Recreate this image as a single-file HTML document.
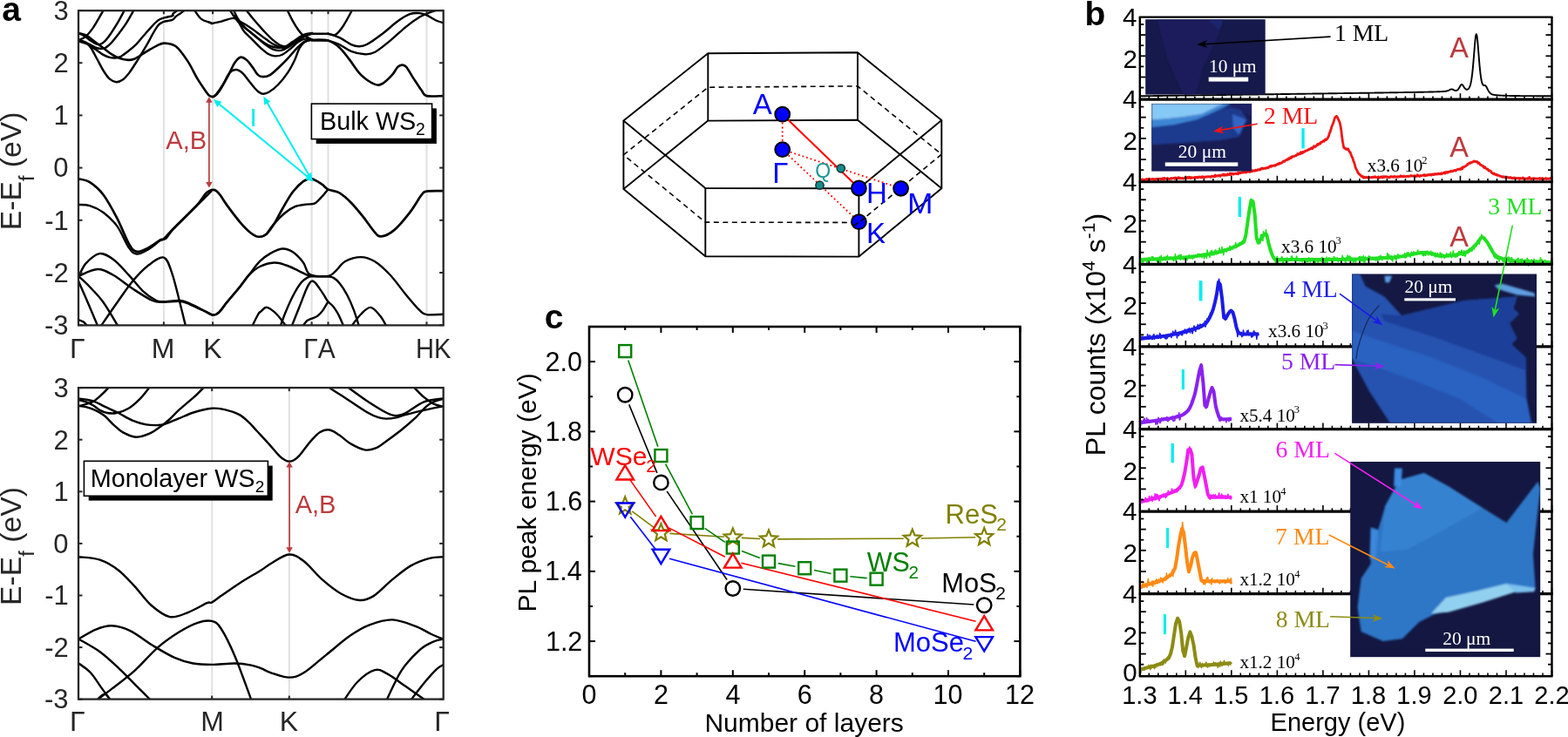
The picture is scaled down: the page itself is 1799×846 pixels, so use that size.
<!DOCTYPE html>
<html><head><meta charset="utf-8"><style>html,body{margin:0;padding:0;background:#fff;overflow:hidden}svg{display:block}</style></head>
<body><svg width="1799" height="846" viewBox="0 0 1799 846">
<rect width="1799" height="846" fill="#fff"/>
<line x1="187.90" y1="12.20" x2="187.90" y2="373.40" stroke="#e0e0e0" stroke-width="2"/>
<line x1="244.10" y1="12.20" x2="244.10" y2="373.40" stroke="#e0e0e0" stroke-width="2"/>
<line x1="357.60" y1="12.20" x2="357.60" y2="373.40" stroke="#e0e0e0" stroke-width="2"/>
<line x1="376.50" y1="12.20" x2="376.50" y2="373.40" stroke="#e0e0e0" stroke-width="2"/>
<line x1="489.50" y1="12.20" x2="489.50" y2="373.40" stroke="#e0e0e0" stroke-width="2"/>
<line x1="243.20" y1="445.10" x2="243.20" y2="802.60" stroke="#e0e0e0" stroke-width="2"/>
<line x1="331.80" y1="445.10" x2="331.80" y2="802.60" stroke="#e0e0e0" stroke-width="2"/>
<clipPath id="cpT"><rect x="90" y="12.2" width="418.7" height="361.2"/></clipPath>
<clipPath id="cpB"><rect x="90" y="445.1" width="418.7" height="357.5"/></clipPath>
<g clip-path="url(#cpT)">
<path d="M90.60,38.13 C92.14,38.62 96.70,39.41 99.82,41.08 C102.93,42.76 106.12,45.81 109.27,48.17 C112.42,50.54 115.57,52.90 118.72,55.26 C121.87,57.62 125.02,60.38 128.17,62.35 C131.32,64.32 134.47,65.99 137.62,67.08 C140.78,68.16 144.32,68.75 147.08,68.85 C149.83,68.95 151.80,68.55 154.17,67.67 C156.53,66.78 158.50,65.21 161.25,63.53 C164.01,61.86 167.56,59.50 170.71,57.62 C173.86,55.75 177.21,53.65 180.16,52.31 C183.11,50.97 184.82,49.42 188.43,49.59 C192.04,49.76 197.35,49.88 201.83,53.30 C206.31,56.73 211.19,63.98 215.31,70.15 C219.43,76.33 223.03,84.54 226.54,90.37 C230.05,96.21 234.16,101.96 236.36,105.15 C238.56,108.33 238.62,108.52 239.76,109.50 C240.89,110.47 242.02,110.92 243.16,110.99 C244.29,111.06 245.19,110.88 246.55,109.90 C247.91,108.93 248.71,109.11 251.31,105.15 C253.92,101.18 259.24,91.55 262.18,86.12 C265.13,80.68 266.72,75.92 268.98,72.53 C271.25,69.13 273.51,66.41 275.78,65.73 C278.04,65.05 280.31,66.64 282.57,68.45 C284.84,70.26 287.10,73.66 289.37,76.60 C291.64,79.55 294.13,84.19 296.17,86.12 C298.21,88.04 299.34,88.16 301.60,88.16 C303.87,88.16 306.81,87.82 309.76,86.12 C312.70,84.42 315.88,81.13 319.27,77.96 C322.67,74.79 326.52,70.94 330.15,67.09 C333.77,63.24 338.08,57.91 341.02,54.86 C343.97,51.80 345.55,50.21 347.82,48.74 C350.08,47.27 352.91,46.52 354.61,46.02 C356.31,45.52 354.39,45.66 358.01,45.75 C361.63,45.84 371.10,45.11 376.32,46.56 C381.54,48.00 385.30,50.86 389.35,54.42 C393.39,57.98 396.46,62.66 400.58,67.90 C404.70,73.14 409.19,81.08 414.06,85.87 C418.93,90.66 425.66,94.97 429.78,96.65 C433.90,98.34 435.40,97.78 438.77,95.98 C442.14,94.18 447.08,89.05 450.00,85.87 C452.92,82.69 454.42,78.76 456.29,76.88 C458.16,75.01 459.59,74.64 461.23,74.64 C462.88,74.64 463.93,74.26 466.17,76.88 C468.42,79.51 471.79,85.87 474.71,90.36 C477.63,94.86 481.23,100.55 483.70,103.84 C486.17,107.14 485.42,109.08 489.54,110.13 C493.66,111.18 504.89,110.13 508.41,110.13 C511.93,110.13 510.28,110.13 510.65,110.13" fill="none" stroke="#000" stroke-width="2.60" stroke-linejoin="round" stroke-linecap="round"/>
<path d="M243.16,110.99 C243.72,110.81 244.51,112.12 246.55,109.90 C248.59,107.68 252.56,102.09 255.39,97.67 C258.22,93.25 260.94,86.34 263.54,83.40 C266.15,80.45 268.53,79.89 271.02,80.00 C273.51,80.11 275.89,81.70 278.50,84.08 C281.10,86.46 283.93,90.99 286.65,94.27 C289.37,97.56 292.43,101.57 294.81,103.79 C297.19,106.01 298.66,107.25 300.92,107.59 C303.19,107.93 305.34,107.59 308.40,105.83 C311.46,104.06 315.65,100.73 319.27,96.99 C322.90,93.25 326.98,88.16 330.15,83.40 C333.32,78.64 336.04,73.21 338.30,68.45 C340.57,63.69 341.70,58.37 343.74,54.86 C345.78,51.34 348.16,48.87 350.54,47.38 C352.91,45.88 356.77,46.13 358.01,45.88" fill="none" stroke="#000" stroke-width="2.40" stroke-linejoin="round" stroke-linecap="round"/>
<path d="M118.72,11.54 C117.54,13.61 113.80,20.31 111.63,23.95 C109.46,27.59 107.69,30.65 105.72,33.40 C103.75,36.16 101.59,38.72 99.82,40.49 C98.04,42.26 96.63,43.15 95.09,44.04 C93.55,44.92 91.78,45.42 90.60,45.81 C89.42,46.20 88.43,46.30 88.00,46.40" fill="none" stroke="#000" stroke-width="2.40" stroke-linejoin="round" stroke-linecap="round"/>
<path d="M142.94,11.54 C141.66,13.91 137.92,21.19 135.26,25.72 C132.60,30.25 129.55,35.08 126.99,38.72 C124.43,42.36 122.26,45.51 119.90,47.58 C117.54,49.65 115.37,51.22 112.81,51.13 C110.25,51.03 107.10,48.57 104.54,46.99 C101.98,45.42 99.78,43.09 97.45,41.67 C95.13,40.26 92.17,39.07 90.60,38.48 C89.02,37.89 88.43,38.19 88.00,38.13" fill="none" stroke="#000" stroke-width="2.40" stroke-linejoin="round" stroke-linecap="round"/>
<path d="M153.57,11.54 C152.10,14.10 147.77,22.18 144.71,26.90 C141.66,31.63 138.22,36.06 135.26,39.90 C132.31,43.74 129.55,47.38 126.99,49.94 C124.43,52.50 122.46,54.38 119.90,55.26 C117.34,56.15 114.58,56.05 111.63,55.26 C108.68,54.47 104.94,51.72 102.18,50.54 C99.42,49.35 97.02,48.66 95.09,48.17 C93.16,47.68 91.78,47.66 90.60,47.58 C89.42,47.50 88.43,47.68 88.00,47.70" fill="none" stroke="#000" stroke-width="2.40" stroke-linejoin="round" stroke-linecap="round"/>
<path d="M88.00,45.57 C88.43,45.61 88.83,45.28 90.60,45.81 C92.37,46.34 96.31,47.19 98.63,48.76 C100.96,50.34 102.38,52.01 104.54,55.26 C106.71,58.51 109.27,63.93 111.63,68.26 C113.99,72.59 116.36,77.51 118.72,81.25 C121.08,85.00 123.35,88.54 125.81,90.71 C128.27,92.87 130.93,94.15 133.49,94.25 C136.05,94.35 138.71,93.07 141.17,91.30 C143.63,89.53 145.89,86.67 148.26,83.62 C150.62,80.57 153.18,76.33 155.35,72.98 C157.51,69.64 159.09,67.08 161.25,63.53 C163.42,59.99 165.98,55.85 168.34,51.72 C170.71,47.58 173.27,42.46 175.43,38.72 C177.60,34.98 179.57,31.43 181.34,29.27 C183.11,27.10 184.69,26.51 186.07,25.72 C187.45,24.94 187.62,25.03 189.61,24.54 C191.60,24.05 195.96,23.70 198.00,22.77 C200.04,21.83 200.25,20.21 201.83,18.93 C203.40,17.65 205.76,16.31 207.44,15.11 C209.13,13.91 211.19,12.30 211.94,11.74" fill="none" stroke="#000" stroke-width="2.40" stroke-linejoin="round" stroke-linecap="round"/>
<path d="M88.00,47.58 C88.43,47.58 88.63,47.09 90.60,47.58 C92.57,48.07 96.70,49.06 99.82,50.54 C102.93,52.01 106.31,54.47 109.27,56.44 C112.22,58.41 114.78,60.78 117.54,62.35 C120.30,63.93 123.25,65.21 125.81,65.89 C128.37,66.58 130.73,66.68 132.90,66.49 C135.06,66.29 136.44,65.99 138.81,64.71 C141.17,63.43 144.12,61.17 147.08,58.81 C150.03,56.44 153.57,53.49 156.53,50.54 C159.48,47.58 162.04,44.23 164.80,41.08 C167.56,37.93 170.31,34.58 173.07,31.63 C175.83,28.68 178.78,25.23 181.34,23.36 C183.90,21.49 185.65,21.29 188.43,20.41 C191.21,19.52 196.33,18.81 198.00,18.04 C199.67,17.27 197.45,16.83 198.46,15.78 C199.47,14.73 203.14,12.41 204.07,11.74" fill="none" stroke="#000" stroke-width="2.40" stroke-linejoin="round" stroke-linecap="round"/>
<path d="M262.86,10.00 C263.88,11.59 266.83,16.57 268.98,19.51 C271.13,22.46 272.83,24.84 275.78,27.67 C278.72,30.50 283.03,33.56 286.65,36.51 C290.28,39.45 293.90,42.74 297.53,45.34 C301.15,47.95 304.77,50.55 308.40,52.14 C312.02,53.72 316.10,54.63 319.27,54.86 C322.45,55.08 324.71,54.63 327.43,53.50 C330.15,52.36 332.87,49.87 335.58,48.06 C338.30,46.25 341.25,44.09 343.74,42.62 C346.23,41.15 348.16,40.02 350.54,39.22 C352.91,38.43 356.77,38.09 358.01,37.86" fill="none" stroke="#000" stroke-width="2.40" stroke-linejoin="round" stroke-linecap="round"/>
<path d="M267.35,10.00 C268.30,11.93 270.75,17.93 273.06,21.55 C275.37,25.18 278.04,28.58 281.21,31.75 C284.39,34.92 288.46,37.52 292.09,40.58 C295.71,43.64 299.34,47.38 302.96,50.10 C306.59,52.82 310.44,55.65 313.84,56.89 C317.23,58.14 320.41,58.14 323.35,57.57 C326.30,57.01 328.79,55.20 331.51,53.50 C334.23,51.80 336.94,49.30 339.66,47.38 C342.38,45.45 344.76,43.48 347.82,41.94 C350.88,40.40 356.31,38.77 358.01,38.14" fill="none" stroke="#000" stroke-width="2.40" stroke-linejoin="round" stroke-linecap="round"/>
<path d="M223.17,11.74 C224.48,13.43 227.85,19.42 231.03,21.85 C234.22,24.28 240.25,25.49 242.27,26.34 C244.29,27.20 241.42,27.22 243.16,26.99 C244.89,26.76 248.59,25.97 252.67,24.95 C256.75,23.93 263.77,20.87 267.62,20.87 C271.47,20.87 272.83,23.37 275.78,24.95 C278.72,26.54 282.12,28.35 285.29,30.39 C288.46,32.43 291.41,34.69 294.81,37.18 C298.21,39.68 302.06,42.85 305.68,45.34 C309.31,47.83 312.93,50.55 316.55,52.14 C320.18,53.72 324.26,55.08 327.43,54.86 C330.60,54.63 332.87,52.36 335.58,50.78 C338.30,49.19 341.25,46.93 343.74,45.34 C346.23,43.75 348.16,42.49 350.54,41.26 C352.91,40.04 356.77,38.54 358.01,38.00" fill="none" stroke="#000" stroke-width="2.40" stroke-linejoin="round" stroke-linecap="round"/>
<path d="M281.21,10.00 C283.03,12.27 288.46,19.29 292.09,23.59 C295.71,27.90 299.56,32.20 302.96,35.83 C306.36,39.45 309.31,42.62 312.48,45.34 C315.65,48.06 319.05,50.89 321.99,52.14 C324.94,53.38 327.43,53.38 330.15,52.82 C332.87,52.25 335.58,50.32 338.30,48.74 C341.02,47.15 343.17,45.00 346.46,43.30 C349.74,41.60 356.09,39.34 358.01,38.54" fill="none" stroke="#000" stroke-width="2.40" stroke-linejoin="round" stroke-linecap="round"/>
<path d="M268.98,18.16 C269.89,19.51 272.61,23.37 274.42,26.31 C276.23,29.26 277.36,32.65 279.86,35.83 C282.35,39.00 286.20,42.17 289.37,45.34 C292.54,48.51 295.71,52.02 298.88,54.86 C302.06,57.69 305.68,60.75 308.40,62.33 C311.12,63.92 312.70,64.26 315.20,64.37 C317.69,64.48 320.41,64.37 323.35,63.01 C326.30,61.65 329.69,58.71 332.87,56.21 C336.04,53.72 339.44,49.98 342.38,48.06 C345.33,46.13 347.93,45.07 350.54,44.66 C353.14,44.25 356.77,45.45 358.01,45.61" fill="none" stroke="#000" stroke-width="2.40" stroke-linejoin="round" stroke-linecap="round"/>
<path d="M328.79,10.00 C329.92,12.27 333.32,19.51 335.58,23.59 C337.85,27.67 340.34,31.63 342.38,34.47 C344.42,37.30 346.23,39.22 347.82,40.58 C349.40,41.94 350.20,41.78 351.90,42.62 C353.59,43.46 356.99,45.11 358.01,45.61" fill="none" stroke="#000" stroke-width="2.40" stroke-linejoin="round" stroke-linecap="round"/>
<path d="M357.90,38.70 C360.97,38.70 373.25,38.70 376.32,38.70" fill="none" stroke="#000" stroke-width="2.40" stroke-linejoin="round" stroke-linecap="round"/>
<path d="M357.90,46.56 C360.97,46.56 373.25,46.56 376.32,46.56" fill="none" stroke="#000" stroke-width="2.40" stroke-linejoin="round" stroke-linecap="round"/>
<path d="M403.95,11.74 C402.26,14.73 397.02,25.03 393.84,29.71 C390.66,34.39 387.78,38.32 384.86,39.82 C381.94,41.32 377.74,38.88 376.32,38.70" fill="none" stroke="#000" stroke-width="2.40" stroke-linejoin="round" stroke-linecap="round"/>
<path d="M376.32,38.70 C378.49,39.44 384.93,41.13 389.35,43.19 C393.77,45.25 399.08,49.37 402.83,51.05 C406.57,52.74 408.82,53.30 411.81,53.30 C414.81,53.30 416.30,53.48 420.80,51.05 C425.29,48.62 432.78,43.19 438.77,38.70 C444.76,34.20 451.50,27.84 456.74,24.09 C461.98,20.35 466.10,17.73 470.22,16.23 C474.34,14.73 478.23,14.92 481.45,15.11 C484.67,15.30 486.54,16.04 489.54,17.36 C492.53,18.67 495.90,21.36 499.42,22.97 C502.94,24.58 508.78,26.34 510.65,27.01" fill="none" stroke="#000" stroke-width="2.40" stroke-linejoin="round" stroke-linecap="round"/>
<path d="M376.32,46.56 C378.49,47.31 384.93,48.99 389.35,51.05 C393.77,53.11 397.96,57.04 402.83,58.91 C407.69,60.79 414.06,62.10 418.55,62.28 C423.04,62.47 424.92,62.66 429.78,60.04 C434.65,57.42 441.76,51.43 447.75,46.56 C453.74,41.69 460.11,35.33 465.73,30.83 C471.34,26.34 477.48,22.11 481.45,19.60 C485.42,17.09 486.92,16.91 489.54,15.78 C492.16,14.66 494.78,13.72 497.17,12.86 C499.57,12.00 502.79,10.99 503.91,10.62" fill="none" stroke="#000" stroke-width="2.40" stroke-linejoin="round" stroke-linecap="round"/>
<path d="M89.94,205.28 C92.11,205.91 98.18,206.03 102.97,209.10 C107.77,212.17 113.46,216.77 118.70,223.70 C123.94,230.63 129.56,241.30 134.43,250.66 C139.29,260.02 144.16,273.50 147.91,279.87 C151.65,286.23 153.15,288.11 156.89,288.85 C160.64,289.60 165.88,286.61 170.37,284.36 C174.87,282.11 180.93,277.06 183.85,275.37 C186.77,273.69 185.65,276.12 187.90,274.25 C190.14,272.38 193.51,268.07 197.33,264.14 C201.15,260.21 205.95,255.53 210.81,250.66 C215.68,245.79 222.33,239.70 226.54,234.93 C230.75,230.17 233.71,224.73 236.05,222.09 C238.40,219.44 239.21,219.77 240.59,219.06 C241.98,218.35 243.12,217.85 244.38,217.85 C245.64,217.85 246.78,218.03 248.16,219.06 C249.55,220.09 250.69,221.33 252.70,224.05 C254.72,226.78 256.49,230.24 260.27,235.41 C264.05,240.58 270.87,249.79 275.41,255.08 C279.95,260.38 283.98,264.42 287.51,267.19 C291.05,269.97 293.57,271.48 296.60,271.73 C299.62,271.98 302.65,271.23 305.68,268.70 C308.70,266.18 311.73,261.39 314.76,256.60 C317.79,251.80 320.31,246.00 323.84,239.95 C327.37,233.89 331.91,225.57 335.95,220.27 C339.98,214.97 344.52,210.69 348.06,208.16 C351.59,205.64 353.63,204.61 357.14,205.14 C360.65,205.67 365.93,209.30 369.13,211.34 C372.33,213.39 372.95,215.72 376.32,217.41 C379.69,219.09 384.93,218.90 389.35,221.45 C393.77,224.00 398.33,228.19 402.83,232.68 C407.32,237.17 411.81,242.79 416.30,248.41 C420.80,254.02 426.23,262.56 429.78,266.38 C433.34,270.20 433.90,271.69 437.65,271.32 C441.39,270.94 446.82,268.70 452.25,264.13 C457.68,259.56 464.98,250.65 470.22,243.91 C475.46,237.17 480.48,227.74 483.70,223.70 C486.92,219.65 485.42,220.40 489.54,219.65 C493.66,218.90 504.89,219.28 508.41,219.20 C511.93,219.13 510.28,219.20 510.65,219.20" fill="none" stroke="#000" stroke-width="2.70" stroke-linejoin="round" stroke-linecap="round"/>
<path d="M85.00,234.93 C85.82,234.93 86.95,234.75 89.94,234.93 C92.94,235.12 98.18,234.56 102.97,236.06 C107.77,237.55 113.46,239.99 118.70,243.92 C123.94,247.85 129.56,252.91 134.43,259.65 C139.29,266.39 144.16,279.04 147.91,284.36 C151.65,289.68 153.15,291.25 156.89,291.55 C160.64,291.85 165.88,288.74 170.37,286.16 C174.87,283.57 180.48,278.14 183.85,276.05 C187.22,273.95 188.35,275.49 190.59,273.58 C192.84,271.67 193.96,268.33 197.33,264.59 C200.70,260.85 205.95,255.98 210.81,251.11 C215.68,246.24 221.30,240.63 226.54,235.38 C231.78,230.14 239.65,222.28 242.27,219.66" fill="none" stroke="#000" stroke-width="2.40" stroke-linejoin="round" stroke-linecap="round"/>
<path d="M305.68,268.70 C307.19,266.69 311.23,260.63 314.76,256.60 C318.29,252.56 322.83,247.77 326.87,244.49 C330.90,241.21 334.94,238.56 338.98,236.92 C343.01,235.28 347.93,235.10 351.08,234.65 C354.24,234.20 356.01,234.52 357.89,234.20 C359.78,233.87 360.52,234.06 362.39,232.68 C364.26,231.31 366.81,228.49 369.13,225.94 C371.45,223.40 375.12,218.83 376.32,217.41" fill="none" stroke="#000" stroke-width="2.40" stroke-linejoin="round" stroke-linecap="round"/>
<path d="M85.00,316.94 C85.82,316.94 87.70,319.37 89.94,316.94 C92.19,314.50 94.44,306.64 98.48,302.33 C102.52,298.03 108.96,291.85 114.21,291.10 C119.45,290.35 124.32,293.72 129.93,297.84 C135.55,301.96 142.29,309.82 147.91,315.81 C153.52,321.81 158.39,328.92 163.63,333.79 C168.88,338.66 175.32,342.96 179.36,345.02 C183.40,347.08 183.40,346.14 187.90,346.14 C192.39,346.14 201.38,344.65 206.32,345.02 C211.26,345.40 212.60,346.32 217.55,348.39 C222.51,350.46 231.58,355.29 236.05,357.46 C240.52,359.63 241.86,361.25 244.38,361.40 C246.90,361.55 248.54,360.79 251.19,358.37 C253.84,355.95 256.23,351.81 260.27,346.87 C264.31,341.92 271.12,334.00 275.41,328.70 C279.69,323.41 282.22,319.88 286.00,315.08 C289.79,310.29 294.07,303.98 298.11,299.95 C302.15,295.91 305.93,293.26 310.22,290.87 C314.51,288.47 319.55,285.82 323.84,285.57 C328.13,285.32 331.91,286.70 335.95,289.35 C339.98,292.00 344.78,297.17 348.06,301.46 C351.34,305.75 350.91,312.51 355.62,315.08 C360.33,317.66 371.45,317.55 376.32,316.92 C381.19,316.29 381.56,314.11 384.86,311.30 C388.15,308.50 391.22,302.77 396.09,300.07 C400.95,297.38 408.44,295.13 414.06,295.13 C419.67,295.13 424.17,296.63 429.78,300.07 C435.40,303.52 441.76,309.43 447.75,315.80 C453.74,322.16 460.11,331.52 465.73,338.26 C471.34,345.00 477.48,352.41 481.45,356.23 C485.42,360.05 485.04,360.43 489.54,361.17 C494.03,361.92 504.89,360.80 508.41,360.73 C511.93,360.65 510.28,360.73 510.65,360.73" fill="none" stroke="#000" stroke-width="2.40" stroke-linejoin="round" stroke-linecap="round"/>
<path d="M89.94,316.94 C93.61,315.63 105.30,309.26 111.96,309.07 C118.63,308.89 123.19,312.07 129.93,315.81 C136.67,319.56 144.91,326.67 152.40,331.54 C159.89,336.41 168.95,342.48 174.87,345.02 C180.78,347.57 182.66,346.67 187.90,346.82 C193.14,346.97 201.38,345.51 206.32,345.92 C211.26,346.33 212.60,347.29 217.55,349.29 C222.51,351.29 231.58,355.82 236.05,357.92 C240.52,360.01 241.86,361.70 244.38,361.85 C246.90,362.00 248.54,361.25 251.19,358.82 C253.84,356.40 256.23,352.27 260.27,347.32 C264.31,342.38 271.12,334.48 275.41,329.16 C279.69,323.84 282.22,319.24 286.00,315.39 C289.79,311.53 293.32,308.32 298.11,306.00 C302.90,303.68 309.71,301.71 314.76,301.46 C319.80,301.21 323.84,302.97 328.38,304.49 C332.92,306.00 337.71,308.52 342.00,310.54 C346.29,312.56 351.71,315.51 354.11,316.60 C356.51,317.68 356.00,316.97 356.38,317.05" fill="none" stroke="#000" stroke-width="2.40" stroke-linejoin="round" stroke-linecap="round"/>
<path d="M89.94,316.94 C92.11,319.00 98.18,324.24 102.97,329.29 C107.77,334.35 113.08,339.40 118.70,347.27 C124.32,355.13 133.68,371.61 136.67,376.47" fill="none" stroke="#000" stroke-width="2.40" stroke-linejoin="round" stroke-linecap="round"/>
<path d="M89.94,322.55 C91.74,326.67 96.87,338.28 100.73,347.27 C104.58,356.25 111.02,371.61 113.08,376.47" fill="none" stroke="#000" stroke-width="2.40" stroke-linejoin="round" stroke-linecap="round"/>
<path d="M114.21,376.47 C117.58,371.61 128.06,356.25 134.43,347.27 C140.79,338.28 146.41,329.67 152.40,322.55 C158.39,315.44 164.46,309.07 170.37,304.58 C176.29,300.09 183.40,294.10 187.90,295.59 C192.39,297.09 194.26,304.96 197.33,313.57 C200.40,322.18 203.63,336.78 206.32,347.27 C209.02,357.75 212.31,371.61 213.51,376.47" fill="none" stroke="#000" stroke-width="2.40" stroke-linejoin="round" stroke-linecap="round"/>
<path d="M88.37,366.36 C88.63,366.48 88.63,366.48 89.94,367.04 C91.25,367.60 94.25,368.16 96.23,369.73 C98.22,371.31 100.91,375.35 101.85,376.47" fill="none" stroke="#000" stroke-width="2.40" stroke-linejoin="round" stroke-linecap="round"/>
<path d="M288.33,376.47 C289.64,373.85 294.33,363.93 296.19,360.75 C298.05,357.56 297.82,358.67 299.49,357.36 C301.17,356.04 303.24,352.30 306.23,352.86 C309.23,353.42 313.53,356.79 317.46,360.73 C321.40,364.66 327.76,373.83 329.82,376.45" fill="none" stroke="#000" stroke-width="2.40" stroke-linejoin="round" stroke-linecap="round"/>
<path d="M320.92,376.50 C322.00,373.58 324.76,365.28 327.37,358.99 C329.98,352.69 333.52,344.55 336.59,338.71 C339.66,332.87 343.04,327.34 345.81,323.96 C348.57,320.58 351.34,319.54 353.18,318.43 C355.02,317.33 354.72,317.51 356.87,317.33 C359.02,317.14 363.01,317.30 366.08,317.33 C369.16,317.36 372.53,317.25 375.30,317.51 C378.06,317.77 380.22,317.51 382.67,318.89 C385.13,320.28 387.43,322.50 390.05,325.81 C392.66,329.11 395.73,333.79 398.34,338.71 C400.95,343.63 403.33,349.00 405.71,355.30 C408.10,361.60 411.47,372.96 412.63,376.50" fill="none" stroke="#000" stroke-width="2.40" stroke-linejoin="round" stroke-linecap="round"/>
<path d="M333.82,376.50 C335.36,372.66 340.12,360.83 343.04,353.46 C345.96,346.08 349.34,336.94 351.34,332.26 C353.33,327.57 353.95,326.96 355.02,325.35 C356.10,323.73 356.71,322.73 357.79,322.58 C358.86,322.43 360.09,323.12 361.47,324.42 C362.86,325.73 364.39,328.03 366.08,330.41 C367.77,332.80 369.92,336.10 371.61,338.71 C373.30,341.32 374.69,344.16 376.22,346.08 C377.76,348.00 379.45,348.77 380.83,350.23 C382.21,351.69 383.13,352.76 384.52,354.84 C385.90,356.91 387.36,359.06 389.12,362.67 C390.89,366.28 394.12,374.19 395.12,376.50" fill="none" stroke="#000" stroke-width="2.40" stroke-linejoin="round" stroke-linecap="round"/>
<path d="M345.81,376.50 C346.88,375.12 350.26,370.02 352.26,368.20 C354.25,366.39 355.79,366.54 357.79,365.62 C359.78,364.70 362.24,364.09 364.24,362.67 C366.24,361.26 367.77,359.83 369.77,357.14 C371.77,354.45 375.15,348.31 376.22,346.54" fill="none" stroke="#000" stroke-width="2.40" stroke-linejoin="round" stroke-linecap="round"/>
<path d="M401.70,376.45 C403.76,373.83 410.13,364.66 414.06,360.73 C417.99,356.79 421.55,352.49 425.29,352.86 C429.03,353.24 433.34,359.04 436.52,362.97 C439.70,366.90 443.07,374.20 444.38,376.45" fill="none" stroke="#000" stroke-width="2.40" stroke-linejoin="round" stroke-linecap="round"/>
</g>
<g clip-path="url(#cpB)">
<path d="M88.00,457.55 C88.39,457.55 88.57,457.38 90.34,457.55 C92.11,457.73 95.48,458.00 98.64,458.62 C101.79,459.24 105.73,459.95 109.28,461.28 C112.82,462.61 115.48,464.47 119.91,466.60 C124.35,468.72 130.55,471.38 135.87,474.04 C141.19,476.70 146.51,480.34 151.83,482.55 C157.15,484.77 163.00,486.42 167.79,487.34 C172.57,488.26 177.01,488.17 180.55,488.09 C184.10,488.00 184.99,488.09 189.06,486.81 C193.14,485.53 199.41,482.69 205.02,480.43 C210.63,478.16 216.42,475.18 222.74,473.24 C229.06,471.29 236.96,469.23 242.95,468.74 C248.94,468.26 253.43,469.12 258.67,470.32 C263.91,471.51 269.90,473.50 274.39,475.93 C278.88,478.36 282.18,481.73 285.62,484.91 C289.05,488.10 291.19,490.92 295.00,495.04 C298.81,499.16 304.17,504.88 308.48,509.64 C312.78,514.39 317.65,520.42 320.83,523.57 C324.02,526.71 325.70,527.50 327.57,528.51 C329.44,529.52 330.57,529.63 332.07,529.63 C333.56,529.63 334.69,529.59 336.56,528.51 C338.43,527.42 340.11,526.64 343.30,523.12 C346.48,519.60 351.72,511.88 355.65,507.39 C359.58,502.90 363.14,498.48 366.88,496.16 C370.63,493.84 374.37,492.90 378.12,493.46 C381.86,494.03 385.23,496.83 389.35,499.53 C393.47,502.22 397.96,506.83 402.83,509.64 C407.69,512.45 413.84,515.57 418.55,516.38 C423.26,517.18 426.85,516.20 431.06,514.47 C435.28,512.73 438.87,509.50 443.83,505.96 C448.79,502.41 455.53,497.45 460.85,493.19 C466.17,488.94 470.60,485.21 475.74,480.43 C480.89,475.64 486.38,468.19 491.70,464.47 C497.02,460.74 504.11,459.18 507.66,458.09 C511.21,456.99 512.09,457.91 512.98,457.87" fill="none" stroke="#000" stroke-width="2.40" stroke-linejoin="round" stroke-linecap="round"/>
<path d="M88.00,466.06 C88.39,466.06 88.57,465.89 90.34,466.06 C92.11,466.24 95.48,466.33 98.64,467.13 C101.79,467.93 105.73,469.17 109.28,470.85 C112.82,472.54 116.37,474.40 119.91,477.23 C123.46,480.07 127.01,484.68 130.55,487.87 C134.10,491.06 136.94,494.08 141.19,496.38 C145.45,498.69 151.12,501.44 156.09,501.70 C161.05,501.97 166.37,499.93 170.98,497.98 C175.59,496.03 179.84,492.75 183.74,490.00 C187.65,487.25 190.84,484.68 194.38,481.49 C197.93,478.30 200.30,475.15 205.02,470.85 C209.75,466.56 217.54,460.49 222.74,455.72 C227.94,450.95 233.97,444.49 236.21,442.25" fill="none" stroke="#000" stroke-width="2.40" stroke-linejoin="round" stroke-linecap="round"/>
<path d="M88.00,459.15 C88.39,459.15 88.57,458.79 90.34,459.15 C92.11,459.50 95.84,460.21 98.64,461.28 C101.44,462.34 104.49,463.94 107.15,465.53 C109.81,467.13 111.94,469.43 114.60,470.85 C117.26,472.27 119.91,473.51 123.11,474.04 C126.30,474.57 129.67,474.93 133.74,474.04 C137.82,473.16 143.14,471.38 147.57,468.72 C152.01,466.06 156.44,461.99 160.34,458.09 C164.24,454.18 168.76,448.07 170.98,445.32 C173.20,442.57 173.20,442.22 173.64,441.60" fill="none" stroke="#000" stroke-width="2.40" stroke-linejoin="round" stroke-linecap="round"/>
<path d="M88.00,466.06 C88.39,466.06 88.57,466.42 90.34,466.06 C92.11,465.71 95.84,464.82 98.64,463.94 C101.44,463.05 104.31,462.43 107.15,460.74 C109.99,459.06 112.82,456.40 115.66,453.83 C118.50,451.26 122.31,447.36 124.17,445.32 C126.03,443.28 126.39,442.22 126.83,441.60" fill="none" stroke="#000" stroke-width="2.40" stroke-linejoin="round" stroke-linecap="round"/>
<path d="M375.87,442.25 C376.24,442.70 377.43,444.25 378.12,444.94 C378.80,445.63 377.91,444.99 380.00,446.38 C382.09,447.78 387.09,450.99 390.64,453.30 C394.18,455.60 395.96,456.76 401.28,460.21 C406.60,463.67 417.23,470.94 422.55,474.04 C427.87,477.15 429.82,477.73 433.19,478.83 C436.56,479.93 439.22,480.55 442.77,480.64 C446.31,480.73 450.74,480.11 454.47,479.36 C458.19,478.62 459.79,477.59 465.11,476.17 C470.43,474.75 479.29,472.45 486.38,470.85 C493.48,469.26 503.23,467.34 507.66,466.60 C512.09,465.85 512.09,466.42 512.98,466.38" fill="none" stroke="#000" stroke-width="2.40" stroke-linejoin="round" stroke-linecap="round"/>
<path d="M398.09,443.19 C398.44,443.55 396.13,442.30 400.21,445.32 C404.29,448.33 415.28,456.49 422.55,461.28 C429.82,466.06 438.51,471.38 443.83,474.04 C449.15,476.70 450.92,477.20 454.47,477.23 C458.01,477.27 459.79,476.91 465.11,474.26 C470.43,471.60 479.29,464.06 486.38,461.28 C493.48,458.49 503.23,458.19 507.66,457.55 C512.09,456.91 512.09,457.46 512.98,457.45" fill="none" stroke="#000" stroke-width="2.40" stroke-linejoin="round" stroke-linecap="round"/>
<path d="M473.62,442.13 C473.97,442.66 473.62,443.01 475.74,445.32 C477.87,447.62 482.84,452.94 486.38,455.96 C489.93,458.97 493.48,461.63 497.02,463.40 C500.57,465.18 505.00,466.03 507.66,466.60 C510.32,467.16 512.09,466.77 512.98,466.81" fill="none" stroke="#000" stroke-width="2.40" stroke-linejoin="round" stroke-linecap="round"/>
<path d="M88.00,639.23 C88.36,639.23 85.69,638.65 90.14,639.23 C94.59,639.80 107.05,640.12 114.70,642.70 C122.36,645.28 129.39,649.60 136.06,654.71 C142.74,659.83 148.53,666.73 154.76,673.40 C160.99,680.08 166.77,688.98 173.45,694.77 C180.12,700.55 187.69,706.78 194.81,708.12 C201.93,709.45 209.05,705.45 216.17,702.78 C223.29,700.11 233.08,693.97 237.53,692.10 C241.98,690.23 240.20,692.90 242.87,691.56 C245.54,690.23 248.21,687.78 253.55,684.09 C258.89,680.39 267.17,674.38 274.92,669.40 C282.66,664.41 294.00,657.96 300.02,654.18 C306.04,650.40 305.77,649.66 311.03,646.72 C316.30,643.79 325.38,637.01 331.61,636.57 C337.85,636.12 342.08,639.24 348.45,644.05 C354.82,648.86 362.70,659.19 369.83,665.43 C376.95,671.67 384.08,677.54 391.21,681.46 C398.33,685.38 406.35,688.50 412.58,688.95 C418.82,689.39 422.38,688.06 428.62,684.14 C434.85,680.22 442.87,671.22 450.00,665.43 C457.12,659.64 464.25,653.49 471.38,649.40 C478.50,645.30 486.52,642.54 492.76,640.84 C498.99,639.15 505.67,639.51 508.79,639.24 C511.91,638.97 511.02,639.24 511.46,639.24" fill="none" stroke="#000" stroke-width="2.40" stroke-linejoin="round" stroke-linecap="round"/>
<path d="M88.00,733.48 C88.36,733.48 86.58,735.26 90.14,733.48 C93.70,731.70 103.04,725.34 109.36,722.80 C115.68,720.27 121.38,718.04 128.05,718.26 C134.73,718.49 141.40,720.27 149.42,724.14 C157.43,728.01 167.66,736.38 176.12,741.50 C184.57,746.61 192.58,751.51 200.15,754.85 C207.72,758.18 214.39,760.19 221.51,761.52 C228.63,762.86 234.86,762.86 242.87,762.86 C250.88,762.86 262.01,761.39 269.58,761.52 C277.14,761.66 283.19,762.68 288.27,763.66 C293.34,764.64 296.22,765.95 300.02,767.40 C303.81,768.84 305.77,770.61 311.03,772.32 C316.30,774.04 325.38,777.67 331.61,777.67 C337.85,777.67 341.19,776.78 348.45,772.32 C355.71,767.87 366.26,758.07 375.17,750.95 C384.08,743.82 393.88,735.13 401.89,729.57 C409.91,724.00 415.26,720.57 423.27,717.54 C431.29,714.51 441.09,711.17 450.00,711.39 C458.91,711.62 469.15,716.07 476.72,718.88 C484.29,721.68 490.08,725.78 495.43,728.23 C500.77,730.68 506.12,732.68 508.79,733.58 C511.46,734.47 511.02,733.58 511.46,733.58" fill="none" stroke="#000" stroke-width="2.40" stroke-linejoin="round" stroke-linecap="round"/>
<path d="M90.14,733.48 C94.23,735.93 107.05,742.61 114.70,748.17 C122.36,753.73 129.39,760.63 136.06,766.86 C142.74,773.09 148.08,778.88 154.76,785.55 C161.43,792.23 172.56,803.36 176.12,806.92" fill="none" stroke="#000" stroke-width="2.40" stroke-linejoin="round" stroke-linecap="round"/>
<path d="M106.69,806.92 C110.25,804.25 120.04,797.13 128.05,790.89 C136.06,784.66 145.85,777.54 154.76,769.53 C163.66,761.52 173.00,750.17 181.46,742.83 C189.91,735.49 197.92,730.15 205.49,725.47 C213.06,720.80 220.62,716.88 226.85,714.79 C233.08,712.70 238.42,711.81 242.87,712.92 C247.32,714.04 249.10,714.70 253.55,721.47 C258.00,728.23 263.57,739.27 269.58,753.51 C275.58,767.75 286.26,798.02 289.60,806.92" fill="none" stroke="#000" stroke-width="2.40" stroke-linejoin="round" stroke-linecap="round"/>
<path d="M88.00,761.52 C88.36,761.52 87.47,759.74 90.14,761.52 C92.81,763.30 99.48,767.31 104.02,772.20 C108.56,777.10 113.14,785.11 117.37,790.89 C121.60,796.68 127.39,804.25 129.39,806.92" fill="none" stroke="#000" stroke-width="2.40" stroke-linejoin="round" stroke-linecap="round"/>
<path d="M108.03,806.92 C110.03,805.22 116.70,796.77 120.04,796.77 C123.38,796.77 126.72,805.22 128.05,806.92" fill="none" stroke="#000" stroke-width="2.40" stroke-linejoin="round" stroke-linecap="round"/>
<path d="M392.54,807.07 C395.44,803.06 403.68,789.34 409.91,783.01 C416.15,776.69 424.16,770.68 429.95,769.12 C435.74,767.56 438.64,770.45 444.65,773.66 C450.67,776.87 458.01,782.79 466.03,788.36 C474.05,793.93 488.30,803.95 492.76,807.07" fill="none" stroke="#000" stroke-width="2.40" stroke-linejoin="round" stroke-linecap="round"/>
<path d="M441.98,807.07 C445.10,800.83 454.01,779.90 460.69,769.65 C467.37,759.41 475.83,751.17 482.07,745.60 C488.30,740.03 493.65,738.25 498.10,736.25 C502.55,734.24 506.56,734.02 508.79,733.58 C511.02,733.13 511.02,733.58 511.46,733.58" fill="none" stroke="#000" stroke-width="2.40" stroke-linejoin="round" stroke-linecap="round"/>
<path d="M468.70,807.07 C471.82,803.06 482.07,789.47 487.41,783.01 C492.76,776.56 497.21,771.66 500.77,768.32 C504.34,764.98 507.01,763.95 508.79,762.97 C510.57,761.99 511.02,762.53 511.46,762.44" fill="none" stroke="#000" stroke-width="2.40" stroke-linejoin="round" stroke-linecap="round"/>
</g>
<line x1="90.00" y1="373.20" x2="94.50" y2="373.20" stroke="#262626" stroke-width="2"/>
<line x1="508.70" y1="373.20" x2="504.20" y2="373.20" stroke="#262626" stroke-width="2"/>
<line x1="90.00" y1="313.00" x2="94.50" y2="313.00" stroke="#262626" stroke-width="2"/>
<line x1="508.70" y1="313.00" x2="504.20" y2="313.00" stroke="#262626" stroke-width="2"/>
<line x1="90.00" y1="252.80" x2="94.50" y2="252.80" stroke="#262626" stroke-width="2"/>
<line x1="508.70" y1="252.80" x2="504.20" y2="252.80" stroke="#262626" stroke-width="2"/>
<line x1="90.00" y1="192.60" x2="94.50" y2="192.60" stroke="#262626" stroke-width="2"/>
<line x1="508.70" y1="192.60" x2="504.20" y2="192.60" stroke="#262626" stroke-width="2"/>
<line x1="90.00" y1="132.40" x2="94.50" y2="132.40" stroke="#262626" stroke-width="2"/>
<line x1="508.70" y1="132.40" x2="504.20" y2="132.40" stroke="#262626" stroke-width="2"/>
<line x1="90.00" y1="72.20" x2="94.50" y2="72.20" stroke="#262626" stroke-width="2"/>
<line x1="508.70" y1="72.20" x2="504.20" y2="72.20" stroke="#262626" stroke-width="2"/>
<line x1="90.00" y1="12.00" x2="94.50" y2="12.00" stroke="#262626" stroke-width="2"/>
<line x1="508.70" y1="12.00" x2="504.20" y2="12.00" stroke="#262626" stroke-width="2"/>
<line x1="187.90" y1="373.40" x2="187.90" y2="369.40" stroke="#262626" stroke-width="2"/>
<line x1="187.90" y1="12.20" x2="187.90" y2="16.20" stroke="#262626" stroke-width="2"/>
<line x1="244.10" y1="373.40" x2="244.10" y2="369.40" stroke="#262626" stroke-width="2"/>
<line x1="244.10" y1="12.20" x2="244.10" y2="16.20" stroke="#262626" stroke-width="2"/>
<line x1="357.60" y1="373.40" x2="357.60" y2="369.40" stroke="#262626" stroke-width="2"/>
<line x1="357.60" y1="12.20" x2="357.60" y2="16.20" stroke="#262626" stroke-width="2"/>
<line x1="376.50" y1="373.40" x2="376.50" y2="369.40" stroke="#262626" stroke-width="2"/>
<line x1="376.50" y1="12.20" x2="376.50" y2="16.20" stroke="#262626" stroke-width="2"/>
<line x1="489.50" y1="373.40" x2="489.50" y2="369.40" stroke="#262626" stroke-width="2"/>
<line x1="489.50" y1="12.20" x2="489.50" y2="16.20" stroke="#262626" stroke-width="2"/>
<rect x="90.00" y="12.20" width="418.70" height="361.20" fill="none" stroke="#262626" stroke-width="2.3"/>
<line x1="90.00" y1="802.70" x2="94.50" y2="802.70" stroke="#262626" stroke-width="2"/>
<line x1="508.70" y1="802.70" x2="504.20" y2="802.70" stroke="#262626" stroke-width="2"/>
<line x1="90.00" y1="743.10" x2="94.50" y2="743.10" stroke="#262626" stroke-width="2"/>
<line x1="508.70" y1="743.10" x2="504.20" y2="743.10" stroke="#262626" stroke-width="2"/>
<line x1="90.00" y1="683.50" x2="94.50" y2="683.50" stroke="#262626" stroke-width="2"/>
<line x1="508.70" y1="683.50" x2="504.20" y2="683.50" stroke="#262626" stroke-width="2"/>
<line x1="90.00" y1="623.90" x2="94.50" y2="623.90" stroke="#262626" stroke-width="2"/>
<line x1="508.70" y1="623.90" x2="504.20" y2="623.90" stroke="#262626" stroke-width="2"/>
<line x1="90.00" y1="564.30" x2="94.50" y2="564.30" stroke="#262626" stroke-width="2"/>
<line x1="508.70" y1="564.30" x2="504.20" y2="564.30" stroke="#262626" stroke-width="2"/>
<line x1="90.00" y1="504.70" x2="94.50" y2="504.70" stroke="#262626" stroke-width="2"/>
<line x1="508.70" y1="504.70" x2="504.20" y2="504.70" stroke="#262626" stroke-width="2"/>
<line x1="90.00" y1="445.10" x2="94.50" y2="445.10" stroke="#262626" stroke-width="2"/>
<line x1="508.70" y1="445.10" x2="504.20" y2="445.10" stroke="#262626" stroke-width="2"/>
<line x1="243.20" y1="802.60" x2="243.20" y2="798.60" stroke="#262626" stroke-width="2"/>
<line x1="243.20" y1="445.10" x2="243.20" y2="449.10" stroke="#262626" stroke-width="2"/>
<line x1="331.80" y1="802.60" x2="331.80" y2="798.60" stroke="#262626" stroke-width="2"/>
<line x1="331.80" y1="445.10" x2="331.80" y2="449.10" stroke="#262626" stroke-width="2"/>
<rect x="90.00" y="445.10" width="418.70" height="357.50" fill="none" stroke="#262626" stroke-width="2.3"/>
<text x="51.01" y="383.90" font-family='"Liberation Sans", Arial, sans-serif' font-size="31.00" fill="#262626" >-3</text>
<text x="51.16" y="323.85" font-family='"Liberation Sans", Arial, sans-serif' font-size="31.00" fill="#262626" >-2</text>
<text x="51.16" y="263.50" font-family='"Liberation Sans", Arial, sans-serif' font-size="31.00" fill="#262626" >-1</text>
<text x="61.23" y="203.29" font-family='"Liberation Sans", Arial, sans-serif' font-size="31.00" fill="#262626" >0</text>
<text x="61.55" y="143.09" font-family='"Liberation Sans", Arial, sans-serif' font-size="31.00" fill="#262626" >1</text>
<text x="61.55" y="83.05" font-family='"Liberation Sans", Arial, sans-serif' font-size="31.00" fill="#262626" >2</text>
<text x="61.39" y="22.69" font-family='"Liberation Sans", Arial, sans-serif' font-size="31.00" fill="#262626" >3</text>
<text x="51.01" y="813.40" font-family='"Liberation Sans", Arial, sans-serif' font-size="31.00" fill="#262626" >-3</text>
<text x="51.16" y="753.95" font-family='"Liberation Sans", Arial, sans-serif' font-size="31.00" fill="#262626" >-2</text>
<text x="51.16" y="694.20" font-family='"Liberation Sans", Arial, sans-serif' font-size="31.00" fill="#262626" >-1</text>
<text x="61.23" y="634.60" font-family='"Liberation Sans", Arial, sans-serif' font-size="31.00" fill="#262626" >0</text>
<text x="61.55" y="575.00" font-family='"Liberation Sans", Arial, sans-serif' font-size="31.00" fill="#262626" >1</text>
<text x="61.55" y="515.55" font-family='"Liberation Sans", Arial, sans-serif' font-size="31.00" fill="#262626" >2</text>
<text x="61.39" y="455.79" font-family='"Liberation Sans", Arial, sans-serif' font-size="31.00" fill="#262626" >3</text>
<text x="80.07" y="411.20" font-family='"Liberation Sans", Arial, sans-serif' font-size="32.00" fill="#262626" >Γ</text>
<text x="173.72" y="411.20" font-family='"Liberation Sans", Arial, sans-serif' font-size="32.00" fill="#262626" >M</text>
<text x="233.34" y="411.20" font-family='"Liberation Sans", Arial, sans-serif' font-size="32.00" fill="#262626" >K</text>
<text x="348.21" y="411.20" font-family='"Liberation Sans", Arial, sans-serif' font-size="32.00" fill="#262626" textLength="36.37" lengthAdjust="spacingAndGlyphs" >ΓA</text>
<text x="477.07" y="411.20" font-family='"Liberation Sans", Arial, sans-serif' font-size="32.00" fill="#262626" textLength="40.44" lengthAdjust="spacingAndGlyphs" >HK</text>
<text x="80.07" y="838.60" font-family='"Liberation Sans", Arial, sans-serif' font-size="32.00" fill="#262626" >Γ</text>
<text x="230.22" y="838.60" font-family='"Liberation Sans", Arial, sans-serif' font-size="32.00" fill="#262626" >M</text>
<text x="320.74" y="838.60" font-family='"Liberation Sans", Arial, sans-serif' font-size="32.00" fill="#262626" >K</text>
<text x="498.32" y="838.60" font-family='"Liberation Sans", Arial, sans-serif' font-size="32.00" fill="#262626" >Γ</text>
<g transform="translate(23.90,196.40) rotate(-90)"><text x="-67.88" y="0" font-family='"Liberation Sans", Arial, sans-serif' font-size="33.70" fill="#262626"><tspan>E-E</tspan><tspan font-size="23.59" dy="15.17">f</tspan><tspan dy="-15.17">&#8203;</tspan><tspan> (eV)</tspan></text></g>
<g transform="translate(23.90,627.00) rotate(-90)"><text x="-67.88" y="0" font-family='"Liberation Sans", Arial, sans-serif' font-size="33.70" fill="#262626"><tspan>E-E</tspan><tspan font-size="23.59" dy="15.17">f</tspan><tspan dy="-15.17">&#8203;</tspan><tspan> (eV)</tspan></text></g>
<text x="2.13" y="24.41" font-family='"Liberation Sans", Arial, sans-serif' font-size="39.00" fill="#000" font-weight="bold" >a</text>
<line x1="239.90" y1="116.50" x2="239.90" y2="210.40" stroke="#bc3a3d" stroke-width="1.70"/><path d="M239.90,215.60 L236.15,209.10 L243.65,209.10 Z" fill="#bc3a3d"/><path d="M239.90,111.30 L243.65,117.80 L236.15,117.80 Z" fill="#bc3a3d"/>
<text x="190.25" y="170.90" font-family='"Liberation Sans", Arial, sans-serif' font-size="30.00" fill="#bc3a3d" textLength="46.96" lengthAdjust="spacingAndGlyphs" >A,B</text>
<line x1="250.47" y1="118.77" x2="354.23" y2="203.93" stroke="#00eeee" stroke-width="2.00"/><path d="M359.80,208.50 L350.31,205.88 L355.38,199.70 Z" fill="#00eeee"/><path d="M244.90,114.20 L254.39,116.82 L249.32,123.00 Z" fill="#00eeee"/>
<line x1="305.90" y1="116.84" x2="354.80" y2="201.56" stroke="#00eeee" stroke-width="2.00"/><path d="M358.40,207.80 L350.44,202.00 L357.37,198.01 Z" fill="#00eeee"/><path d="M302.30,110.60 L310.26,116.40 L303.33,120.39 Z" fill="#00eeee"/>
<text x="286.48" y="144.70" font-family='"Liberation Sans", Arial, sans-serif' font-size="30.00" fill="#00eeee" >I</text>
<rect x="362.70" y="124.40" width="138.20" height="40.50" fill="#000"/>
<rect x="357.40" y="119.10" width="138.20" height="40.50" fill="#fff" stroke="#000" stroke-width="1.6"/>
<text x="367.00" y="149.10" font-family='"Liberation Sans", Arial, sans-serif' font-size="29.40" fill="#000" textLength="110.31" lengthAdjust="spacingAndGlyphs" >Bulk WS</text>
<text x="476.93" y="154.90" font-family='"Liberation Sans", Arial, sans-serif' font-size="19.40" fill="#000" >2</text>
<rect x="101.70" y="534.60" width="211.00" height="40.00" fill="#000"/>
<rect x="96.40" y="529.30" width="211.00" height="40.00" fill="#fff" stroke="#000" stroke-width="1.6"/>
<text x="103.70" y="558.60" font-family='"Liberation Sans", Arial, sans-serif' font-size="29.00" fill="#000" textLength="188.88" lengthAdjust="spacingAndGlyphs" >Monolayer WS</text>
<text x="292.65" y="564.70" font-family='"Liberation Sans", Arial, sans-serif' font-size="19.00" fill="#000" >2</text>
<line x1="332.10" y1="535.10" x2="332.10" y2="629.50" stroke="#bc3a3d" stroke-width="1.70"/><path d="M332.10,634.70 L328.35,628.20 L335.85,628.20 Z" fill="#bc3a3d"/><path d="M332.10,529.90 L335.85,536.40 L328.35,536.40 Z" fill="#bc3a3d"/>
<text x="338.65" y="588.70" font-family='"Liberation Sans", Arial, sans-serif' font-size="30.00" fill="#bc3a3d" textLength="46.75" lengthAdjust="spacingAndGlyphs" >A,B</text>
<path d="M715.40,177.75 L812.30,100.20 L984.00,98.90 L1080.30,177.15 L985.40,255.45 L809.30,255.15 Z" fill="none" stroke="#000" stroke-width="1.6" stroke-dasharray="6,4.5"/>
<path d="M715.40,138.60 L812.30,61.20 L984.00,60.30 L1080.30,138.00 L985.40,216.30 L809.30,216.00 Z" fill="none" stroke="#000" stroke-width="1.9" stroke-linejoin="round"/>
<path d="M715.40,216.90 L812.30,138.60 L984.00,137.70 L1080.30,216.30 L985.40,294.60 L809.30,294.30 Z" fill="none" stroke="#000" stroke-width="1.9" stroke-linejoin="round"/>
<line x1="715.40" y1="138.60" x2="715.40" y2="216.90" stroke="#000" stroke-width="1.9"/>
<line x1="812.30" y1="61.20" x2="812.30" y2="138.60" stroke="#000" stroke-width="1.9"/>
<line x1="984.00" y1="60.30" x2="984.00" y2="137.70" stroke="#000" stroke-width="1.9"/>
<line x1="1080.30" y1="138.00" x2="1080.30" y2="216.30" stroke="#000" stroke-width="1.9"/>
<line x1="985.40" y1="216.30" x2="985.40" y2="294.60" stroke="#000" stroke-width="1.9"/>
<line x1="809.30" y1="216.00" x2="809.30" y2="294.30" stroke="#000" stroke-width="1.9"/>
<line x1="897.70" y1="131.20" x2="985.40" y2="216.00" stroke="#ff0000" stroke-width="2"/>
<line x1="897.70" y1="131.20" x2="897.70" y2="171.70" stroke="#ff0000" stroke-width="1.8" stroke-dasharray="1.8,3"/>
<line x1="897.70" y1="171.70" x2="1033.60" y2="216.30" stroke="#ff0000" stroke-width="1.8" stroke-dasharray="1.8,3"/>
<line x1="897.70" y1="171.70" x2="985.40" y2="254.70" stroke="#ff0000" stroke-width="1.8" stroke-dasharray="1.8,3"/>
<circle cx="897.70" cy="131.20" r="8.4" fill="#0000ff" stroke="#000" stroke-width="2.0"/>
<circle cx="897.70" cy="171.70" r="8.4" fill="#0000ff" stroke="#000" stroke-width="2.0"/>
<circle cx="985.40" cy="216.00" r="8.4" fill="#0000ff" stroke="#000" stroke-width="2.0"/>
<circle cx="985.40" cy="254.70" r="8.4" fill="#0000ff" stroke="#000" stroke-width="2.0"/>
<circle cx="1033.60" cy="216.30" r="8.4" fill="#0000ff" stroke="#000" stroke-width="2.0"/>
<circle cx="964.80" cy="193.30" r="4.6" fill="#138c8c" stroke="#143030" stroke-width="1.5"/>
<circle cx="940.50" cy="212.70" r="4.6" fill="#138c8c" stroke="#143030" stroke-width="1.5"/>
<text x="863.84" y="131.20" font-family='"Liberation Sans", Arial, sans-serif' font-size="33.00" fill="#0000ff" >A</text>
<text x="886.26" y="209.50" font-family='"Liberation Sans", Arial, sans-serif' font-size="33.00" fill="#0000ff" >Γ</text>
<text x="994.06" y="233.10" font-family='"Liberation Sans", Arial, sans-serif' font-size="33.00" fill="#0000ff" >H</text>
<text x="1041.07" y="245.00" font-family='"Liberation Sans", Arial, sans-serif' font-size="33.00" fill="#0000ff" textLength="29.47" lengthAdjust="spacingAndGlyphs" >M</text>
<text x="994.06" y="278.90" font-family='"Liberation Sans", Arial, sans-serif' font-size="33.00" fill="#0000ff" >K</text>
<text x="935.26" y="203.63" font-family='"Liberation Sans", Arial, sans-serif' font-size="23.00" fill="#1a9898" >Q</text>
<line x1="978.6" y1="259.2" x2="984.6" y2="255.7" stroke="#000" stroke-width="1.6"/><line x1="987.6" y1="253.8" x2="992" y2="250.2" stroke="#000" stroke-width="1.6"/>
<line x1="676.00" y1="776.20" x2="676.00" y2="769.20" stroke="#000" stroke-width="2"/>
<line x1="676.00" y1="375.00" x2="676.00" y2="382.00" stroke="#000" stroke-width="2"/>
<line x1="717.20" y1="776.20" x2="717.20" y2="772.20" stroke="#000" stroke-width="2"/>
<line x1="717.20" y1="375.00" x2="717.20" y2="379.00" stroke="#000" stroke-width="2"/>
<line x1="758.40" y1="776.20" x2="758.40" y2="769.20" stroke="#000" stroke-width="2"/>
<line x1="758.40" y1="375.00" x2="758.40" y2="382.00" stroke="#000" stroke-width="2"/>
<line x1="799.60" y1="776.20" x2="799.60" y2="772.20" stroke="#000" stroke-width="2"/>
<line x1="799.60" y1="375.00" x2="799.60" y2="379.00" stroke="#000" stroke-width="2"/>
<line x1="840.80" y1="776.20" x2="840.80" y2="769.20" stroke="#000" stroke-width="2"/>
<line x1="840.80" y1="375.00" x2="840.80" y2="382.00" stroke="#000" stroke-width="2"/>
<line x1="882.00" y1="776.20" x2="882.00" y2="772.20" stroke="#000" stroke-width="2"/>
<line x1="882.00" y1="375.00" x2="882.00" y2="379.00" stroke="#000" stroke-width="2"/>
<line x1="923.20" y1="776.20" x2="923.20" y2="769.20" stroke="#000" stroke-width="2"/>
<line x1="923.20" y1="375.00" x2="923.20" y2="382.00" stroke="#000" stroke-width="2"/>
<line x1="964.40" y1="776.20" x2="964.40" y2="772.20" stroke="#000" stroke-width="2"/>
<line x1="964.40" y1="375.00" x2="964.40" y2="379.00" stroke="#000" stroke-width="2"/>
<line x1="1005.60" y1="776.20" x2="1005.60" y2="769.20" stroke="#000" stroke-width="2"/>
<line x1="1005.60" y1="375.00" x2="1005.60" y2="382.00" stroke="#000" stroke-width="2"/>
<line x1="1046.80" y1="776.20" x2="1046.80" y2="772.20" stroke="#000" stroke-width="2"/>
<line x1="1046.80" y1="375.00" x2="1046.80" y2="379.00" stroke="#000" stroke-width="2"/>
<line x1="1088.00" y1="776.20" x2="1088.00" y2="769.20" stroke="#000" stroke-width="2"/>
<line x1="1088.00" y1="375.00" x2="1088.00" y2="382.00" stroke="#000" stroke-width="2"/>
<line x1="1129.20" y1="776.20" x2="1129.20" y2="772.20" stroke="#000" stroke-width="2"/>
<line x1="1129.20" y1="375.00" x2="1129.20" y2="379.00" stroke="#000" stroke-width="2"/>
<line x1="1170.40" y1="776.20" x2="1170.40" y2="769.20" stroke="#000" stroke-width="2"/>
<line x1="1170.40" y1="375.00" x2="1170.40" y2="382.00" stroke="#000" stroke-width="2"/>
<line x1="676.00" y1="776.20" x2="680.00" y2="776.20" stroke="#000" stroke-width="2"/>
<line x1="1170.40" y1="776.20" x2="1166.40" y2="776.20" stroke="#000" stroke-width="2"/>
<line x1="676.00" y1="736.08" x2="683.00" y2="736.08" stroke="#000" stroke-width="2"/>
<line x1="1170.40" y1="736.08" x2="1163.40" y2="736.08" stroke="#000" stroke-width="2"/>
<line x1="676.00" y1="695.96" x2="680.00" y2="695.96" stroke="#000" stroke-width="2"/>
<line x1="1170.40" y1="695.96" x2="1166.40" y2="695.96" stroke="#000" stroke-width="2"/>
<line x1="676.00" y1="655.84" x2="683.00" y2="655.84" stroke="#000" stroke-width="2"/>
<line x1="1170.40" y1="655.84" x2="1163.40" y2="655.84" stroke="#000" stroke-width="2"/>
<line x1="676.00" y1="615.72" x2="680.00" y2="615.72" stroke="#000" stroke-width="2"/>
<line x1="1170.40" y1="615.72" x2="1166.40" y2="615.72" stroke="#000" stroke-width="2"/>
<line x1="676.00" y1="575.60" x2="683.00" y2="575.60" stroke="#000" stroke-width="2"/>
<line x1="1170.40" y1="575.60" x2="1163.40" y2="575.60" stroke="#000" stroke-width="2"/>
<line x1="676.00" y1="535.48" x2="680.00" y2="535.48" stroke="#000" stroke-width="2"/>
<line x1="1170.40" y1="535.48" x2="1166.40" y2="535.48" stroke="#000" stroke-width="2"/>
<line x1="676.00" y1="495.36" x2="683.00" y2="495.36" stroke="#000" stroke-width="2"/>
<line x1="1170.40" y1="495.36" x2="1163.40" y2="495.36" stroke="#000" stroke-width="2"/>
<line x1="676.00" y1="455.24" x2="680.00" y2="455.24" stroke="#000" stroke-width="2"/>
<line x1="1170.40" y1="455.24" x2="1166.40" y2="455.24" stroke="#000" stroke-width="2"/>
<line x1="676.00" y1="415.12" x2="683.00" y2="415.12" stroke="#000" stroke-width="2"/>
<line x1="1170.40" y1="415.12" x2="1163.40" y2="415.12" stroke="#000" stroke-width="2"/>
<line x1="676.00" y1="375.00" x2="680.00" y2="375.00" stroke="#000" stroke-width="2"/>
<line x1="1170.40" y1="375.00" x2="1166.40" y2="375.00" stroke="#000" stroke-width="2"/>
<rect x="676.00" y="375.00" width="494.40" height="401.20" fill="none" stroke="#000" stroke-width="2.6"/>
<text x="667.54" y="808.15" font-family='"Liberation Sans", Arial, sans-serif' font-size="30.50" fill="#000" >0</text>
<text x="749.94" y="808.15" font-family='"Liberation Sans", Arial, sans-serif' font-size="30.50" fill="#000" >2</text>
<text x="832.41" y="807.84" font-family='"Liberation Sans", Arial, sans-serif' font-size="30.50" fill="#000" >4</text>
<text x="914.66" y="808.15" font-family='"Liberation Sans", Arial, sans-serif' font-size="30.50" fill="#000" >6</text>
<text x="997.06" y="808.15" font-family='"Liberation Sans", Arial, sans-serif' font-size="30.50" fill="#000" >8</text>
<text x="1070.54" y="808.15" font-family='"Liberation Sans", Arial, sans-serif' font-size="30.50" fill="#000" >10</text>
<text x="1153.09" y="808.15" font-family='"Liberation Sans", Arial, sans-serif' font-size="30.50" fill="#000" >12</text>
<text x="625.93" y="746.76" font-family='"Liberation Sans", Arial, sans-serif' font-size="30.50" fill="#000" >1.2</text>
<text x="625.32" y="666.36" font-family='"Liberation Sans", Arial, sans-serif' font-size="30.50" fill="#000" >1.4</text>
<text x="625.78" y="586.12" font-family='"Liberation Sans", Arial, sans-serif' font-size="30.50" fill="#000" >1.6</text>
<text x="625.62" y="505.88" font-family='"Liberation Sans", Arial, sans-serif' font-size="30.50" fill="#000" >1.8</text>
<text x="625.62" y="425.64" font-family='"Liberation Sans", Arial, sans-serif' font-size="30.50" fill="#000" >2.0</text>
<text x="808.40" y="839.60" font-family='"Liberation Sans", Arial, sans-serif' font-size="30.00" fill="#000" >Number of layers</text>
<text x="624.74" y="377.31" font-family='"Liberation Sans", Arial, sans-serif' font-size="39.00" fill="#000" font-weight="bold" >c</text>
<line x1="725.20" y1="586.81" x2="750.40" y2="605.71" stroke="#808000" stroke-width="1.60"/>
<line x1="768.38" y1="612.34" x2="830.82" y2="616.29" stroke="#808000" stroke-width="1.60"/>
<line x1="850.79" y1="617.41" x2="872.01" y2="618.44" stroke="#808000" stroke-width="1.60"/>
<line x1="892.00" y1="618.88" x2="1036.80" y2="618.18" stroke="#808000" stroke-width="1.60"/>
<line x1="1056.80" y1="617.93" x2="1119.20" y2="616.72" stroke="#808000" stroke-width="1.60"/>
<line x1="720.77" y1="413.49" x2="754.83" y2="512.64" stroke="#008000" stroke-width="1.60"/>
<line x1="763.59" y1="532.74" x2="794.41" y2="590.37" stroke="#008000" stroke-width="1.60"/>
<line x1="808.65" y1="606.33" x2="831.75" y2="622.30" stroke="#008000" stroke-width="1.60"/>
<line x1="851.05" y1="632.55" x2="871.75" y2="640.61" stroke="#008000" stroke-width="1.60"/>
<line x1="892.82" y1="646.61" x2="912.38" y2="650.23" stroke="#008000" stroke-width="1.60"/>
<line x1="933.98" y1="654.43" x2="953.62" y2="658.45" stroke="#008000" stroke-width="1.60"/>
<line x1="975.35" y1="661.72" x2="994.65" y2="663.60" stroke="#008000" stroke-width="1.60"/>
<line x1="721.74" y1="464.34" x2="753.86" y2="542.83" stroke="#000000" stroke-width="1.60"/>
<line x1="765.13" y1="563.87" x2="834.07" y2="665.57" stroke="#000000" stroke-width="1.60"/>
<line x1="852.77" y1="676.30" x2="1117.23" y2="693.96" stroke="#000000" stroke-width="1.60"/>
<line x1="722.95" y1="550.88" x2="752.65" y2="593.10" stroke="#ff0000" stroke-width="1.60"/>
<line x1="767.29" y1="605.86" x2="831.91" y2="639.22" stroke="#ff0000" stroke-width="1.60"/>
<line x1="850.50" y1="646.22" x2="1119.50" y2="713.20" stroke="#ff0000" stroke-width="1.60"/>
<line x1="723.31" y1="593.14" x2="752.29" y2="630.67" stroke="#0000ff" stroke-width="1.60"/>
<line x1="768.05" y1="641.20" x2="1119.55" y2="736.28" stroke="#0000ff" stroke-width="1.60"/>
<path d="M717.20,570.32 L719.90,577.09 L727.19,577.57 L721.57,582.24 L723.37,589.31 L717.20,585.42 L711.03,589.31 L712.83,582.24 L707.21,577.57 L714.50,577.09 Z" fill="none" stroke="#808000" stroke-width="2.2" stroke-linejoin="miter"/>
<path d="M758.40,601.21 L761.10,607.99 L768.39,608.46 L762.77,613.13 L764.57,620.20 L758.40,616.31 L752.23,620.20 L754.03,613.13 L748.41,608.46 L755.70,607.99 Z" fill="none" stroke="#808000" stroke-width="2.2" stroke-linejoin="miter"/>
<path d="M840.80,606.42 L843.50,613.20 L850.79,613.68 L845.17,618.35 L846.97,625.42 L840.80,621.52 L834.63,625.42 L836.43,618.35 L830.81,613.68 L838.10,613.20 Z" fill="none" stroke="#808000" stroke-width="2.2" stroke-linejoin="miter"/>
<path d="M882.00,608.43 L884.70,615.21 L891.99,615.68 L886.37,620.35 L888.17,627.42 L882.00,623.53 L875.83,627.42 L877.63,620.35 L872.01,615.68 L879.30,615.21 Z" fill="none" stroke="#808000" stroke-width="2.2" stroke-linejoin="miter"/>
<path d="M1046.80,607.63 L1049.50,614.41 L1056.79,614.88 L1051.17,619.55 L1052.97,626.62 L1046.80,622.73 L1040.63,626.62 L1042.43,619.55 L1036.81,614.88 L1044.10,614.41 Z" fill="none" stroke="#808000" stroke-width="2.2" stroke-linejoin="miter"/>
<path d="M1129.20,606.02 L1131.90,612.80 L1139.19,613.28 L1133.57,617.94 L1135.37,625.02 L1129.20,621.12 L1123.03,625.02 L1124.83,617.94 L1119.21,613.28 L1126.50,612.80 Z" fill="none" stroke="#808000" stroke-width="2.2" stroke-linejoin="miter"/>
<rect x="710.20" y="396.08" width="14" height="14" fill="none" stroke="#008000" stroke-width="2.4"/>
<rect x="751.40" y="516.04" width="14" height="14" fill="none" stroke="#008000" stroke-width="2.4"/>
<rect x="792.60" y="593.07" width="14" height="14" fill="none" stroke="#008000" stroke-width="2.4"/>
<rect x="833.80" y="621.56" width="14" height="14" fill="none" stroke="#008000" stroke-width="2.4"/>
<rect x="875.00" y="637.61" width="14" height="14" fill="none" stroke="#008000" stroke-width="2.4"/>
<rect x="916.20" y="645.23" width="14" height="14" fill="none" stroke="#008000" stroke-width="2.4"/>
<rect x="957.40" y="653.65" width="14" height="14" fill="none" stroke="#008000" stroke-width="2.4"/>
<rect x="998.60" y="657.67" width="14" height="14" fill="none" stroke="#008000" stroke-width="2.4"/>
<circle cx="717.20" cy="453.23" r="8.2" fill="none" stroke="#000000" stroke-width="2.4"/>
<circle cx="758.40" cy="553.94" r="8.2" fill="none" stroke="#000000" stroke-width="2.4"/>
<circle cx="840.80" cy="675.50" r="8.2" fill="none" stroke="#000000" stroke-width="2.4"/>
<circle cx="1129.20" cy="694.76" r="8.2" fill="none" stroke="#000000" stroke-width="2.4"/>
<path d="M717.20,534.20 L727.00,550.50 L707.40,550.50 Z" fill="none" stroke="#ff0000" stroke-width="2.4" stroke-linejoin="miter"/>
<path d="M758.40,592.78 L768.20,609.08 L748.60,609.08 Z" fill="none" stroke="#ff0000" stroke-width="2.4" stroke-linejoin="miter"/>
<path d="M840.80,635.30 L850.60,651.60 L831.00,651.60 Z" fill="none" stroke="#ff0000" stroke-width="2.4" stroke-linejoin="miter"/>
<path d="M1129.20,707.12 L1139.00,723.42 L1119.40,723.42 Z" fill="none" stroke="#ff0000" stroke-width="2.4" stroke-linejoin="miter"/>
<path d="M717.20,593.73 L727.00,577.43 L707.40,577.43 Z" fill="none" stroke="#0000ff" stroke-width="2.4" stroke-linejoin="miter"/>
<path d="M758.40,647.09 L768.20,630.79 L748.60,630.79 Z" fill="none" stroke="#0000ff" stroke-width="2.4" stroke-linejoin="miter"/>
<path d="M1129.20,747.39 L1139.00,731.09 L1119.40,731.09 Z" fill="none" stroke="#0000ff" stroke-width="2.4" stroke-linejoin="miter"/>
<text x="677.35" y="533.50" font-family='"Liberation Sans", Arial, sans-serif' font-size="30.10" fill="#ff0000" >WSe</text>
<text x="741.14" y="541.50" font-family='"Liberation Sans", Arial, sans-serif' font-size="20.47" fill="#ff0000" >2</text>
<text x="1084.52" y="600.79" font-family='"Liberation Sans", Arial, sans-serif' font-size="31.00" fill="#808000" >ReS</text>
<text x="1143.37" y="608.50" font-family='"Liberation Sans", Arial, sans-serif' font-size="21.08" fill="#808000" >2</text>
<text x="994.75" y="656.10" font-family='"Liberation Sans", Arial, sans-serif' font-size="30.50" fill="#008000" >WS</text>
<text x="1042.44" y="664.00" font-family='"Liberation Sans", Arial, sans-serif' font-size="20.74" fill="#008000" >2</text>
<text x="1080.34" y="680.19" font-family='"Liberation Sans", Arial, sans-serif' font-size="30.80" fill="#000000" >MoS</text>
<text x="1142.20" y="688.00" font-family='"Liberation Sans", Arial, sans-serif' font-size="20.94" fill="#000000" >2</text>
<text x="1025.02" y="748.29" font-family='"Liberation Sans", Arial, sans-serif' font-size="31.00" fill="#0000ff" >MoSe</text>
<text x="1104.48" y="756.50" font-family='"Liberation Sans", Arial, sans-serif' font-size="21.08" fill="#0000ff" >2</text>
<g transform="translate(615.10,565.40) rotate(-90)"><text x="-137.03" y="0" font-family='"Liberation Sans", Arial, sans-serif' font-size="30.00" fill="#000"><tspan>PL peak energy (eV)</tspan></text></g>
<path d="M1307.80,110.28 L1308.22,110.28 L1308.64,110.27 L1309.06,110.27 L1309.48,110.26 L1309.90,110.26 L1310.32,110.25 L1310.74,110.24 L1311.16,110.24 L1311.58,110.23 L1312.00,110.23 L1312.42,110.22 L1312.84,110.22 L1313.26,110.21 L1313.68,110.20 L1314.10,110.20 L1314.52,110.19 L1314.94,110.19 L1315.36,110.18 L1315.78,110.17 L1316.20,110.17 L1316.62,110.16 L1317.04,110.16 L1317.46,110.15 L1317.88,110.15 L1318.30,110.14 L1318.72,110.13 L1319.14,110.13 L1319.56,110.12 L1319.99,110.12 L1320.41,110.11 L1320.83,110.11 L1321.25,110.10 L1321.67,110.09 L1322.09,110.09 L1322.51,110.08 L1322.93,110.08 L1323.35,110.07 L1323.77,110.07 L1324.19,110.06 L1324.61,110.05 L1325.03,110.05 L1325.45,110.04 L1325.87,110.04 L1326.29,110.03 L1326.71,110.03 L1327.13,110.02 L1327.55,110.01 L1327.97,110.01 L1328.39,110.00 L1328.81,110.00 L1329.23,109.99 L1329.65,109.99 L1330.07,109.98 L1330.49,109.97 L1330.91,109.97 L1331.33,109.96 L1331.75,109.96 L1332.17,109.95 L1332.59,109.95 L1333.01,109.94 L1333.43,109.93 L1333.85,109.93 L1334.27,109.92 L1334.69,109.92 L1335.11,109.91 L1335.53,109.91 L1335.95,109.90 L1336.37,109.89 L1336.79,109.89 L1337.21,109.88 L1337.63,109.88 L1338.05,109.87 L1338.47,109.86 L1338.89,109.86 L1339.31,109.85 L1339.73,109.85 L1340.15,109.84 L1340.57,109.84 L1340.99,109.83 L1341.41,109.82 L1341.83,109.82 L1342.25,109.81 L1342.67,109.81 L1343.09,109.80 L1343.52,109.80 L1343.94,109.79 L1344.36,109.78 L1344.78,109.78 L1345.20,109.77 L1345.62,109.77 L1346.04,109.76 L1346.46,109.76 L1346.88,109.75 L1347.30,109.74 L1347.72,109.74 L1348.14,109.73 L1348.56,109.73 L1348.98,109.72 L1349.40,109.72 L1349.82,109.71 L1350.24,109.70 L1350.66,109.70 L1351.08,109.69 L1351.50,109.69 L1351.92,109.68 L1352.34,109.68 L1352.76,109.67 L1353.18,109.66 L1353.60,109.66 L1354.02,109.65 L1354.44,109.65 L1354.86,109.64 L1355.28,109.64 L1355.70,109.63 L1356.12,109.62 L1356.54,109.62 L1356.96,109.61 L1357.38,109.61 L1357.80,109.60 L1358.22,109.59 L1358.64,109.59 L1359.06,109.58 L1359.48,109.58 L1359.90,109.57 L1360.32,109.57 L1360.74,109.56 L1361.16,109.55 L1361.58,109.55 L1362.00,109.54 L1362.42,109.54 L1362.84,109.53 L1363.26,109.53 L1363.68,109.52 L1364.10,109.51 L1364.52,109.51 L1364.94,109.50 L1365.36,109.50 L1365.78,109.49 L1366.20,109.49 L1366.62,109.48 L1367.05,109.47 L1367.47,109.47 L1367.89,109.46 L1368.31,109.46 L1368.73,109.45 L1369.15,109.45 L1369.57,109.44 L1369.99,109.43 L1370.41,109.43 L1370.83,109.42 L1371.25,109.42 L1371.67,109.41 L1372.09,109.41 L1372.51,109.40 L1372.93,109.39 L1373.35,109.39 L1373.77,109.38 L1374.19,109.38 L1374.61,109.37 L1375.03,109.37 L1375.45,109.36 L1375.87,109.35 L1376.29,109.35 L1376.71,109.34 L1377.13,109.34 L1377.55,109.33 L1377.97,109.32 L1378.39,109.32 L1378.81,109.31 L1379.23,109.31 L1379.65,109.30 L1380.07,109.30 L1380.49,109.29 L1380.91,109.28 L1381.33,109.28 L1381.75,109.27 L1382.17,109.27 L1382.59,109.26 L1383.01,109.26 L1383.43,109.25 L1383.85,109.24 L1384.27,109.24 L1384.69,109.23 L1385.11,109.23 L1385.53,109.22 L1385.95,109.22 L1386.37,109.21 L1386.79,109.20 L1387.21,109.20 L1387.63,109.19 L1388.05,109.19 L1388.47,109.18 L1388.89,109.18 L1389.31,109.17 L1389.73,109.16 L1390.15,109.16 L1390.58,109.15 L1391.00,109.15 L1391.42,109.14 L1391.84,109.14 L1392.26,109.13 L1392.68,109.12 L1393.10,109.12 L1393.52,109.11 L1393.94,109.11 L1394.36,109.10 L1394.78,109.10 L1395.20,109.09 L1395.62,109.08 L1396.04,109.08 L1396.46,109.07 L1396.88,109.07 L1397.30,109.06 L1397.72,109.05 L1398.14,109.05 L1398.56,109.04 L1398.98,109.04 L1399.40,109.03 L1399.82,109.03 L1400.24,109.02 L1400.66,109.01 L1401.08,109.01 L1401.50,109.00 L1401.92,109.00 L1402.34,108.99 L1402.76,108.99 L1403.18,108.98 L1403.60,108.97 L1404.02,108.97 L1404.44,108.96 L1404.86,108.96 L1405.28,108.95 L1405.70,108.95 L1406.12,108.94 L1406.54,108.93 L1406.96,108.93 L1407.38,108.92 L1407.80,108.92 L1408.22,108.91 L1408.64,108.91 L1409.06,108.90 L1409.48,108.89 L1409.90,108.89 L1410.32,108.88 L1410.74,108.88 L1411.16,108.87 L1411.58,108.87 L1412.00,108.86 L1412.42,108.85 L1412.84,108.85 L1413.26,108.84 L1413.68,108.84 L1414.10,108.83 L1414.53,108.82 L1414.95,108.82 L1415.37,108.81 L1415.79,108.81 L1416.21,108.80 L1416.63,108.80 L1417.05,108.79 L1417.47,108.78 L1417.89,108.78 L1418.31,108.77 L1418.73,108.77 L1419.15,108.76 L1419.57,108.76 L1419.99,108.75 L1420.41,108.74 L1420.83,108.74 L1421.25,108.73 L1421.67,108.73 L1422.09,108.72 L1422.51,108.72 L1422.93,108.71 L1423.35,108.70 L1423.77,108.70 L1424.19,108.69 L1424.61,108.69 L1425.03,108.68 L1425.45,108.68 L1425.87,108.67 L1426.29,108.66 L1426.71,108.66 L1427.13,108.65 L1427.55,108.65 L1427.97,108.64 L1428.39,108.63 L1428.81,108.63 L1429.23,108.62 L1429.65,108.62 L1430.07,108.61 L1430.49,108.61 L1430.91,108.60 L1431.33,108.59 L1431.75,108.59 L1432.17,108.58 L1432.59,108.58 L1433.01,108.57 L1433.43,108.57 L1433.85,108.56 L1434.27,108.55 L1434.69,108.55 L1435.11,108.54 L1435.53,108.54 L1435.95,108.53 L1436.37,108.53 L1436.79,108.52 L1437.21,108.51 L1437.63,108.51 L1438.06,108.50 L1438.48,108.50 L1438.90,108.49 L1439.32,108.49 L1439.74,108.48 L1440.16,108.47 L1440.58,108.47 L1441.00,108.46 L1441.42,108.46 L1441.84,108.45 L1442.26,108.44 L1442.68,108.44 L1443.10,108.43 L1443.52,108.43 L1443.94,108.42 L1444.36,108.42 L1444.78,108.41 L1445.20,108.40 L1445.62,108.40 L1446.04,108.39 L1446.46,108.39 L1446.88,108.38 L1447.30,108.38 L1447.72,108.37 L1448.14,108.36 L1448.56,108.36 L1448.98,108.35 L1449.40,108.35 L1449.82,108.34 L1450.24,108.34 L1450.66,108.33 L1451.08,108.32 L1451.50,108.32 L1451.92,108.31 L1452.34,108.31 L1452.76,108.30 L1453.18,108.30 L1453.60,108.29 L1454.02,108.28 L1454.44,108.28 L1454.86,108.27 L1455.28,108.27 L1455.70,108.26 L1456.12,108.25 L1456.54,108.25 L1456.96,108.24 L1457.38,108.24 L1457.80,108.23 L1458.22,108.23 L1458.64,108.22 L1459.06,108.21 L1459.48,108.21 L1459.90,108.20 L1460.32,108.20 L1460.74,108.19 L1461.16,108.19 L1461.59,108.18 L1462.01,108.17 L1462.43,108.17 L1462.85,108.16 L1463.27,108.16 L1463.69,108.15 L1464.11,108.15 L1464.53,108.14 L1464.95,108.13 L1465.37,108.13 L1465.79,108.12 L1466.21,108.12 L1466.63,108.11 L1467.05,108.10 L1467.47,108.10 L1467.89,108.09 L1468.31,108.09 L1468.73,108.08 L1469.15,108.08 L1469.57,108.07 L1469.99,108.06 L1470.41,108.06 L1470.83,108.05 L1471.25,108.05 L1471.67,108.04 L1472.09,108.04 L1472.51,108.03 L1472.93,108.02 L1473.35,108.02 L1473.77,108.01 L1474.19,108.01 L1474.61,108.00 L1475.03,108.00 L1475.45,107.99 L1475.87,107.98 L1476.29,107.98 L1476.71,107.97 L1477.13,107.97 L1477.55,107.96 L1477.97,107.95 L1478.39,107.95 L1478.81,107.94 L1479.23,107.94 L1479.65,107.93 L1480.07,107.93 L1480.49,107.92 L1480.91,107.91 L1481.33,107.91 L1481.75,107.90 L1482.17,107.90 L1482.59,107.89 L1483.01,107.89 L1483.43,107.88 L1483.85,107.87 L1484.27,107.87 L1484.69,107.86 L1485.12,107.86 L1485.54,107.85 L1485.96,107.84 L1486.38,107.84 L1486.80,107.83 L1487.22,107.83 L1487.64,107.82 L1488.06,107.82 L1488.48,107.81 L1488.90,107.80 L1489.32,107.80 L1489.74,107.79 L1490.16,107.79 L1490.58,107.78 L1491.00,107.78 L1491.42,107.77 L1491.84,107.76 L1492.26,107.76 L1492.68,107.75 L1493.10,107.75 L1493.52,107.74 L1493.94,107.73 L1494.36,107.73 L1494.78,107.72 L1495.20,107.72 L1495.62,107.71 L1496.04,107.71 L1496.46,107.70 L1496.88,107.69 L1497.30,107.69 L1497.72,107.68 L1498.14,107.68 L1498.56,107.67 L1498.98,107.67 L1499.40,107.66 L1499.82,107.65 L1500.24,107.65 L1500.66,107.64 L1501.08,107.64 L1501.50,107.63 L1501.92,107.62 L1502.34,107.62 L1502.76,107.61 L1503.18,107.61 L1503.60,107.60 L1504.02,107.60 L1504.44,107.59 L1504.86,107.58 L1505.28,107.58 L1505.70,107.57 L1506.12,107.57 L1506.54,107.56 L1506.96,107.56 L1507.38,107.55 L1507.80,107.54 L1508.22,107.54 L1508.64,107.53 L1509.07,107.53 L1509.49,107.52 L1509.91,107.51 L1510.33,107.51 L1510.75,107.50 L1511.17,107.50 L1511.59,107.49 L1512.01,107.49 L1512.43,107.48 L1512.85,107.47 L1513.27,107.47 L1513.69,107.46 L1514.11,107.46 L1514.53,107.45 L1514.95,107.44 L1515.37,107.44 L1515.79,107.43 L1516.21,107.43 L1516.63,107.42 L1517.05,107.42 L1517.47,107.41 L1517.89,107.40 L1518.31,107.40 L1518.73,107.39 L1519.15,107.39 L1519.57,107.38 L1519.99,107.38 L1520.41,107.37 L1520.83,107.36 L1521.25,107.36 L1521.67,107.35 L1522.09,107.35 L1522.51,107.34 L1522.93,107.33 L1523.35,107.33 L1523.77,107.32 L1524.19,107.32 L1524.61,107.31 L1525.03,107.31 L1525.45,107.30 L1525.87,107.29 L1526.29,107.29 L1526.71,107.28 L1527.13,107.28 L1527.55,107.27 L1527.97,107.26 L1528.39,107.26 L1528.81,107.25 L1529.23,107.25 L1529.65,107.24 L1530.07,107.24 L1530.49,107.23 L1530.91,107.22 L1531.33,107.22 L1531.75,107.21 L1532.17,107.21 L1532.60,107.20 L1533.02,107.19 L1533.44,107.19 L1533.86,107.18 L1534.28,107.18 L1534.70,107.17 L1535.12,107.17 L1535.54,107.16 L1535.96,107.15 L1536.38,107.15 L1536.80,107.14 L1537.22,107.14 L1537.64,107.13 L1538.06,107.12 L1538.48,107.12 L1538.90,107.11 L1539.32,107.11 L1539.74,107.10 L1540.16,107.09 L1540.58,107.09 L1541.00,107.08 L1541.42,107.08 L1541.84,107.07 L1542.26,107.07 L1542.68,107.06 L1543.10,107.05 L1543.52,107.05 L1543.94,107.04 L1544.36,107.04 L1544.78,107.03 L1545.20,107.02 L1545.62,107.02 L1546.04,107.01 L1546.46,107.01 L1546.88,107.00 L1547.30,107.00 L1547.72,106.99 L1548.14,106.98 L1548.56,106.98 L1548.98,106.97 L1549.40,106.97 L1549.82,106.96 L1550.24,106.95 L1550.66,106.95 L1551.08,106.94 L1551.50,106.94 L1551.92,106.93 L1552.34,106.92 L1552.76,106.92 L1553.18,106.91 L1553.60,106.91 L1554.02,106.90 L1554.44,106.89 L1554.86,106.89 L1555.28,106.88 L1555.70,106.88 L1556.13,106.87 L1556.55,106.87 L1556.97,106.86 L1557.39,106.85 L1557.81,106.85 L1558.23,106.84 L1558.65,106.84 L1559.07,106.83 L1559.49,106.82 L1559.91,106.82 L1560.33,106.81 L1560.75,106.81 L1561.17,106.80 L1561.59,106.79 L1562.01,106.79 L1562.43,106.78 L1562.85,106.78 L1563.27,106.77 L1563.69,106.76 L1564.11,106.76 L1564.53,106.75 L1564.95,106.75 L1565.37,106.74 L1565.79,106.73 L1566.21,106.73 L1566.63,106.72 L1567.05,106.72 L1567.47,106.71 L1567.89,106.71 L1568.31,106.70 L1568.73,106.69 L1569.15,106.69 L1569.57,106.68 L1569.99,106.68 L1570.41,106.67 L1570.83,106.66 L1571.25,106.66 L1571.67,106.65 L1572.09,106.65 L1572.51,106.64 L1572.93,106.63 L1573.35,106.63 L1573.77,106.62 L1574.19,106.62 L1574.61,106.61 L1575.03,106.60 L1575.45,106.60 L1575.87,106.59 L1576.29,106.59 L1576.71,106.58 L1577.13,106.57 L1577.55,106.57 L1577.97,106.56 L1578.39,106.56 L1578.81,106.55 L1579.23,106.54 L1579.66,106.54 L1580.08,106.53 L1580.50,106.52 L1580.92,106.52 L1581.34,106.51 L1581.76,106.51 L1582.18,106.50 L1582.60,106.49 L1583.02,106.49 L1583.44,106.48 L1583.86,106.48 L1584.28,106.47 L1584.70,106.46 L1585.12,106.46 L1585.54,106.45 L1585.96,106.45 L1586.38,106.44 L1586.80,106.43 L1587.22,106.43 L1587.64,106.42 L1588.06,106.42 L1588.48,106.41 L1588.90,106.40 L1589.32,106.40 L1589.74,106.39 L1590.16,106.38 L1590.58,106.38 L1591.00,106.37 L1591.42,106.37 L1591.84,106.36 L1592.26,106.35 L1592.68,106.35 L1593.10,106.34 L1593.52,106.33 L1593.94,106.33 L1594.36,106.32 L1594.78,106.32 L1595.20,106.31 L1595.62,106.30 L1596.04,106.30 L1596.46,106.29 L1596.88,106.28 L1597.30,106.28 L1597.72,106.27 L1598.14,106.27 L1598.56,106.26 L1598.98,106.25 L1599.40,106.25 L1599.82,106.24 L1600.24,106.23 L1600.66,106.23 L1601.08,106.22 L1601.50,106.22 L1601.92,106.21 L1602.34,106.20 L1602.76,106.20 L1603.18,106.19 L1603.61,106.18 L1604.03,106.18 L1604.45,106.17 L1604.87,106.16 L1605.29,106.16 L1605.71,106.15 L1606.13,106.14 L1606.55,106.14 L1606.97,106.13 L1607.39,106.13 L1607.81,106.12 L1608.23,106.11 L1608.65,106.11 L1609.07,106.10 L1609.49,106.09 L1609.91,106.09 L1610.33,106.08 L1610.75,106.07 L1611.17,106.07 L1611.59,106.06 L1612.01,106.05 L1612.43,106.05 L1612.85,106.04 L1613.27,106.03 L1613.69,106.03 L1614.11,106.02 L1614.53,106.01 L1614.95,106.01 L1615.37,106.00 L1615.79,105.99 L1616.21,105.99 L1616.63,105.98 L1617.05,105.97 L1617.47,105.97 L1617.89,105.96 L1618.31,105.95 L1618.73,105.94 L1619.15,105.94 L1619.57,105.93 L1619.99,105.92 L1620.41,105.92 L1620.83,105.91 L1621.25,105.90 L1621.67,105.90 L1622.09,105.89 L1622.51,105.88 L1622.93,105.87 L1623.35,105.87 L1623.77,105.86 L1624.19,105.85 L1624.61,105.85 L1625.03,105.84 L1625.45,105.83 L1625.87,105.82 L1626.29,105.82 L1626.71,105.81 L1627.14,105.80 L1627.56,105.79 L1627.98,105.79 L1628.40,105.78 L1628.82,105.77 L1629.24,105.76 L1629.66,105.75 L1630.08,105.75 L1630.50,105.74 L1630.92,105.73 L1631.34,105.72 L1631.76,105.72 L1632.18,105.71 L1632.60,105.70 L1633.02,105.69 L1633.44,105.68 L1633.86,105.67 L1634.28,105.67 L1634.70,105.66 L1635.12,105.65 L1635.54,105.64 L1635.96,105.63 L1636.38,105.62 L1636.80,105.61 L1637.22,105.61 L1637.64,105.60 L1638.06,105.59 L1638.48,105.58 L1638.90,105.57 L1639.32,105.56 L1639.74,105.55 L1640.16,105.54 L1640.58,105.53 L1641.00,105.52 L1641.42,105.51 L1641.84,105.50 L1642.26,105.49 L1642.68,105.48 L1643.10,105.47 L1643.52,105.46 L1643.94,105.45 L1644.36,105.44 L1644.78,105.43 L1645.20,105.42 L1645.62,105.40 L1646.04,105.39 L1646.46,105.38 L1646.88,105.37 L1647.30,105.36 L1647.72,105.34 L1648.14,105.33 L1648.56,105.32 L1648.98,105.30 L1649.40,105.29 L1649.82,105.27 L1650.24,105.26 L1650.67,105.24 L1651.09,105.23 L1651.51,105.21 L1651.93,105.19 L1652.35,105.18 L1652.77,105.16 L1653.19,105.14 L1653.61,105.12 L1654.03,105.10 L1654.45,105.08 L1654.87,105.05 L1655.29,105.03 L1655.71,105.00 L1656.13,104.97 L1656.55,104.94 L1656.97,104.91 L1657.39,104.87 L1657.81,104.82 L1658.23,104.77 L1658.65,104.71 L1659.07,104.64 L1659.49,104.55 L1659.91,104.47 L1660.33,104.39 L1660.75,104.29 L1661.17,104.16 L1661.59,104.01 L1662.01,103.83 L1662.43,103.63 L1662.85,103.41 L1663.27,103.18 L1663.69,102.95 L1664.11,102.73 L1664.53,102.55 L1664.95,102.42 L1665.37,102.36 L1665.79,102.38 L1666.21,102.48 L1666.63,102.64 L1667.05,102.84 L1667.47,103.07 L1667.89,103.29 L1668.31,103.50 L1668.73,103.68 L1669.15,103.83 L1669.57,103.94 L1669.99,104.00 L1670.41,104.00 L1670.83,103.95 L1671.25,103.82 L1671.67,103.62 L1672.09,103.35 L1672.51,102.99 L1672.93,102.54 L1673.35,102.01 L1673.77,101.40 L1674.20,100.73 L1674.62,100.00 L1675.04,99.25 L1675.46,98.53 L1675.88,97.87 L1676.30,97.35 L1676.72,97.03 L1677.14,96.94 L1677.56,97.09 L1677.98,97.46 L1678.40,98.00 L1678.82,98.64 L1679.24,99.32 L1679.66,99.99 L1680.08,100.63 L1680.50,101.20 L1680.92,101.68 L1681.34,102.09 L1681.76,102.39 L1682.18,102.61 L1682.60,102.74 L1683.02,102.78 L1683.44,102.73 L1683.86,102.59 L1684.28,102.35 L1684.70,102.02 L1685.12,101.56 L1685.54,100.96 L1685.96,100.20 L1686.38,99.22 L1686.80,98.01 L1687.22,96.50 L1687.64,94.66 L1688.06,92.43 L1688.48,89.78 L1688.90,86.67 L1689.32,83.09 L1689.74,79.04 L1690.16,74.54 L1690.58,69.65 L1691.00,64.48 L1691.42,59.17 L1691.84,53.92 L1692.26,49.01 L1692.68,44.75 L1693.10,41.49 L1693.52,39.57 L1693.94,39.19 L1694.36,40.40 L1694.78,43.07 L1695.20,46.91 L1695.62,51.57 L1696.04,56.72 L1696.46,62.05 L1696.88,67.32 L1697.30,72.34 L1697.72,77.01 L1698.15,81.22 L1698.57,84.93 L1698.99,88.12 L1699.41,90.79 L1699.83,92.96 L1700.25,94.67 L1700.67,95.95 L1701.09,96.86 L1701.51,97.45 L1701.93,97.80 L1702.35,97.95 L1702.77,97.99 L1703.19,97.98 L1703.61,98.00 L1704.03,98.14 L1704.45,98.43 L1704.87,98.91 L1705.29,99.54 L1705.71,100.30 L1706.13,101.14 L1706.55,102.00 L1706.97,102.84 L1707.39,103.65 L1707.81,104.40 L1708.23,105.08 L1708.65,105.68 L1709.07,106.21 L1709.49,106.67 L1709.91,107.07 L1710.33,107.40 L1710.75,107.69 L1711.17,107.94 L1711.59,108.15 L1712.01,108.34 L1712.43,108.49 L1712.85,108.60 L1713.27,108.69 L1713.69,108.78 L1714.11,108.85 L1714.53,108.92 L1714.95,108.99 L1715.37,109.05 L1715.79,109.10 L1716.21,109.15 L1716.63,109.20 L1717.05,109.24 L1717.47,109.28 L1717.89,109.32 L1718.31,109.36 L1718.73,109.39 L1719.15,109.42 L1719.57,109.45 L1719.99,109.48 L1720.41,109.51 L1720.83,109.54 L1721.25,109.56 L1721.68,109.58 L1722.10,109.61 L1722.52,109.63 L1722.94,109.65 L1723.36,109.67 L1723.78,109.68 L1724.20,109.70 L1724.62,109.72 L1725.04,109.73 L1725.46,109.75 L1725.88,109.76 L1726.30,109.78 L1726.72,109.79 L1727.14,109.80 L1727.56,109.82 L1727.98,109.83 L1728.40,109.84 L1728.82,109.85 L1729.24,109.86 L1729.66,109.87 L1730.08,109.88 L1730.50,109.89 L1730.92,109.90 L1731.34,109.91 L1731.76,109.92 L1732.18,109.93 L1732.60,109.93 L1733.02,109.94 L1733.44,109.95 L1733.86,109.96 L1734.28,109.96 L1734.70,109.97 L1735.12,109.98 L1735.54,109.98 L1735.96,109.99 L1736.38,110.00 L1736.80,110.00 L1737.22,110.01 L1737.64,110.01 L1738.06,110.02 L1738.48,110.02 L1738.90,110.03 L1739.32,110.03 L1739.74,110.04 L1740.16,110.04 L1740.58,110.05 L1741.00,110.05 L1741.42,110.05 L1741.84,110.06 L1742.26,110.06 L1742.68,110.07 L1743.10,110.07 L1743.52,110.07 L1743.94,110.08 L1744.36,110.08 L1744.78,110.08 L1745.21,110.09 L1745.63,110.09 L1746.05,110.09 L1746.47,110.10 L1746.89,110.10 L1747.31,110.10 L1747.73,110.11 L1748.15,110.11 L1748.57,110.11 L1748.99,110.11 L1749.41,110.12 L1749.83,110.12 L1750.25,110.12 L1750.67,110.12 L1751.09,110.13 L1751.51,110.13 L1751.93,110.13 L1752.35,110.13 L1752.77,110.14 L1753.19,110.14 L1753.61,110.14 L1754.03,110.14 L1754.45,110.14 L1754.87,110.15 L1755.29,110.15 L1755.71,110.15 L1756.13,110.15 L1756.55,110.15 L1756.97,110.16 L1757.39,110.16 L1757.81,110.16 L1758.23,110.16 L1758.65,110.16 L1759.07,110.16 L1759.49,110.17 L1759.91,110.17 L1760.33,110.17 L1760.75,110.17 L1761.17,110.17 L1761.59,110.17 L1762.01,110.17 L1762.43,110.18 L1762.85,110.18 L1763.27,110.18 L1763.69,110.18 L1764.11,110.18 L1764.53,110.18 L1764.95,110.18 L1765.37,110.18 L1765.79,110.19 L1766.21,110.19 L1766.63,110.19 L1767.05,110.19 L1767.47,110.19 L1767.89,110.19 L1768.31,110.19 L1768.74,110.19 L1769.16,110.19 L1769.58,110.20 L1770.00,110.20 L1770.42,110.20 L1770.84,110.20 L1771.26,110.20 L1771.68,110.20 L1772.10,110.20 L1772.52,110.20 L1772.94,110.20 L1773.36,110.20 L1773.78,110.21 L1774.20,110.21 L1774.62,110.21 L1775.04,110.21 L1775.46,110.21 L1775.88,110.21 L1776.30,110.21 L1776.72,110.21 L1777.14,110.21 L1777.56,110.21 L1777.98,110.21 L1778.40,110.21 L1778.82,110.21 L1779.24,110.22 L1779.66,110.22 L1780.08,110.22 L1780.50,110.22" fill="none" stroke="#000" stroke-width="1.9" stroke-linejoin="round"/>
<path d="M1308.2,206.2 L1308.8,206.5 L1309.4,206.2 L1310.0,206.1 L1310.6,205.9 L1311.2,206.1 L1311.8,206.6 L1312.4,206.3 L1313.0,206.5 L1313.6,206.2 L1314.2,206.2 L1314.8,206.1 L1315.4,205.4 L1316.0,206.3 L1316.6,206.2 L1317.2,206.2 L1317.8,205.3 L1318.4,205.2 L1319.0,205.5 L1319.6,205.7 L1320.2,206.0 L1320.8,205.8 L1321.4,206.0 L1322.0,205.5 L1322.6,205.9 L1323.2,205.9 L1323.8,205.4 L1324.4,206.4 L1325.1,205.9 L1325.7,206.1 L1326.3,205.4 L1326.9,205.3 L1327.5,205.4 L1328.1,205.5 L1328.7,205.8 L1329.3,205.6 L1329.9,205.3 L1330.5,205.1 L1331.1,205.2 L1331.7,205.9 L1332.3,205.1 L1332.9,205.5 L1333.5,205.5 L1334.1,204.7 L1334.7,205.3 L1335.3,205.8 L1335.9,204.4 L1336.5,205.1 L1337.1,205.2 L1337.7,204.9 L1338.3,205.4 L1338.9,205.1 L1339.5,204.5 L1340.1,205.4 L1340.7,205.3 L1341.3,205.4 L1341.9,205.6 L1342.5,205.1 L1343.1,205.0 L1343.7,204.4 L1344.3,205.2 L1344.9,204.7 L1345.5,204.7 L1346.2,204.4 L1346.8,204.5 L1347.4,204.6 L1348.0,205.3 L1348.6,204.0 L1349.2,204.2 L1349.8,204.8 L1350.4,205.3 L1351.0,204.9 L1351.6,203.9 L1352.2,203.6 L1352.8,204.7 L1353.4,204.3 L1354.0,204.1 L1354.6,204.9 L1355.2,204.9 L1355.8,204.5 L1356.4,204.5 L1357.0,204.6 L1357.6,205.0 L1358.2,204.6 L1358.8,204.5 L1359.4,204.5 L1360.0,203.6 L1360.6,204.8 L1361.2,204.6 L1361.8,204.4 L1362.4,203.4 L1363.0,203.9 L1363.6,204.4 L1364.2,203.3 L1364.8,204.0 L1365.4,204.4 L1366.0,203.5 L1366.6,204.6 L1367.3,204.1 L1367.9,203.8 L1368.5,204.0 L1369.1,204.1 L1369.7,203.8 L1370.3,204.2 L1370.9,203.5 L1371.5,203.5 L1372.1,204.1 L1372.7,203.6 L1373.3,203.2 L1373.9,203.9 L1374.5,204.1 L1375.1,203.3 L1375.7,202.9 L1376.3,203.4 L1376.9,203.3 L1377.5,203.2 L1378.1,203.9 L1378.7,202.9 L1379.3,203.7 L1379.9,202.7 L1380.5,202.8 L1381.1,203.4 L1381.7,203.5 L1382.3,203.4 L1382.9,203.1 L1383.5,203.0 L1384.1,203.0 L1384.7,203.1 L1385.4,202.7 L1386.0,202.9 L1386.6,202.9 L1387.2,202.7 L1387.8,202.9 L1388.4,202.8 L1389.0,203.3 L1389.6,202.6 L1390.2,202.2 L1390.8,202.2 L1391.4,202.3 L1392.0,202.6 L1392.6,202.1 L1393.2,202.3 L1393.8,202.8 L1394.4,201.0 L1395.0,201.5 L1395.6,202.0 L1396.2,202.0 L1396.9,201.9 L1397.5,201.5 L1398.1,201.9 L1398.7,201.7 L1399.3,201.3 L1399.9,202.4 L1400.5,201.5 L1401.1,201.1 L1401.7,201.2 L1402.3,201.1 L1402.9,201.1 L1403.5,200.0 L1404.1,200.8 L1404.7,201.3 L1405.3,200.4 L1405.9,200.7 L1406.5,201.1 L1407.1,201.0 L1407.8,201.1 L1408.4,199.8 L1409.0,200.2 L1409.6,200.2 L1410.2,200.5 L1410.8,200.6 L1411.4,199.0 L1412.0,200.4 L1412.6,199.3 L1413.2,200.1 L1413.8,199.1 L1414.4,199.7 L1415.0,200.1 L1415.6,199.4 L1416.2,199.5 L1416.8,199.6 L1417.4,199.3 L1418.0,199.1 L1418.6,199.7 L1419.3,199.4 L1419.9,198.8 L1420.5,199.9 L1421.1,198.2 L1421.7,199.0 L1422.3,198.4 L1422.9,198.5 L1423.5,198.6 L1424.1,198.3 L1424.7,198.4 L1425.3,197.4 L1425.9,197.4 L1426.5,198.1 L1427.1,197.4 L1427.7,197.3 L1428.3,197.0 L1428.9,198.0 L1429.5,197.7 L1430.1,197.9 L1430.8,196.8 L1431.4,197.1 L1432.0,196.5 L1432.6,197.2 L1433.2,197.4 L1433.8,196.3 L1434.4,197.2 L1435.0,196.9 L1435.6,196.3 L1436.2,195.5 L1436.8,196.7 L1437.4,196.0 L1438.0,195.7 L1438.6,196.0 L1439.2,195.9 L1439.8,196.2 L1440.4,195.1 L1441.0,195.8 L1441.7,195.8 L1442.3,195.7 L1442.9,194.9 L1443.5,194.6 L1444.1,195.1 L1444.7,194.6 L1445.3,194.5 L1445.9,194.9 L1446.5,194.1 L1447.1,193.1 L1447.7,193.7 L1448.3,193.0 L1448.9,193.9 L1449.5,193.6 L1450.1,193.1 L1450.7,193.1 L1451.3,193.3 L1451.9,192.9 L1452.5,193.2 L1453.2,192.5 L1453.8,192.8 L1454.4,192.8 L1455.0,192.7 L1455.6,191.6 L1456.2,192.0 L1456.8,190.8 L1457.4,190.9 L1458.0,190.4 L1458.6,191.4 L1459.2,190.3 L1459.8,190.6 L1460.4,190.3 L1461.0,190.2 L1461.6,189.8 L1462.2,189.9 L1462.8,190.4 L1463.4,189.5 L1464.0,189.5 L1464.7,189.4 L1465.3,188.7 L1465.9,188.1 L1466.5,188.1 L1467.1,188.5 L1467.7,187.2 L1468.3,187.4 L1468.9,187.7 L1469.5,187.4 L1470.1,186.8 L1470.7,186.8 L1471.3,186.3 L1471.9,185.5 L1472.5,185.0 L1473.1,185.1 L1473.7,185.4 L1474.3,184.5 L1474.9,184.1 L1475.6,183.8 L1476.2,183.2 L1476.8,183.5 L1477.4,182.7 L1478.0,183.0 L1478.6,181.6 L1479.2,182.4 L1479.8,181.6 L1480.4,180.8 L1481.0,181.6 L1481.6,180.8 L1482.2,179.7 L1482.8,180.0 L1483.4,180.1 L1484.0,179.5 L1484.6,179.7 L1485.2,179.3 L1485.8,179.0 L1486.4,178.5 L1487.1,178.6 L1487.7,178.1 L1488.3,177.7 L1488.9,176.4 L1489.5,177.3 L1490.1,177.2 L1490.7,176.3 L1491.3,175.9 L1491.9,176.6 L1492.5,174.8 L1493.2,175.5 L1493.8,176.0 L1494.4,174.4 L1495.0,174.8 L1495.6,175.0 L1496.3,173.9 L1496.9,173.9 L1497.5,173.8 L1498.1,172.8 L1498.7,172.9 L1499.4,172.8 L1500.0,172.7 L1500.6,172.1 L1501.2,171.8 L1501.8,171.2 L1502.4,171.1 L1503.1,171.3 L1503.7,170.7 L1504.3,170.0 L1504.9,169.7 L1505.5,170.8 L1506.2,169.9 L1506.8,169.3 L1507.4,167.7 L1508.0,168.6 L1508.6,168.2 L1509.3,168.4 L1509.9,167.5 L1510.5,166.9 L1511.1,166.8 L1511.7,165.4 L1512.4,166.2 L1513.0,165.6 L1513.6,164.8 L1514.2,165.2 L1514.8,165.0 L1515.4,163.3 L1516.1,163.2 L1516.7,163.2 L1517.3,162.7 L1517.9,162.0 L1518.5,161.4 L1519.1,162.3 L1519.7,161.5 L1520.3,160.2 L1521.0,159.8 L1521.6,160.5 L1522.2,159.8 L1522.8,159.5 L1523.4,158.4 L1524.0,156.8 L1524.6,156.0 L1525.2,153.4 L1525.8,152.2 L1526.4,150.5 L1527.0,148.8 L1527.6,146.3 L1528.2,144.7 L1528.8,143.3 L1529.5,141.4 L1530.2,139.4 L1530.9,137.2 L1531.5,135.2 L1532.2,134.4 L1532.9,133.6 L1533.6,133.5 L1534.3,134.4 L1534.9,135.7 L1535.6,137.1 L1536.3,138.8 L1537.0,140.4 L1537.6,142.7 L1538.2,145.8 L1538.8,149.4 L1539.4,154.6 L1540.0,159.3 L1540.6,163.3 L1541.2,166.6 L1541.8,169.4 L1542.4,170.0 L1543.1,170.0 L1543.8,171.0 L1544.5,170.7 L1545.2,171.5 L1545.8,171.0 L1546.5,170.7 L1547.2,171.9 L1547.9,173.9 L1548.6,174.3 L1549.3,175.2 L1549.9,176.9 L1550.6,178.8 L1551.2,180.1 L1551.9,181.5 L1552.5,183.8 L1553.1,185.3 L1553.8,186.9 L1554.4,189.1 L1555.0,191.4 L1555.6,193.0 L1556.3,194.7 L1556.9,195.4 L1557.5,197.1 L1558.2,198.5 L1558.8,198.9 L1559.4,200.0 L1560.0,200.3 L1560.7,201.0 L1561.3,201.1 L1561.9,202.6 L1562.6,202.5 L1563.2,202.3 L1563.8,202.8 L1564.4,204.1 L1565.1,203.2 L1565.7,203.8 L1566.3,204.0 L1567.0,203.6 L1567.6,203.1 L1568.2,203.7 L1568.8,203.8 L1569.4,204.1 L1570.0,203.9 L1570.6,203.6 L1571.2,203.9 L1571.8,203.8 L1572.4,203.7 L1573.0,203.6 L1573.6,203.5 L1574.2,203.8 L1574.8,203.1 L1575.4,203.3 L1576.0,203.6 L1576.6,203.0 L1577.2,203.4 L1577.9,202.7 L1578.5,203.3 L1579.1,203.7 L1579.7,203.7 L1580.3,203.5 L1580.9,203.4 L1581.5,202.9 L1582.1,204.2 L1582.7,203.7 L1583.3,203.9 L1583.9,203.1 L1584.5,203.3 L1585.1,202.7 L1585.7,203.7 L1586.3,203.8 L1586.9,202.6 L1587.5,203.3 L1588.1,203.6 L1588.7,202.6 L1589.4,202.6 L1590.0,202.9 L1590.6,203.0 L1591.2,202.7 L1591.8,203.3 L1592.4,203.3 L1593.0,203.5 L1593.6,203.5 L1594.2,203.8 L1594.8,203.7 L1595.4,202.6 L1596.0,203.0 L1596.6,202.7 L1597.2,202.7 L1597.8,203.1 L1598.4,203.1 L1599.0,203.3 L1599.6,202.4 L1600.3,202.6 L1600.9,203.0 L1601.5,202.9 L1602.1,202.9 L1602.7,203.0 L1603.3,202.7 L1603.9,203.2 L1604.5,203.1 L1605.1,202.9 L1605.7,202.6 L1606.3,202.8 L1606.9,201.7 L1607.5,202.4 L1608.1,202.8 L1608.7,202.2 L1609.3,202.8 L1609.9,202.8 L1610.5,202.1 L1611.1,202.6 L1611.8,202.5 L1612.4,202.8 L1613.0,202.8 L1613.6,202.5 L1614.2,202.2 L1614.8,202.4 L1615.4,202.4 L1616.0,202.7 L1616.6,202.5 L1617.2,202.0 L1617.8,201.8 L1618.4,202.1 L1619.0,201.9 L1619.6,201.7 L1620.2,202.1 L1620.8,201.9 L1621.4,202.1 L1622.0,202.2 L1622.6,201.8 L1623.3,202.9 L1623.9,201.8 L1624.5,202.3 L1625.1,201.9 L1625.7,202.2 L1626.3,200.8 L1626.9,201.4 L1627.5,201.8 L1628.1,201.8 L1628.7,202.5 L1629.3,201.6 L1629.9,202.0 L1630.5,201.7 L1631.1,201.7 L1631.7,201.5 L1632.3,201.2 L1632.9,201.4 L1633.5,200.7 L1634.2,201.6 L1634.8,200.6 L1635.4,201.1 L1636.0,201.8 L1636.6,200.8 L1637.2,200.8 L1637.8,201.2 L1638.4,200.7 L1639.0,200.3 L1639.6,200.7 L1640.2,200.8 L1640.8,200.8 L1641.4,200.1 L1642.0,201.1 L1642.6,201.0 L1643.2,200.2 L1643.8,200.3 L1644.4,199.9 L1645.0,200.6 L1645.7,199.7 L1646.3,200.2 L1646.9,199.6 L1647.5,199.5 L1648.1,200.0 L1648.7,200.2 L1649.3,199.6 L1649.9,199.2 L1650.5,199.7 L1651.1,199.3 L1651.7,199.4 L1652.3,199.8 L1652.9,199.6 L1653.5,198.8 L1654.1,199.9 L1654.7,198.9 L1655.3,199.1 L1655.9,198.5 L1656.5,198.6 L1657.2,197.8 L1657.8,199.1 L1658.4,198.9 L1659.0,197.7 L1659.6,197.5 L1660.2,197.3 L1660.8,198.3 L1661.4,197.5 L1662.0,197.6 L1662.6,197.3 L1663.2,197.2 L1663.8,196.7 L1664.4,197.0 L1665.0,196.3 L1665.6,196.7 L1666.2,196.6 L1666.8,196.5 L1667.4,196.1 L1668.0,195.6 L1668.7,195.9 L1669.3,195.5 L1669.9,196.1 L1670.5,195.6 L1671.1,195.1 L1671.7,194.7 L1672.3,194.4 L1672.9,194.2 L1673.5,194.2 L1674.1,194.3 L1674.7,194.1 L1675.3,194.0 L1675.9,194.4 L1676.5,193.0 L1677.1,193.1 L1677.7,193.9 L1678.3,191.7 L1678.9,191.9 L1679.6,191.8 L1680.2,191.4 L1680.8,191.2 L1681.4,190.5 L1682.0,190.3 L1682.6,189.8 L1683.2,189.7 L1683.8,188.2 L1684.4,188.2 L1685.0,188.2 L1685.6,187.4 L1686.2,187.0 L1686.8,187.3 L1687.4,186.5 L1688.0,186.7 L1688.6,186.5 L1689.2,186.1 L1689.8,185.9 L1690.4,185.5 L1691.1,184.9 L1691.7,185.4 L1692.3,185.5 L1692.9,185.2 L1693.5,185.5 L1694.1,186.0 L1694.7,185.6 L1695.3,186.5 L1695.9,187.4 L1696.5,186.8 L1697.1,187.5 L1697.7,187.9 L1698.3,189.0 L1698.9,189.1 L1699.5,189.8 L1700.1,189.7 L1700.7,190.4 L1701.3,190.9 L1701.9,190.6 L1702.6,192.4 L1703.2,192.5 L1703.8,191.8 L1704.4,193.2 L1705.0,193.3 L1705.6,193.9 L1706.2,194.3 L1706.8,193.9 L1707.4,194.9 L1708.0,196.0 L1708.6,195.6 L1709.2,195.8 L1709.8,196.1 L1710.4,196.5 L1711.0,197.6 L1711.6,198.5 L1712.2,198.4 L1712.8,198.7 L1713.5,199.9 L1714.1,199.1 L1714.7,199.4 L1715.3,200.2 L1715.9,200.5 L1716.5,200.2 L1717.1,200.4 L1717.7,201.2 L1718.3,201.4 L1718.9,201.0 L1719.5,201.6 L1720.1,201.6 L1720.7,202.2 L1721.3,202.1 L1721.9,202.3 L1722.5,202.3 L1723.1,203.0 L1723.7,203.3 L1724.3,202.7 L1725.0,203.3 L1725.6,202.8 L1726.2,203.3 L1726.8,203.7 L1727.4,204.1 L1728.0,203.4 L1728.6,203.6 L1729.2,203.8 L1729.8,203.3 L1730.4,204.0 L1731.0,203.8 L1731.6,204.2 L1732.2,203.7 L1732.8,203.4 L1733.4,204.3 L1734.0,204.4 L1734.6,204.1 L1735.2,204.8 L1735.8,204.3 L1736.5,204.2 L1737.1,204.7 L1737.7,203.9 L1738.3,204.2 L1738.9,204.5 L1739.5,204.9 L1740.1,204.5 L1740.7,204.7 L1741.3,204.3 L1741.9,204.7 L1742.5,205.3 L1743.1,204.4 L1743.7,205.6 L1744.4,204.4 L1745.0,204.7 L1745.6,204.8 L1746.2,205.1 L1746.8,204.3 L1747.4,203.9 L1748.0,205.0 L1748.6,205.1 L1749.2,205.0 L1749.8,205.9 L1750.4,204.9 L1751.0,204.9 L1751.6,205.2 L1752.2,205.0 L1752.9,205.5 L1753.5,204.4 L1754.1,204.7 L1754.7,203.5 L1755.3,205.2 L1755.9,204.8 L1756.5,205.3 L1757.1,205.8 L1757.7,204.9 L1758.3,204.8 L1758.9,204.8 L1759.5,204.6 L1760.1,204.7 L1760.8,205.2 L1761.4,205.0 L1762.0,205.0 L1762.6,204.9 L1763.2,205.4 L1763.8,205.2 L1764.4,205.0 L1765.0,205.3 L1765.6,205.0 L1766.2,204.6 L1766.8,205.6 L1767.4,205.2 L1768.0,204.7 L1768.6,205.5 L1769.3,205.2 L1769.9,204.5 L1770.5,205.7 L1771.1,205.2 L1771.7,205.5 L1772.3,205.2 L1772.9,205.1 L1773.5,204.5 L1774.1,205.5 L1774.7,205.2 L1775.3,205.0 L1775.9,205.3 L1776.5,205.2 L1777.2,205.5 L1777.8,205.0 L1778.4,205.2 L1779.0,204.4 L1779.6,205.1 L1780.2,205.5 L1780.8,205.8" fill="none" stroke="#f21414" stroke-width="2.80" stroke-linejoin="round"/>
<path d="M1308.2,298.1 L1310.0,298.0 L1311.8,297.9 L1313.6,297.8 L1315.4,297.8 L1317.2,297.7 L1319.0,297.6 L1320.8,297.5 L1322.6,297.5 L1324.4,297.4 L1326.2,297.3 L1328.0,297.3 L1329.8,297.2 L1331.6,297.1 L1333.4,297.0 L1335.2,297.0 L1337.0,296.9 L1338.8,296.8 L1340.6,296.7 L1342.5,296.6 L1344.3,296.5 L1346.1,296.4 L1347.9,296.3 L1349.7,296.2 L1351.5,296.1 L1353.3,296.0 L1355.1,295.8 L1356.9,295.7 L1358.7,295.5 L1360.5,295.4 L1362.3,295.2 L1364.1,295.0 L1365.9,294.8 L1367.7,294.6 L1369.5,294.4 L1371.3,294.1 L1373.1,293.9 L1374.9,293.6 L1376.7,293.3 L1378.5,293.0 L1380.3,292.8 L1382.1,292.4 L1383.9,292.1 L1385.7,291.8 L1387.5,291.5 L1389.3,291.1 L1391.1,290.8 L1392.9,290.4 L1394.7,290.0 L1396.6,289.6 L1398.4,289.2 L1400.2,288.8 L1402.0,288.3 L1403.8,287.8 L1405.6,287.2 L1407.4,286.7 L1409.3,286.1 L1411.1,285.4 L1412.9,284.7 L1414.7,284.0 L1416.5,283.2 L1418.3,282.4 L1420.2,281.6 L1422.0,280.7 L1423.8,279.8 L1425.6,278.8 L1427.4,277.1 L1429.4,269.8 L1431.4,255.2 L1433.5,240.9 L1435.5,229.8 L1437.6,231.4 L1439.7,246.5 L1441.7,273.2 L1443.7,278.7 L1445.7,275.7 L1447.7,272.8 L1449.5,270.4 L1451.3,268.5 L1453.2,269.1 L1455.3,278.5 L1457.3,286.2 L1459.1,291.3 L1461.0,295.5 L1462.8,297.9 L1464.7,298.1 L1466.5,298.1 L1468.3,298.1 L1470.1,298.1 L1471.9,298.1 L1473.7,298.1 L1475.6,298.1 L1477.4,298.1 L1479.2,298.1 L1481.0,298.1 L1482.8,298.1 L1484.6,298.1 L1486.4,298.1 L1488.3,298.1 L1490.1,298.1 L1491.9,298.1 L1493.7,298.1 L1495.5,298.1 L1497.3,298.1 L1499.2,298.1 L1501.0,298.1 L1502.8,298.1 L1504.6,298.1 L1506.4,298.1 L1508.2,298.1 L1510.1,298.1 L1511.9,298.1 L1513.7,298.1 L1515.5,298.1 L1517.3,298.1 L1519.1,298.1 L1520.9,298.1 L1522.7,298.1 L1524.5,298.0 L1526.3,298.0 L1528.1,298.0 L1529.9,298.0 L1531.7,298.0 L1533.5,297.9 L1535.4,297.9 L1537.2,297.9 L1539.0,297.9 L1540.8,297.8 L1542.6,297.8 L1544.4,297.7 L1546.2,297.7 L1548.0,297.7 L1549.8,297.6 L1551.6,297.5 L1553.4,297.5 L1555.2,297.4 L1557.0,297.4 L1558.8,297.3 L1560.6,297.3 L1562.4,297.2 L1564.2,297.1 L1566.0,297.0 L1567.8,297.0 L1569.6,296.9 L1571.4,296.8 L1573.2,296.7 L1575.0,296.7 L1576.8,296.6 L1578.6,296.5 L1580.4,296.4 L1582.2,296.3 L1584.0,296.2 L1585.8,296.1 L1587.6,296.0 L1589.4,295.9 L1591.2,295.8 L1593.0,295.7 L1594.8,295.6 L1596.6,295.5 L1598.4,295.4 L1600.2,295.3 L1602.0,295.1 L1603.8,294.9 L1605.6,294.7 L1607.4,294.4 L1609.2,294.1 L1611.0,293.7 L1612.9,293.3 L1614.7,292.9 L1616.5,292.5 L1618.3,292.2 L1620.1,291.8 L1621.9,291.4 L1623.7,291.1 L1625.5,290.8 L1627.3,290.5 L1629.1,290.3 L1630.9,290.1 L1632.7,290.0 L1634.5,289.9 L1636.3,289.9 L1638.1,290.2 L1640.0,290.6 L1641.8,291.1 L1643.7,291.6 L1645.5,292.2 L1647.4,292.8 L1649.2,293.3 L1651.1,293.7 L1652.9,293.9 L1654.7,294.0 L1656.5,293.9 L1658.4,293.9 L1660.2,293.8 L1662.0,293.6 L1663.8,293.4 L1665.6,293.2 L1667.4,292.9 L1669.3,292.6 L1671.1,292.3 L1672.9,291.9 L1674.7,291.5 L1676.5,291.1 L1678.3,290.7 L1680.2,290.2 L1682.0,289.7 L1683.8,288.9 L1685.7,287.7 L1687.6,286.2 L1689.4,284.6 L1691.3,282.8 L1693.1,280.9 L1695.0,279.0 L1696.8,276.4 L1698.6,273.5 L1700.4,272.2 L1702.3,273.1 L1704.1,275.3 L1705.9,277.6 L1707.7,280.2 L1709.5,283.4 L1711.3,286.7 L1713.1,289.9 L1715.0,292.4 L1716.8,294.0 L1718.6,294.9 L1720.5,295.7 L1722.3,296.4 L1724.2,297.1 L1726.0,297.6 L1727.9,298.1 L1729.7,298.5 L1731.5,298.9 L1733.4,299.2 L1735.2,299.4 L1737.1,299.5 L1738.9,299.7 L1740.7,299.8 L1742.5,299.9 L1744.4,300.0 L1746.2,300.1 L1748.0,300.2 L1749.8,300.3 L1751.6,300.4 L1753.5,300.4 L1755.3,300.5 L1757.1,300.6 L1758.9,300.6 L1760.8,300.7 L1762.6,300.7 L1764.4,300.8 L1766.2,300.8 L1768.0,300.9 L1769.9,301.0 L1771.7,301.0 L1773.5,301.1 L1775.3,301.1 L1777.2,301.2 L1779.0,301.3 L1780.8,301.3" fill="none" stroke="#22e022" stroke-width="4.00" stroke-linejoin="round"/>
<path d="M1308.2,297.4 L1308.8,297.8 L1309.4,301.0 L1310.0,297.4 L1310.6,299.4 L1311.2,301.1 L1311.8,298.0 L1312.4,300.2 L1313.0,296.5 L1313.6,298.2 L1314.2,297.7 L1314.8,298.0 L1315.4,299.9 L1316.0,302.3 L1316.6,296.4 L1317.2,296.6 L1317.8,298.6 L1318.4,295.6 L1319.0,298.5 L1319.6,298.7 L1320.2,297.0 L1320.8,298.5 L1321.4,294.6 L1322.0,298.9 L1322.6,294.5 L1323.2,296.1 L1323.8,296.4 L1324.4,296.6 L1325.0,299.0 L1325.6,297.5 L1326.2,296.6 L1326.8,298.3 L1327.4,300.3 L1328.0,297.3 L1328.6,297.9 L1329.2,299.6 L1329.8,297.7 L1330.4,294.7 L1331.0,301.9 L1331.6,301.3 L1332.2,293.3 L1332.8,297.0 L1333.4,297.8 L1334.0,298.8 L1334.6,298.3 L1335.2,296.4 L1335.8,294.9 L1336.4,297.1 L1337.0,298.8 L1337.6,294.8 L1338.2,294.9 L1338.8,296.7 L1339.4,293.1 L1340.0,296.2 L1340.6,295.9 L1341.2,297.5 L1341.9,295.3 L1342.5,294.9 L1343.1,295.8 L1343.7,296.5 L1344.3,295.3 L1344.9,296.5 L1345.5,297.9 L1346.1,298.7 L1346.7,299.6 L1347.3,294.9 L1347.9,295.5 L1348.5,291.6 L1349.1,299.9 L1349.7,294.8 L1350.3,296.1 L1350.9,297.1 L1351.5,293.5 L1352.1,296.9 L1352.7,296.0 L1353.3,292.5 L1353.9,296.5 L1354.5,298.2 L1355.1,292.3 L1355.7,297.3 L1356.3,296.1 L1356.9,296.6 L1357.5,296.5 L1358.1,298.1 L1358.7,295.1 L1359.3,297.2 L1359.9,294.7 L1360.5,296.8 L1361.1,293.8 L1361.7,295.1 L1362.3,298.5 L1362.9,296.0 L1363.5,294.8 L1364.1,292.8 L1364.7,293.4 L1365.3,295.2 L1365.9,296.6 L1366.5,295.5 L1367.1,295.7 L1367.7,294.5 L1368.3,297.1 L1368.9,293.7 L1369.5,293.3 L1370.1,296.0 L1370.7,294.3 L1371.3,293.6 L1371.9,292.9 L1372.5,293.5 L1373.1,295.1 L1373.7,294.5 L1374.3,291.4 L1374.9,294.4 L1375.5,293.9 L1376.1,291.5 L1376.7,294.8 L1377.3,292.7 L1377.9,292.5 L1378.5,294.6 L1379.1,295.5 L1379.7,291.5 L1380.3,293.6 L1380.9,291.0 L1381.5,296.9 L1382.1,291.5 L1382.7,294.6 L1383.3,291.0 L1383.9,293.7 L1384.5,296.2 L1385.1,287.1 L1385.7,291.0 L1386.3,292.6 L1386.9,291.4 L1387.5,290.2 L1388.1,295.4 L1388.7,291.4 L1389.3,288.0 L1389.9,292.6 L1390.5,287.6 L1391.1,292.9 L1391.7,289.5 L1392.3,290.8 L1392.9,292.8 L1393.5,290.5 L1394.1,287.5 L1394.7,286.8 L1395.3,292.1 L1395.9,291.2 L1396.6,288.1 L1397.2,291.1 L1397.8,290.3 L1398.4,290.4 L1399.0,284.8 L1399.6,288.3 L1400.2,290.5 L1400.8,290.0 L1401.4,290.1 L1402.0,283.6 L1402.6,288.5 L1403.2,288.9 L1403.8,292.6 L1404.4,285.8 L1405.0,286.8 L1405.6,287.3 L1406.2,288.7 L1406.8,286.0 L1407.4,288.9 L1408.1,285.0 L1408.7,286.8 L1409.3,285.1 L1409.9,286.2 L1410.5,284.3 L1411.1,282.4 L1411.7,287.3 L1412.3,285.5 L1412.9,283.7 L1413.5,284.9 L1414.1,286.1 L1414.7,282.2 L1415.3,283.5 L1415.9,284.5 L1416.5,284.2 L1417.1,282.3 L1417.7,278.7 L1418.3,284.8 L1419.0,282.8 L1419.6,281.9 L1420.2,281.0 L1420.8,281.8 L1421.4,280.2 L1422.0,278.7 L1422.6,279.0 L1423.2,278.9 L1423.8,278.6 L1424.4,277.3 L1425.0,280.3 L1425.6,276.3 L1426.2,279.6 L1426.8,275.8 L1427.4,277.8 L1428.0,278.9 L1428.7,274.4 L1429.4,268.4 L1430.1,264.9 L1430.8,260.2 L1431.4,251.9 L1432.1,248.9 L1432.8,245.4 L1433.5,240.0 L1434.2,237.0 L1434.8,234.3 L1435.5,231.3 L1436.2,230.3 L1436.9,230.5 L1437.6,230.9 L1438.2,234.4 L1438.9,237.6 L1439.7,245.9 L1440.4,258.3 L1441.1,264.8 L1441.7,272.6 L1442.4,277.3 L1443.0,277.1 L1443.7,278.7 L1444.4,278.9 L1445.1,276.5 L1445.7,279.6 L1446.4,269.5 L1447.1,273.2 L1447.7,269.3 L1448.3,273.9 L1448.9,276.3 L1449.5,265.7 L1450.1,269.9 L1450.7,270.0 L1451.3,268.0 L1451.9,269.3 L1452.5,263.8 L1453.2,270.7 L1453.9,272.2 L1454.6,274.9 L1455.3,277.4 L1456.0,283.2 L1456.6,283.5 L1457.3,286.6 L1457.9,286.9 L1458.5,285.4 L1459.1,291.2 L1459.7,293.2 L1460.3,295.7 L1461.0,293.9 L1461.6,296.5 L1462.2,298.6 L1462.8,298.2 L1463.4,300.4 L1464.0,301.9 L1464.7,296.3 L1465.3,294.4 L1465.9,299.7 L1466.5,301.0 L1467.1,299.8 L1467.7,299.6 L1468.3,296.9 L1468.9,296.7 L1469.5,299.8 L1470.1,296.3 L1470.7,294.6 L1471.3,296.2 L1471.9,302.8 L1472.5,301.7 L1473.1,296.8 L1473.7,296.7 L1474.3,298.5 L1474.9,296.6 L1475.6,300.6 L1476.2,297.9 L1476.8,296.0 L1477.4,300.6 L1478.0,297.0 L1478.6,298.5 L1479.2,298.0 L1479.8,297.5 L1480.4,298.7 L1481.0,296.8 L1481.6,294.6 L1482.2,293.9 L1482.8,295.7 L1483.4,296.6 L1484.0,298.0 L1484.6,298.2 L1485.2,299.1 L1485.8,298.3 L1486.4,296.6 L1487.1,296.7 L1487.7,294.0 L1488.3,297.7 L1488.9,299.0 L1489.5,299.1 L1490.1,297.8 L1490.7,297.7 L1491.3,299.8 L1491.9,298.1 L1492.5,299.5 L1493.1,299.2 L1493.7,298.5 L1494.3,300.5 L1494.9,297.0 L1495.5,297.4 L1496.1,296.5 L1496.7,296.6 L1497.3,301.0 L1497.9,301.4 L1498.6,298.1 L1499.2,299.1 L1499.8,300.3 L1500.4,299.6 L1501.0,300.4 L1501.6,295.7 L1502.2,296.9 L1502.8,298.9 L1503.4,300.8 L1504.0,298.3 L1504.6,296.4 L1505.2,297.4 L1505.8,296.8 L1506.4,296.4 L1507.0,300.9 L1507.6,296.9 L1508.2,298.1 L1508.8,302.2 L1509.4,300.3 L1510.1,298.7 L1510.7,296.9 L1511.3,298.8 L1511.9,301.1 L1512.5,299.2 L1513.1,300.5 L1513.7,298.3 L1514.3,299.0 L1514.9,297.7 L1515.5,298.9 L1516.1,300.5 L1516.7,295.3 L1517.3,297.9 L1517.9,298.5 L1518.5,297.0 L1519.1,297.5 L1519.7,299.6 L1520.3,301.9 L1520.9,299.3 L1521.5,298.7 L1522.1,295.1 L1522.7,301.7 L1523.3,298.2 L1523.9,298.0 L1524.5,295.9 L1525.1,297.9 L1525.7,296.0 L1526.3,298.2 L1526.9,298.9 L1527.5,298.1 L1528.1,298.5 L1528.7,296.4 L1529.3,300.7 L1529.9,296.8 L1530.5,294.5 L1531.1,297.6 L1531.7,296.5 L1532.3,296.0 L1532.9,297.3 L1533.5,298.5 L1534.1,295.7 L1534.7,297.7 L1535.4,300.6 L1536.0,299.2 L1536.6,297.6 L1537.2,298.1 L1537.8,297.7 L1538.4,297.8 L1539.0,299.2 L1539.6,297.7 L1540.2,293.3 L1540.8,297.8 L1541.4,296.1 L1542.0,299.0 L1542.6,296.6 L1543.2,298.1 L1543.8,301.9 L1544.4,295.8 L1545.0,295.6 L1545.6,295.0 L1546.2,293.1 L1546.8,294.1 L1547.4,298.4 L1548.0,296.4 L1548.6,294.1 L1549.2,294.8 L1549.8,298.8 L1550.4,296.1 L1551.0,296.9 L1551.6,298.2 L1552.2,300.1 L1552.8,301.2 L1553.4,299.5 L1554.0,297.7 L1554.6,297.8 L1555.2,300.9 L1555.8,300.1 L1556.4,296.8 L1557.0,298.2 L1557.6,297.9 L1558.2,297.4 L1558.8,296.4 L1559.4,294.8 L1560.0,296.3 L1560.6,294.3 L1561.2,299.6 L1561.8,298.2 L1562.4,294.9 L1563.0,299.8 L1563.6,298.8 L1564.2,293.5 L1564.8,300.6 L1565.4,298.6 L1566.0,301.0 L1566.6,294.7 L1567.2,298.0 L1567.8,297.8 L1568.4,297.3 L1569.0,297.2 L1569.6,298.9 L1570.2,294.0 L1570.8,294.5 L1571.4,294.2 L1572.0,295.7 L1572.6,295.6 L1573.2,297.4 L1573.8,297.2 L1574.4,296.7 L1575.0,295.4 L1575.6,295.8 L1576.2,298.4 L1576.8,298.0 L1577.4,296.7 L1578.0,295.9 L1578.6,299.4 L1579.2,295.3 L1579.8,297.7 L1580.4,298.6 L1581.0,295.9 L1581.6,297.9 L1582.2,294.2 L1582.8,298.2 L1583.4,296.6 L1584.0,293.2 L1584.6,297.5 L1585.2,294.5 L1585.8,298.6 L1586.4,294.8 L1587.0,295.7 L1587.6,296.6 L1588.2,295.4 L1588.8,296.5 L1589.4,294.9 L1590.0,297.2 L1590.6,295.9 L1591.2,296.2 L1591.8,290.6 L1592.4,298.0 L1593.0,295.8 L1593.6,292.3 L1594.2,295.8 L1594.8,296.5 L1595.4,297.6 L1596.0,293.5 L1596.6,298.5 L1597.2,295.2 L1597.8,300.0 L1598.4,295.1 L1599.0,296.7 L1599.6,294.6 L1600.2,293.2 L1600.8,297.3 L1601.4,296.9 L1602.0,298.1 L1602.6,296.7 L1603.2,293.9 L1603.8,291.8 L1604.4,293.6 L1605.0,293.5 L1605.6,293.1 L1606.2,295.7 L1606.8,295.1 L1607.4,293.9 L1608.0,294.6 L1608.6,293.9 L1609.2,294.5 L1609.8,295.4 L1610.4,295.6 L1611.0,292.4 L1611.7,290.7 L1612.3,296.2 L1612.9,293.5 L1613.5,295.3 L1614.1,289.9 L1614.7,292.3 L1615.3,292.9 L1615.9,289.9 L1616.5,291.6 L1617.1,293.8 L1617.7,294.3 L1618.3,295.2 L1618.9,290.4 L1619.5,289.2 L1620.1,292.8 L1620.7,293.4 L1621.3,291.9 L1621.9,288.9 L1622.5,292.8 L1623.1,292.7 L1623.7,292.1 L1624.3,290.0 L1624.9,291.4 L1625.5,292.3 L1626.1,289.6 L1626.7,287.1 L1627.3,291.1 L1627.9,291.3 L1628.5,290.4 L1629.1,291.9 L1629.7,289.1 L1630.3,290.0 L1630.9,289.5 L1631.5,291.1 L1632.1,293.0 L1632.7,289.5 L1633.3,293.8 L1633.9,292.8 L1634.5,291.4 L1635.1,291.0 L1635.7,293.3 L1636.3,289.6 L1636.9,289.8 L1637.5,288.1 L1638.1,291.1 L1638.7,292.8 L1639.4,291.4 L1640.0,291.4 L1640.6,290.3 L1641.2,291.2 L1641.8,288.4 L1642.4,293.2 L1643.1,290.7 L1643.7,289.5 L1644.3,290.4 L1644.9,290.5 L1645.5,293.9 L1646.1,294.4 L1646.7,290.0 L1647.4,294.6 L1648.0,294.7 L1648.6,292.0 L1649.2,290.5 L1649.8,292.0 L1650.4,292.4 L1651.1,294.3 L1651.7,293.1 L1652.3,290.0 L1652.9,294.4 L1653.5,291.1 L1654.1,295.7 L1654.7,291.7 L1655.3,292.7 L1655.9,292.3 L1656.5,292.9 L1657.2,296.4 L1657.8,295.5 L1658.4,295.0 L1659.0,294.4 L1659.6,290.9 L1660.2,292.8 L1660.8,292.7 L1661.4,291.8 L1662.0,294.6 L1662.6,292.1 L1663.2,292.1 L1663.8,291.4 L1664.4,289.4 L1665.0,294.4 L1665.6,295.7 L1666.2,293.4 L1666.8,291.2 L1667.4,287.8 L1668.0,293.1 L1668.7,295.0 L1669.3,293.2 L1669.9,294.3 L1670.5,295.2 L1671.1,294.4 L1671.7,291.3 L1672.3,294.1 L1672.9,293.4 L1673.5,288.9 L1674.1,290.9 L1674.7,288.8 L1675.3,291.2 L1675.9,292.4 L1676.5,289.1 L1677.1,287.1 L1677.7,293.3 L1678.3,291.4 L1678.9,293.3 L1679.6,287.9 L1680.2,292.2 L1680.8,294.0 L1681.4,293.7 L1682.0,289.3 L1682.6,290.0 L1683.2,288.9 L1683.8,290.8 L1684.5,290.5 L1685.1,288.3 L1685.7,285.1 L1686.3,288.6 L1686.9,285.8 L1687.6,287.4 L1688.2,286.2 L1688.8,288.2 L1689.4,286.7 L1690.0,283.1 L1690.7,284.0 L1691.3,286.1 L1691.9,281.1 L1692.5,282.3 L1693.1,283.1 L1693.7,282.6 L1694.4,280.6 L1695.0,276.5 L1695.6,275.9 L1696.2,277.9 L1696.8,277.2 L1697.4,280.2 L1698.0,272.8 L1698.6,275.7 L1699.2,274.3 L1699.8,269.2 L1700.4,270.6 L1701.0,272.6 L1701.6,271.7 L1702.3,272.8 L1702.9,274.7 L1703.5,272.9 L1704.1,276.2 L1704.7,274.9 L1705.3,275.9 L1705.9,278.7 L1706.5,277.3 L1707.1,279.8 L1707.7,283.2 L1708.3,281.3 L1708.9,282.0 L1709.5,284.8 L1710.1,283.8 L1710.7,287.7 L1711.3,284.3 L1711.9,289.0 L1712.5,287.9 L1713.1,288.3 L1713.8,294.2 L1714.4,290.0 L1715.0,295.8 L1715.6,294.3 L1716.2,296.4 L1716.8,292.1 L1717.4,296.6 L1718.0,297.4 L1718.6,294.7 L1719.2,294.9 L1719.9,300.1 L1720.5,296.0 L1721.1,295.1 L1721.7,295.0 L1722.3,297.3 L1722.9,297.3 L1723.5,297.2 L1724.2,300.3 L1724.8,296.6 L1725.4,298.4 L1726.0,300.4 L1726.6,295.9 L1727.2,300.0 L1727.9,301.6 L1728.5,295.7 L1729.1,296.3 L1729.7,296.6 L1730.3,295.2 L1730.9,299.6 L1731.5,295.4 L1732.2,299.9 L1732.8,301.8 L1733.4,296.1 L1734.0,298.6 L1734.6,295.7 L1735.2,300.9 L1735.8,298.0 L1736.5,299.0 L1737.1,299.6 L1737.7,300.6 L1738.3,299.0 L1738.9,299.7 L1739.5,298.7 L1740.1,300.0 L1740.7,297.6 L1741.3,299.9 L1741.9,296.2 L1742.5,299.0 L1743.1,303.6 L1743.7,300.1 L1744.4,297.6 L1745.0,300.5 L1745.6,298.2 L1746.2,297.0 L1746.8,298.7 L1747.4,301.6 L1748.0,300.9 L1748.6,300.0 L1749.2,298.5 L1749.8,298.2 L1750.4,302.9 L1751.0,300.8 L1751.6,298.6 L1752.2,296.4 L1752.9,297.8 L1753.5,305.1 L1754.1,298.3 L1754.7,300.3 L1755.3,300.9 L1755.9,300.2 L1756.5,300.0 L1757.1,298.0 L1757.7,298.6 L1758.3,303.8 L1758.9,299.2 L1759.5,302.2 L1760.1,297.4 L1760.8,300.2 L1761.4,301.2 L1762.0,302.7 L1762.6,298.6 L1763.2,301.9 L1763.8,301.5 L1764.4,299.4 L1765.0,301.7 L1765.6,299.1 L1766.2,299.3 L1766.8,300.8 L1767.4,295.7 L1768.0,300.7 L1768.6,299.0 L1769.3,298.2 L1769.9,300.1 L1770.5,302.4 L1771.1,300.2 L1771.7,303.4 L1772.3,298.8 L1772.9,298.6 L1773.5,304.0 L1774.1,301.8 L1774.7,302.9 L1775.3,299.6 L1775.9,302.7 L1776.5,301.7 L1777.2,302.4 L1777.8,301.3 L1778.4,303.5 L1779.0,300.0 L1779.6,299.5 L1780.2,298.5 L1780.8,303.5" fill="none" stroke="#22e022" stroke-width="1.60" stroke-linejoin="round"/>
<path d="M1308.2,389.0 L1310.0,388.8 L1311.8,388.5 L1313.6,388.3 L1315.4,388.1 L1317.3,387.9 L1319.1,387.7 L1320.9,387.5 L1322.7,387.3 L1324.5,387.1 L1326.3,386.9 L1328.1,386.7 L1330.0,386.5 L1331.8,386.2 L1333.6,386.0 L1335.4,385.7 L1337.2,385.5 L1339.0,385.2 L1340.9,384.9 L1342.7,384.6 L1344.5,384.2 L1346.3,383.9 L1348.1,383.5 L1349.9,383.1 L1351.8,382.7 L1353.6,382.2 L1355.4,381.8 L1357.2,381.3 L1359.0,380.8 L1360.8,380.3 L1362.7,379.7 L1364.5,379.2 L1366.3,378.7 L1368.1,378.1 L1370.0,377.5 L1371.8,377.0 L1373.7,376.4 L1375.5,375.7 L1377.4,375.0 L1379.2,374.1 L1381.1,373.0 L1383.0,371.6 L1384.9,369.4 L1386.8,366.5 L1388.6,363.0 L1390.5,359.0 L1392.3,353.5 L1394.1,346.5 L1396.0,337.5 L1398.0,323.8 L1400.0,326.9 L1402.0,342.0 L1404.2,364.6 L1406.2,365.8 L1408.3,361.5 L1410.3,358.6 L1412.4,356.5 L1414.4,358.4 L1416.5,365.9 L1418.5,375.6 L1420.5,381.4 L1422.3,382.7 L1424.1,383.4 L1425.9,383.5 L1427.8,383.5 L1429.6,383.5 L1431.5,383.5 L1433.3,383.5 L1435.1,383.5 L1437.0,383.5 L1438.8,383.5 L1440.7,383.5 L1442.5,383.5 L1444.4,383.5" fill="none" stroke="#1c1ce6" stroke-width="4.00" stroke-linejoin="round"/>
<path d="M1308.2,387.6 L1308.8,386.9 L1309.4,387.0 L1310.0,387.9 L1310.6,386.3 L1311.2,388.1 L1311.8,387.3 L1312.4,387.4 L1313.0,386.6 L1313.6,388.4 L1314.2,387.4 L1314.8,388.4 L1315.4,388.6 L1316.0,388.7 L1316.6,383.8 L1317.3,386.9 L1317.9,386.3 L1318.5,389.3 L1319.1,384.7 L1319.7,386.3 L1320.3,387.0 L1320.9,386.9 L1321.5,389.3 L1322.1,386.5 L1322.7,389.2 L1323.3,384.5 L1323.9,383.7 L1324.5,389.4 L1325.1,387.9 L1325.7,387.9 L1326.3,387.1 L1326.9,387.8 L1327.5,384.5 L1328.1,388.5 L1328.8,385.6 L1329.4,388.4 L1330.0,386.6 L1330.6,382.6 L1331.2,383.9 L1331.8,388.4 L1332.4,385.9 L1333.0,385.3 L1333.6,386.5 L1334.2,385.1 L1334.8,384.8 L1335.4,385.9 L1336.0,385.9 L1336.6,388.4 L1337.2,385.6 L1337.8,389.0 L1338.4,388.7 L1339.0,388.5 L1339.7,387.1 L1340.3,385.2 L1340.9,385.2 L1341.5,384.5 L1342.1,383.3 L1342.7,384.5 L1343.3,383.2 L1343.9,387.5 L1344.5,385.3 L1345.1,383.3 L1345.7,380.4 L1346.3,383.8 L1346.9,383.0 L1347.5,381.6 L1348.1,381.3 L1348.7,379.1 L1349.3,384.3 L1349.9,383.0 L1350.5,387.9 L1351.2,382.7 L1351.8,382.4 L1352.4,385.3 L1353.0,382.6 L1353.6,382.5 L1354.2,381.4 L1354.8,380.8 L1355.4,384.6 L1356.0,383.5 L1356.6,384.7 L1357.2,380.6 L1357.8,381.2 L1358.4,379.3 L1359.0,382.6 L1359.6,378.0 L1360.2,381.5 L1360.8,382.4 L1361.4,382.8 L1362.0,378.1 L1362.7,381.8 L1363.3,378.2 L1363.9,377.9 L1364.5,376.7 L1365.1,381.2 L1365.7,382.0 L1366.3,377.5 L1366.9,377.0 L1367.5,377.6 L1368.1,382.8 L1368.7,379.8 L1369.3,376.7 L1370.0,374.1 L1370.6,376.1 L1371.2,379.4 L1371.8,380.5 L1372.4,376.3 L1373.1,375.3 L1373.7,375.4 L1374.3,372.6 L1374.9,377.7 L1375.5,373.7 L1376.1,377.5 L1376.8,372.0 L1377.4,372.6 L1378.0,375.2 L1378.6,373.0 L1379.2,375.6 L1379.9,373.8 L1380.5,371.2 L1381.1,374.2 L1381.7,374.2 L1382.4,368.5 L1383.0,375.1 L1383.6,371.9 L1384.2,371.7 L1384.9,365.9 L1385.5,367.1 L1386.1,366.9 L1386.8,368.5 L1387.4,362.6 L1388.0,362.5 L1388.6,359.1 L1389.3,361.3 L1389.9,361.0 L1390.5,355.8 L1391.1,356.2 L1391.7,356.5 L1392.3,356.5 L1392.9,352.6 L1393.5,348.4 L1394.1,344.3 L1394.7,342.2 L1395.3,340.0 L1396.0,337.7 L1396.6,332.4 L1397.3,330.7 L1398.0,324.3 L1398.6,320.2 L1399.3,326.5 L1400.0,328.7 L1400.7,331.5 L1401.3,334.5 L1402.0,338.4 L1402.8,348.2 L1403.5,360.0 L1404.2,363.1 L1404.9,364.7 L1405.6,367.2 L1406.2,366.3 L1406.9,365.6 L1407.6,364.1 L1408.3,364.2 L1409.0,358.8 L1409.6,361.3 L1410.3,356.7 L1411.0,359.0 L1411.7,357.3 L1412.4,356.9 L1413.0,358.1 L1413.7,356.8 L1414.4,360.5 L1415.1,362.2 L1415.8,363.4 L1416.5,364.8 L1417.1,367.1 L1417.8,370.7 L1418.5,375.2 L1419.2,378.9 L1419.9,386.5 L1420.5,382.6 L1421.1,383.3 L1421.7,380.7 L1422.3,381.3 L1422.9,382.4 L1423.5,383.6 L1424.1,381.4 L1424.7,386.6 L1425.3,382.5 L1425.9,385.6 L1426.5,379.1 L1427.2,383.5 L1427.8,384.1 L1428.4,383.9 L1429.0,384.7 L1429.6,384.1 L1430.2,383.8 L1430.8,379.9 L1431.5,382.2 L1432.1,379.1 L1432.7,384.7 L1433.3,384.1 L1433.9,383.2 L1434.5,382.0 L1435.1,382.4 L1435.8,387.0 L1436.4,386.8 L1437.0,383.4 L1437.6,386.0 L1438.2,380.5 L1438.8,379.9 L1439.5,382.6 L1440.1,381.9 L1440.7,382.5 L1441.3,383.9 L1441.9,389.3 L1442.5,382.3 L1443.1,383.6 L1443.8,384.1 L1444.4,383.5" fill="none" stroke="#1c1ce6" stroke-width="1.60" stroke-linejoin="round"/>
<path d="M1308.2,485.3 L1310.0,485.1 L1311.9,484.8 L1313.7,484.6 L1315.6,484.3 L1317.4,484.1 L1319.2,483.8 L1321.1,483.6 L1322.9,483.3 L1324.8,483.0 L1326.6,482.7 L1328.5,482.4 L1330.3,482.1 L1332.1,481.9 L1333.9,481.6 L1335.7,481.3 L1337.5,481.0 L1339.3,480.7 L1341.2,480.4 L1343.0,480.1 L1344.8,479.7 L1346.6,479.4 L1348.4,478.9 L1350.2,478.5 L1352.1,477.9 L1353.9,477.4 L1355.7,476.7 L1357.6,475.7 L1359.5,474.5 L1361.4,472.9 L1363.3,471.0 L1365.2,467.9 L1367.1,463.7 L1368.9,458.5 L1370.8,452.7 L1372.6,444.5 L1374.5,434.2 L1376.3,425.4 L1378.2,419.4 L1380.4,439.0 L1382.4,465.6 L1384.4,466.4 L1386.5,457.8 L1388.5,450.8 L1390.6,445.0 L1392.6,449.8 L1394.7,465.6 L1396.6,473.0 L1398.4,478.1 L1400.2,481.0 L1402.0,481.3 L1403.9,481.3 L1405.7,481.3 L1407.5,481.3 L1409.4,481.3 L1411.2,481.3 L1413.0,481.3" fill="none" stroke="#8a22f0" stroke-width="4.00" stroke-linejoin="round"/>
<path d="M1308.2,487.1 L1308.8,488.6 L1309.4,482.8 L1310.0,485.4 L1310.6,484.5 L1311.2,485.6 L1311.9,481.9 L1312.5,481.4 L1313.1,480.3 L1313.7,485.6 L1314.3,484.9 L1314.9,484.5 L1315.6,479.8 L1316.2,483.5 L1316.8,482.7 L1317.4,481.4 L1318.0,482.3 L1318.6,485.2 L1319.2,484.9 L1319.9,483.7 L1320.5,484.6 L1321.1,482.4 L1321.7,483.6 L1322.3,483.5 L1322.9,484.3 L1323.5,483.1 L1324.2,482.8 L1324.8,482.8 L1325.4,481.7 L1326.0,487.1 L1326.6,483.7 L1327.2,483.4 L1327.8,486.9 L1328.5,485.1 L1329.1,479.4 L1329.7,483.6 L1330.3,483.7 L1330.9,485.6 L1331.5,484.5 L1332.1,483.3 L1332.7,479.5 L1333.3,480.0 L1333.9,482.1 L1334.5,482.5 L1335.1,479.5 L1335.7,480.6 L1336.3,480.5 L1336.9,481.2 L1337.5,481.7 L1338.1,480.4 L1338.7,478.5 L1339.3,483.1 L1340.0,483.7 L1340.6,480.3 L1341.2,482.4 L1341.8,481.2 L1342.4,481.5 L1343.0,481.0 L1343.6,478.5 L1344.2,481.0 L1344.8,481.7 L1345.4,477.9 L1346.0,483.2 L1346.6,483.3 L1347.2,482.7 L1347.8,482.9 L1348.4,480.3 L1349.0,478.1 L1349.6,477.5 L1350.2,476.9 L1350.8,478.5 L1351.5,478.1 L1352.1,479.2 L1352.7,473.9 L1353.3,482.0 L1353.9,481.7 L1354.5,477.1 L1355.1,478.2 L1355.7,477.6 L1356.4,476.9 L1357.0,475.7 L1357.6,475.5 L1358.3,473.8 L1358.9,475.3 L1359.5,474.5 L1360.1,474.6 L1360.8,471.9 L1361.4,473.0 L1362.0,472.4 L1362.7,472.9 L1363.3,469.0 L1363.9,470.9 L1364.5,470.9 L1365.2,469.0 L1365.8,465.9 L1366.4,464.3 L1367.1,463.2 L1367.7,463.4 L1368.3,463.3 L1368.9,458.2 L1369.6,455.4 L1370.2,455.4 L1370.8,453.0 L1371.4,448.7 L1372.0,446.2 L1372.6,444.3 L1373.2,442.4 L1373.9,435.3 L1374.5,432.2 L1375.1,431.8 L1375.7,425.6 L1376.3,425.6 L1376.9,423.5 L1377.5,420.2 L1378.2,417.5 L1378.9,422.8 L1379.6,430.1 L1380.4,439.7 L1381.0,445.9 L1381.7,459.4 L1382.4,462.4 L1383.1,468.7 L1383.8,468.3 L1384.4,468.2 L1385.1,462.5 L1385.8,461.7 L1386.5,456.7 L1387.2,456.8 L1387.9,456.5 L1388.5,450.0 L1389.2,449.3 L1389.9,444.6 L1390.6,446.9 L1391.3,446.8 L1391.9,446.0 L1392.6,447.7 L1393.3,455.8 L1394.0,462.8 L1394.7,467.7 L1395.3,470.5 L1395.9,467.5 L1396.6,471.7 L1397.2,477.6 L1397.8,474.3 L1398.4,480.3 L1399.0,483.0 L1399.6,481.9 L1400.2,483.2 L1400.8,480.6 L1401.4,478.9 L1402.0,481.1 L1402.6,480.9 L1403.2,481.2 L1403.9,482.6 L1404.5,481.0 L1405.1,481.6 L1405.7,482.1 L1406.3,481.2 L1406.9,484.8 L1407.5,482.1 L1408.1,481.4 L1408.8,480.9 L1409.4,480.1 L1410.0,483.8 L1410.6,481.5 L1411.2,479.2 L1411.8,480.2 L1412.4,481.0 L1413.0,480.4" fill="none" stroke="#8a22f0" stroke-width="1.60" stroke-linejoin="round"/>
<path d="M1308.2,576.3 L1310.0,575.7 L1311.8,575.2 L1313.6,574.8 L1315.4,574.3 L1317.3,573.8 L1319.1,573.4 L1320.9,572.9 L1322.7,572.5 L1324.5,572.0 L1326.3,571.5 L1328.1,571.0 L1330.0,570.5 L1331.8,569.9 L1333.6,569.4 L1335.4,568.8 L1337.2,568.1 L1339.0,567.4 L1340.9,566.7 L1342.7,566.0 L1344.6,565.3 L1346.4,564.5 L1348.3,563.5 L1350.1,562.4 L1352.0,561.0 L1353.9,559.2 L1355.7,556.2 L1357.5,550.1 L1359.3,542.2 L1361.3,530.4 L1363.3,516.4 L1365.4,515.7 L1367.4,521.5 L1369.5,548.5 L1371.5,558.0 L1373.5,552.2 L1375.6,545.4 L1377.6,537.7 L1379.7,536.3 L1381.7,545.9 L1383.8,556.5 L1385.8,567.5 L1387.8,570.8 L1389.6,570.8 L1391.4,570.8 L1393.2,570.8 L1395.0,570.8 L1396.8,570.8 L1398.6,570.8 L1400.4,570.8 L1402.2,570.8 L1404.0,570.8 L1405.8,570.8 L1407.6,570.8 L1409.4,570.8 L1411.2,570.8 L1413.0,570.8" fill="none" stroke="#f21ef2" stroke-width="4.00" stroke-linejoin="round"/>
<path d="M1308.2,578.3 L1308.8,573.9 L1309.4,576.8 L1310.0,576.0 L1310.6,573.3 L1311.2,575.5 L1311.8,575.1 L1312.4,576.0 L1313.0,574.1 L1313.6,575.3 L1314.2,571.4 L1314.8,572.4 L1315.4,575.8 L1316.0,576.1 L1316.6,574.0 L1317.3,572.7 L1317.9,575.7 L1318.5,569.5 L1319.1,571.9 L1319.7,574.5 L1320.3,574.3 L1320.9,571.0 L1321.5,569.2 L1322.1,575.4 L1322.7,572.7 L1323.3,570.6 L1323.9,572.2 L1324.5,573.7 L1325.1,566.9 L1325.7,573.8 L1326.3,572.9 L1326.9,567.4 L1327.5,572.6 L1328.1,567.6 L1328.8,573.0 L1329.4,571.4 L1330.0,574.8 L1330.6,569.1 L1331.2,570.1 L1331.8,571.9 L1332.4,568.5 L1333.0,568.2 L1333.6,568.7 L1334.2,569.0 L1334.8,566.9 L1335.4,569.7 L1336.0,569.6 L1336.6,568.5 L1337.2,571.4 L1337.8,567.3 L1338.4,570.2 L1339.0,566.4 L1339.7,568.6 L1340.3,563.3 L1340.9,567.1 L1341.5,566.1 L1342.1,565.3 L1342.7,564.8 L1343.3,565.1 L1344.0,564.1 L1344.6,561.1 L1345.2,563.9 L1345.8,563.7 L1346.4,563.5 L1347.1,562.2 L1347.7,563.6 L1348.3,565.0 L1348.9,562.7 L1349.5,561.9 L1350.1,565.0 L1350.8,563.8 L1351.4,563.3 L1352.0,563.2 L1352.6,559.8 L1353.2,559.6 L1353.9,561.3 L1354.5,557.5 L1355.1,557.4 L1355.7,557.0 L1356.3,555.2 L1356.9,551.9 L1357.5,552.0 L1358.1,547.2 L1358.7,546.3 L1359.3,544.2 L1359.9,540.7 L1360.6,536.9 L1361.3,528.2 L1362.0,522.4 L1362.7,518.8 L1363.3,517.3 L1364.0,517.8 L1364.7,512.8 L1365.4,516.3 L1366.1,515.0 L1366.7,516.3 L1367.4,521.0 L1368.1,530.6 L1368.8,539.4 L1369.5,550.7 L1370.1,553.8 L1370.8,560.2 L1371.5,559.8 L1372.2,556.7 L1372.9,555.5 L1373.5,551.1 L1374.2,547.7 L1374.9,546.9 L1375.6,544.2 L1376.3,548.3 L1377.0,539.2 L1377.6,540.9 L1378.3,536.4 L1379.0,536.0 L1379.7,537.7 L1380.4,537.2 L1381.0,543.8 L1381.7,546.6 L1382.4,546.9 L1383.1,554.2 L1383.8,557.5 L1384.4,561.2 L1385.1,567.2 L1385.8,566.7 L1386.5,570.9 L1387.2,572.2 L1387.8,569.1 L1388.4,573.1 L1389.0,568.1 L1389.6,568.3 L1390.2,571.8 L1390.8,568.7 L1391.4,570.6 L1392.0,567.7 L1392.6,570.9 L1393.2,568.7 L1393.8,571.5 L1394.4,567.9 L1395.0,571.7 L1395.6,570.3 L1396.2,570.9 L1396.8,570.7 L1397.4,571.1 L1398.0,568.3 L1398.6,565.9 L1399.2,570.9 L1399.8,569.0 L1400.4,569.9 L1401.0,571.6 L1401.6,567.0 L1402.2,569.4 L1402.8,569.6 L1403.4,568.8 L1404.0,571.4 L1404.6,570.5 L1405.2,569.2 L1405.8,568.9 L1406.4,572.3 L1407.0,569.6 L1407.6,571.9 L1408.2,571.7 L1408.8,567.2 L1409.4,568.7 L1410.0,570.8 L1410.6,571.5 L1411.2,572.3 L1411.8,572.3 L1412.4,572.8 L1413.0,570.1" fill="none" stroke="#f21ef2" stroke-width="1.60" stroke-linejoin="round"/>
<path d="M1308.2,674.0 L1310.0,673.3 L1311.8,672.7 L1313.6,672.1 L1315.4,671.6 L1317.3,671.1 L1319.1,670.5 L1320.9,670.0 L1322.7,669.5 L1324.5,669.0 L1326.3,668.4 L1328.1,667.8 L1330.0,667.1 L1331.8,666.4 L1333.6,665.6 L1335.4,664.8 L1337.2,663.9 L1339.0,662.8 L1340.9,661.7 L1342.7,660.4 L1344.6,658.5 L1346.4,655.8 L1348.3,651.7 L1350.1,641.3 L1351.9,628.1 L1353.8,617.1 L1356.0,606.9 L1358.0,611.0 L1359.9,626.3 L1362.0,644.7 L1364.0,656.3 L1366.1,649.5 L1368.1,639.9 L1370.1,634.7 L1372.1,634.2 L1374.2,644.5 L1376.3,655.7 L1378.3,666.2 L1380.2,667.2 L1382.0,667.2 L1383.9,667.2 L1385.7,667.2 L1387.5,667.2 L1389.3,667.2 L1391.2,667.2 L1393.0,667.2 L1394.8,667.2 L1396.6,667.2 L1398.5,667.2 L1400.3,667.2 L1402.1,667.2 L1403.9,667.2 L1405.8,667.2 L1407.6,667.2 L1409.4,667.2 L1411.2,667.2 L1413.0,667.2" fill="none" stroke="#ff8a14" stroke-width="4.00" stroke-linejoin="round"/>
<path d="M1308.2,673.6 L1308.8,675.2 L1309.4,672.7 L1310.0,675.3 L1310.6,670.1 L1311.2,674.2 L1311.8,672.4 L1312.4,668.8 L1313.0,674.2 L1313.6,672.7 L1314.2,672.0 L1314.8,669.7 L1315.4,670.7 L1316.0,674.3 L1316.6,669.7 L1317.3,664.5 L1317.9,669.3 L1318.5,668.4 L1319.1,670.3 L1319.7,669.6 L1320.3,668.5 L1320.9,668.4 L1321.5,671.8 L1322.1,666.9 L1322.7,673.2 L1323.3,668.3 L1323.9,667.1 L1324.5,670.5 L1325.1,669.8 L1325.7,666.6 L1326.3,669.8 L1326.9,664.7 L1327.5,666.2 L1328.1,669.9 L1328.8,667.1 L1329.4,664.9 L1330.0,668.1 L1330.6,668.6 L1331.2,666.6 L1331.8,663.0 L1332.4,665.5 L1333.0,666.7 L1333.6,667.1 L1334.2,668.9 L1334.8,664.6 L1335.4,663.9 L1336.0,664.4 L1336.6,666.5 L1337.2,662.1 L1337.8,666.0 L1338.4,658.0 L1339.0,664.4 L1339.7,661.2 L1340.3,663.0 L1340.9,663.0 L1341.5,659.1 L1342.1,660.7 L1342.7,660.8 L1343.3,660.9 L1344.0,657.4 L1344.6,656.6 L1345.2,654.0 L1345.8,661.6 L1346.4,655.5 L1347.1,654.3 L1347.7,650.7 L1348.3,653.5 L1348.9,647.9 L1349.5,648.1 L1350.1,642.9 L1350.7,637.0 L1351.3,633.8 L1351.9,626.0 L1352.5,623.6 L1353.1,619.8 L1353.8,614.7 L1354.5,613.1 L1355.2,609.2 L1356.0,609.6 L1356.7,599.5 L1357.3,606.0 L1358.0,609.2 L1358.6,615.1 L1359.3,622.2 L1359.9,627.1 L1360.6,631.8 L1361.3,637.2 L1362.0,645.7 L1362.7,651.2 L1363.3,651.2 L1364.0,655.8 L1364.7,652.7 L1365.4,650.6 L1366.1,649.8 L1366.7,645.9 L1367.4,642.6 L1368.1,638.3 L1368.8,637.7 L1369.4,634.5 L1370.1,635.4 L1370.7,634.9 L1371.4,636.5 L1372.1,636.6 L1372.8,635.4 L1373.5,639.7 L1374.2,642.8 L1374.9,648.7 L1375.6,655.4 L1376.3,657.1 L1377.0,655.7 L1377.6,661.2 L1378.3,663.7 L1379.0,668.1 L1379.6,667.2 L1380.2,667.7 L1380.8,670.6 L1381.4,665.6 L1382.0,665.6 L1382.6,670.9 L1383.3,667.8 L1383.9,665.7 L1384.5,663.3 L1385.1,664.3 L1385.7,662.5 L1386.3,667.3 L1386.9,667.3 L1387.5,669.1 L1388.1,666.9 L1388.7,665.9 L1389.3,665.8 L1389.9,670.8 L1390.6,663.8 L1391.2,667.5 L1391.8,667.2 L1392.4,668.3 L1393.0,666.4 L1393.6,668.1 L1394.2,668.7 L1394.8,666.9 L1395.4,666.3 L1396.0,666.8 L1396.6,665.3 L1397.2,666.8 L1397.8,666.6 L1398.5,667.6 L1399.1,669.7 L1399.7,669.7 L1400.3,666.3 L1400.9,668.3 L1401.5,667.7 L1402.1,668.6 L1402.7,667.2 L1403.3,667.7 L1403.9,666.3 L1404.5,665.7 L1405.1,668.8 L1405.8,669.6 L1406.4,668.4 L1407.0,668.0 L1407.6,667.7 L1408.2,666.3 L1408.8,663.8 L1409.4,668.4 L1410.0,667.5 L1410.6,666.1 L1411.2,665.3 L1411.8,669.6 L1412.4,663.7 L1413.0,670.5" fill="none" stroke="#ff8a14" stroke-width="1.60" stroke-linejoin="round"/>
<path d="M1308.2,769.0 L1310.0,768.3 L1311.8,767.6 L1313.6,767.1 L1315.4,766.6 L1317.3,766.1 L1319.1,765.6 L1320.9,765.2 L1322.7,764.7 L1324.5,764.2 L1326.3,763.6 L1328.1,763.0 L1330.0,762.3 L1331.8,761.5 L1333.6,760.6 L1335.4,759.5 L1337.2,758.3 L1339.0,756.9 L1340.9,755.4 L1342.9,750.9 L1344.9,743.1 L1347.0,729.2 L1349.0,715.9 L1351.1,709.7 L1353.1,713.3 L1355.2,726.4 L1357.2,747.2 L1359.2,753.0 L1361.3,742.3 L1363.3,731.9 L1365.4,725.4 L1367.4,730.6 L1369.5,740.4 L1371.5,754.4 L1373.5,763.8 L1375.4,763.8 L1377.2,763.8 L1379.0,763.7 L1380.8,763.6 L1382.7,763.5 L1384.5,763.4 L1386.3,763.3 L1388.1,763.2 L1390.0,763.1 L1391.8,762.9 L1393.6,762.8 L1395.4,762.6 L1397.2,762.4 L1399.1,762.3 L1400.9,762.1 L1402.7,761.9 L1404.5,761.8 L1406.4,761.6 L1408.2,761.5 L1410.0,761.3 L1411.8,761.2" fill="none" stroke="#8c8c14" stroke-width="4.00" stroke-linejoin="round"/>
<path d="M1308.2,770.2 L1308.8,773.2 L1309.4,767.1 L1310.0,768.2 L1310.6,767.1 L1311.2,768.1 L1311.8,767.2 L1312.4,766.0 L1313.0,769.3 L1313.6,765.6 L1314.2,765.9 L1314.8,767.8 L1315.4,765.6 L1316.0,765.6 L1316.6,766.9 L1317.3,765.4 L1317.9,763.6 L1318.5,765.6 L1319.1,765.2 L1319.7,768.7 L1320.3,763.2 L1320.9,767.0 L1321.5,763.5 L1322.1,764.2 L1322.7,764.1 L1323.3,765.0 L1323.9,766.0 L1324.5,767.5 L1325.1,762.8 L1325.7,766.3 L1326.3,765.5 L1326.9,765.0 L1327.5,761.8 L1328.1,764.7 L1328.8,762.6 L1329.4,763.2 L1330.0,761.8 L1330.6,763.3 L1331.2,763.9 L1331.8,763.6 L1332.4,760.8 L1333.0,762.8 L1333.6,763.3 L1334.2,758.4 L1334.8,762.7 L1335.4,757.0 L1336.0,760.1 L1336.6,759.8 L1337.2,761.1 L1337.8,758.4 L1338.4,756.5 L1339.0,755.4 L1339.7,754.0 L1340.3,757.4 L1340.9,754.9 L1341.5,753.0 L1342.2,753.9 L1342.9,749.4 L1343.6,747.7 L1344.3,745.0 L1344.9,746.2 L1345.6,742.2 L1346.3,734.3 L1347.0,726.2 L1347.7,724.3 L1348.4,719.3 L1349.0,716.5 L1349.7,714.5 L1350.4,710.6 L1351.1,711.4 L1351.8,710.6 L1352.4,710.6 L1353.1,712.5 L1353.8,716.3 L1354.5,722.6 L1355.2,724.3 L1355.8,732.9 L1356.5,739.1 L1357.2,744.6 L1357.9,753.3 L1358.6,753.9 L1359.2,753.0 L1359.9,751.9 L1360.6,743.6 L1361.3,742.1 L1362.0,738.8 L1362.7,736.5 L1363.3,729.9 L1364.0,730.2 L1364.7,726.8 L1365.4,728.0 L1366.1,728.2 L1366.7,729.0 L1367.4,734.7 L1368.1,733.8 L1368.8,736.3 L1369.5,739.7 L1370.1,742.4 L1370.8,749.1 L1371.5,750.8 L1372.2,758.9 L1372.9,763.3 L1373.5,765.7 L1374.2,763.1 L1374.8,766.4 L1375.4,762.6 L1376.0,763.5 L1376.6,760.2 L1377.2,762.3 L1377.8,762.2 L1378.4,766.5 L1379.0,764.7 L1379.6,761.6 L1380.2,764.7 L1380.8,764.5 L1381.4,763.2 L1382.1,763.6 L1382.7,763.0 L1383.3,762.5 L1383.9,760.2 L1384.5,763.3 L1385.1,765.8 L1385.7,766.0 L1386.3,762.8 L1386.9,761.9 L1387.5,762.9 L1388.1,764.9 L1388.7,763.8 L1389.3,762.0 L1390.0,763.7 L1390.6,762.6 L1391.2,763.9 L1391.8,762.2 L1392.4,760.1 L1393.0,762.9 L1393.6,764.2 L1394.2,760.7 L1394.8,762.5 L1395.4,764.2 L1396.0,761.8 L1396.6,761.3 L1397.2,766.2 L1397.9,763.9 L1398.5,764.2 L1399.1,760.5 L1399.7,765.2 L1400.3,759.1 L1400.9,761.1 L1401.5,763.4 L1402.1,764.4 L1402.7,760.2 L1403.3,760.6 L1403.9,762.2 L1404.5,758.2 L1405.1,762.9 L1405.8,762.7 L1406.4,760.8 L1407.0,762.5 L1407.6,762.9 L1408.2,762.0 L1408.8,762.4 L1409.4,764.1 L1410.0,760.4 L1410.6,761.6 L1411.2,760.2 L1411.8,763.1 L1412.4,760.4 L1413.0,762.0" fill="none" stroke="#8c8c14" stroke-width="1.60" stroke-linejoin="round"/>
<line x1="1307.80" y1="100.59" x2="1312.30" y2="100.59" stroke="#000" stroke-width="1.8"/>
<line x1="1780.50" y1="100.59" x2="1776.00" y2="100.59" stroke="#000" stroke-width="1.8"/>
<line x1="1307.80" y1="88.49" x2="1314.80" y2="88.49" stroke="#000" stroke-width="1.8"/>
<line x1="1780.50" y1="88.49" x2="1773.50" y2="88.49" stroke="#000" stroke-width="1.8"/>
<line x1="1307.80" y1="76.39" x2="1312.30" y2="76.39" stroke="#000" stroke-width="1.8"/>
<line x1="1780.50" y1="76.39" x2="1776.00" y2="76.39" stroke="#000" stroke-width="1.8"/>
<line x1="1307.80" y1="64.29" x2="1314.80" y2="64.29" stroke="#000" stroke-width="1.8"/>
<line x1="1780.50" y1="64.29" x2="1773.50" y2="64.29" stroke="#000" stroke-width="1.8"/>
<line x1="1307.80" y1="52.19" x2="1312.30" y2="52.19" stroke="#000" stroke-width="1.8"/>
<line x1="1780.50" y1="52.19" x2="1776.00" y2="52.19" stroke="#000" stroke-width="1.8"/>
<line x1="1307.80" y1="40.09" x2="1314.80" y2="40.09" stroke="#000" stroke-width="1.8"/>
<line x1="1780.50" y1="40.09" x2="1773.50" y2="40.09" stroke="#000" stroke-width="1.8"/>
<line x1="1307.80" y1="27.99" x2="1312.30" y2="27.99" stroke="#000" stroke-width="1.8"/>
<line x1="1780.50" y1="27.99" x2="1776.00" y2="27.99" stroke="#000" stroke-width="1.8"/>
<line x1="1307.80" y1="195.17" x2="1312.30" y2="195.17" stroke="#000" stroke-width="1.8"/>
<line x1="1780.50" y1="195.17" x2="1776.00" y2="195.17" stroke="#000" stroke-width="1.8"/>
<line x1="1307.80" y1="183.07" x2="1314.80" y2="183.07" stroke="#000" stroke-width="1.8"/>
<line x1="1780.50" y1="183.07" x2="1773.50" y2="183.07" stroke="#000" stroke-width="1.8"/>
<line x1="1307.80" y1="170.97" x2="1312.30" y2="170.97" stroke="#000" stroke-width="1.8"/>
<line x1="1780.50" y1="170.97" x2="1776.00" y2="170.97" stroke="#000" stroke-width="1.8"/>
<line x1="1307.80" y1="158.87" x2="1314.80" y2="158.87" stroke="#000" stroke-width="1.8"/>
<line x1="1780.50" y1="158.87" x2="1773.50" y2="158.87" stroke="#000" stroke-width="1.8"/>
<line x1="1307.80" y1="146.77" x2="1312.30" y2="146.77" stroke="#000" stroke-width="1.8"/>
<line x1="1780.50" y1="146.77" x2="1776.00" y2="146.77" stroke="#000" stroke-width="1.8"/>
<line x1="1307.80" y1="134.67" x2="1314.80" y2="134.67" stroke="#000" stroke-width="1.8"/>
<line x1="1780.50" y1="134.67" x2="1773.50" y2="134.67" stroke="#000" stroke-width="1.8"/>
<line x1="1307.80" y1="122.57" x2="1312.30" y2="122.57" stroke="#000" stroke-width="1.8"/>
<line x1="1780.50" y1="122.57" x2="1776.00" y2="122.57" stroke="#000" stroke-width="1.8"/>
<line x1="1307.80" y1="289.76" x2="1312.30" y2="289.76" stroke="#000" stroke-width="1.8"/>
<line x1="1780.50" y1="289.76" x2="1776.00" y2="289.76" stroke="#000" stroke-width="1.8"/>
<line x1="1307.80" y1="277.66" x2="1314.80" y2="277.66" stroke="#000" stroke-width="1.8"/>
<line x1="1780.50" y1="277.66" x2="1773.50" y2="277.66" stroke="#000" stroke-width="1.8"/>
<line x1="1307.80" y1="265.56" x2="1312.30" y2="265.56" stroke="#000" stroke-width="1.8"/>
<line x1="1780.50" y1="265.56" x2="1776.00" y2="265.56" stroke="#000" stroke-width="1.8"/>
<line x1="1307.80" y1="253.46" x2="1314.80" y2="253.46" stroke="#000" stroke-width="1.8"/>
<line x1="1780.50" y1="253.46" x2="1773.50" y2="253.46" stroke="#000" stroke-width="1.8"/>
<line x1="1307.80" y1="241.36" x2="1312.30" y2="241.36" stroke="#000" stroke-width="1.8"/>
<line x1="1780.50" y1="241.36" x2="1776.00" y2="241.36" stroke="#000" stroke-width="1.8"/>
<line x1="1307.80" y1="229.26" x2="1314.80" y2="229.26" stroke="#000" stroke-width="1.8"/>
<line x1="1780.50" y1="229.26" x2="1773.50" y2="229.26" stroke="#000" stroke-width="1.8"/>
<line x1="1307.80" y1="217.16" x2="1312.30" y2="217.16" stroke="#000" stroke-width="1.8"/>
<line x1="1780.50" y1="217.16" x2="1776.00" y2="217.16" stroke="#000" stroke-width="1.8"/>
<line x1="1307.80" y1="384.35" x2="1312.30" y2="384.35" stroke="#000" stroke-width="1.8"/>
<line x1="1780.50" y1="384.35" x2="1776.00" y2="384.35" stroke="#000" stroke-width="1.8"/>
<line x1="1307.80" y1="372.25" x2="1314.80" y2="372.25" stroke="#000" stroke-width="1.8"/>
<line x1="1780.50" y1="372.25" x2="1773.50" y2="372.25" stroke="#000" stroke-width="1.8"/>
<line x1="1307.80" y1="360.15" x2="1312.30" y2="360.15" stroke="#000" stroke-width="1.8"/>
<line x1="1780.50" y1="360.15" x2="1776.00" y2="360.15" stroke="#000" stroke-width="1.8"/>
<line x1="1307.80" y1="348.05" x2="1314.80" y2="348.05" stroke="#000" stroke-width="1.8"/>
<line x1="1780.50" y1="348.05" x2="1773.50" y2="348.05" stroke="#000" stroke-width="1.8"/>
<line x1="1307.80" y1="335.95" x2="1312.30" y2="335.95" stroke="#000" stroke-width="1.8"/>
<line x1="1780.50" y1="335.95" x2="1776.00" y2="335.95" stroke="#000" stroke-width="1.8"/>
<line x1="1307.80" y1="323.85" x2="1314.80" y2="323.85" stroke="#000" stroke-width="1.8"/>
<line x1="1780.50" y1="323.85" x2="1773.50" y2="323.85" stroke="#000" stroke-width="1.8"/>
<line x1="1307.80" y1="311.75" x2="1312.30" y2="311.75" stroke="#000" stroke-width="1.8"/>
<line x1="1780.50" y1="311.75" x2="1776.00" y2="311.75" stroke="#000" stroke-width="1.8"/>
<line x1="1307.80" y1="478.94" x2="1312.30" y2="478.94" stroke="#000" stroke-width="1.8"/>
<line x1="1780.50" y1="478.94" x2="1776.00" y2="478.94" stroke="#000" stroke-width="1.8"/>
<line x1="1307.80" y1="466.84" x2="1314.80" y2="466.84" stroke="#000" stroke-width="1.8"/>
<line x1="1780.50" y1="466.84" x2="1773.50" y2="466.84" stroke="#000" stroke-width="1.8"/>
<line x1="1307.80" y1="454.74" x2="1312.30" y2="454.74" stroke="#000" stroke-width="1.8"/>
<line x1="1780.50" y1="454.74" x2="1776.00" y2="454.74" stroke="#000" stroke-width="1.8"/>
<line x1="1307.80" y1="442.64" x2="1314.80" y2="442.64" stroke="#000" stroke-width="1.8"/>
<line x1="1780.50" y1="442.64" x2="1773.50" y2="442.64" stroke="#000" stroke-width="1.8"/>
<line x1="1307.80" y1="430.54" x2="1312.30" y2="430.54" stroke="#000" stroke-width="1.8"/>
<line x1="1780.50" y1="430.54" x2="1776.00" y2="430.54" stroke="#000" stroke-width="1.8"/>
<line x1="1307.80" y1="418.44" x2="1314.80" y2="418.44" stroke="#000" stroke-width="1.8"/>
<line x1="1780.50" y1="418.44" x2="1773.50" y2="418.44" stroke="#000" stroke-width="1.8"/>
<line x1="1307.80" y1="406.34" x2="1312.30" y2="406.34" stroke="#000" stroke-width="1.8"/>
<line x1="1780.50" y1="406.34" x2="1776.00" y2="406.34" stroke="#000" stroke-width="1.8"/>
<line x1="1307.80" y1="573.52" x2="1312.30" y2="573.52" stroke="#000" stroke-width="1.8"/>
<line x1="1780.50" y1="573.52" x2="1776.00" y2="573.52" stroke="#000" stroke-width="1.8"/>
<line x1="1307.80" y1="561.42" x2="1314.80" y2="561.42" stroke="#000" stroke-width="1.8"/>
<line x1="1780.50" y1="561.42" x2="1773.50" y2="561.42" stroke="#000" stroke-width="1.8"/>
<line x1="1307.80" y1="549.33" x2="1312.30" y2="549.33" stroke="#000" stroke-width="1.8"/>
<line x1="1780.50" y1="549.33" x2="1776.00" y2="549.33" stroke="#000" stroke-width="1.8"/>
<line x1="1307.80" y1="537.23" x2="1314.80" y2="537.23" stroke="#000" stroke-width="1.8"/>
<line x1="1780.50" y1="537.23" x2="1773.50" y2="537.23" stroke="#000" stroke-width="1.8"/>
<line x1="1307.80" y1="525.12" x2="1312.30" y2="525.12" stroke="#000" stroke-width="1.8"/>
<line x1="1780.50" y1="525.12" x2="1776.00" y2="525.12" stroke="#000" stroke-width="1.8"/>
<line x1="1307.80" y1="513.02" x2="1314.80" y2="513.02" stroke="#000" stroke-width="1.8"/>
<line x1="1780.50" y1="513.02" x2="1773.50" y2="513.02" stroke="#000" stroke-width="1.8"/>
<line x1="1307.80" y1="500.93" x2="1312.30" y2="500.93" stroke="#000" stroke-width="1.8"/>
<line x1="1780.50" y1="500.93" x2="1776.00" y2="500.93" stroke="#000" stroke-width="1.8"/>
<line x1="1307.80" y1="668.11" x2="1312.30" y2="668.11" stroke="#000" stroke-width="1.8"/>
<line x1="1780.50" y1="668.11" x2="1776.00" y2="668.11" stroke="#000" stroke-width="1.8"/>
<line x1="1307.80" y1="656.01" x2="1314.80" y2="656.01" stroke="#000" stroke-width="1.8"/>
<line x1="1780.50" y1="656.01" x2="1773.50" y2="656.01" stroke="#000" stroke-width="1.8"/>
<line x1="1307.80" y1="643.91" x2="1312.30" y2="643.91" stroke="#000" stroke-width="1.8"/>
<line x1="1780.50" y1="643.91" x2="1776.00" y2="643.91" stroke="#000" stroke-width="1.8"/>
<line x1="1307.80" y1="631.81" x2="1314.80" y2="631.81" stroke="#000" stroke-width="1.8"/>
<line x1="1780.50" y1="631.81" x2="1773.50" y2="631.81" stroke="#000" stroke-width="1.8"/>
<line x1="1307.80" y1="619.71" x2="1312.30" y2="619.71" stroke="#000" stroke-width="1.8"/>
<line x1="1780.50" y1="619.71" x2="1776.00" y2="619.71" stroke="#000" stroke-width="1.8"/>
<line x1="1307.80" y1="607.61" x2="1314.80" y2="607.61" stroke="#000" stroke-width="1.8"/>
<line x1="1780.50" y1="607.61" x2="1773.50" y2="607.61" stroke="#000" stroke-width="1.8"/>
<line x1="1307.80" y1="595.51" x2="1312.30" y2="595.51" stroke="#000" stroke-width="1.8"/>
<line x1="1780.50" y1="595.51" x2="1776.00" y2="595.51" stroke="#000" stroke-width="1.8"/>
<line x1="1307.80" y1="762.70" x2="1312.30" y2="762.70" stroke="#000" stroke-width="1.8"/>
<line x1="1780.50" y1="762.70" x2="1776.00" y2="762.70" stroke="#000" stroke-width="1.8"/>
<line x1="1307.80" y1="750.60" x2="1314.80" y2="750.60" stroke="#000" stroke-width="1.8"/>
<line x1="1780.50" y1="750.60" x2="1773.50" y2="750.60" stroke="#000" stroke-width="1.8"/>
<line x1="1307.80" y1="738.50" x2="1312.30" y2="738.50" stroke="#000" stroke-width="1.8"/>
<line x1="1780.50" y1="738.50" x2="1776.00" y2="738.50" stroke="#000" stroke-width="1.8"/>
<line x1="1307.80" y1="726.40" x2="1314.80" y2="726.40" stroke="#000" stroke-width="1.8"/>
<line x1="1780.50" y1="726.40" x2="1773.50" y2="726.40" stroke="#000" stroke-width="1.8"/>
<line x1="1307.80" y1="714.30" x2="1312.30" y2="714.30" stroke="#000" stroke-width="1.8"/>
<line x1="1780.50" y1="714.30" x2="1776.00" y2="714.30" stroke="#000" stroke-width="1.8"/>
<line x1="1307.80" y1="702.20" x2="1314.80" y2="702.20" stroke="#000" stroke-width="1.8"/>
<line x1="1780.50" y1="702.20" x2="1773.50" y2="702.20" stroke="#000" stroke-width="1.8"/>
<line x1="1307.80" y1="690.10" x2="1312.30" y2="690.10" stroke="#000" stroke-width="1.8"/>
<line x1="1780.50" y1="690.10" x2="1776.00" y2="690.10" stroke="#000" stroke-width="1.8"/>
<line x1="1307.80" y1="114.19" x2="1307.80" y2="107.19" stroke="#000" stroke-width="1.6"/>
<line x1="1318.30" y1="114.19" x2="1318.30" y2="110.39" stroke="#000" stroke-width="1.6"/>
<line x1="1328.81" y1="114.19" x2="1328.81" y2="110.39" stroke="#000" stroke-width="1.6"/>
<line x1="1339.31" y1="114.19" x2="1339.31" y2="110.39" stroke="#000" stroke-width="1.6"/>
<line x1="1349.82" y1="114.19" x2="1349.82" y2="110.39" stroke="#000" stroke-width="1.6"/>
<line x1="1360.32" y1="114.19" x2="1360.32" y2="107.19" stroke="#000" stroke-width="1.6"/>
<line x1="1370.83" y1="114.19" x2="1370.83" y2="110.39" stroke="#000" stroke-width="1.6"/>
<line x1="1381.33" y1="114.19" x2="1381.33" y2="110.39" stroke="#000" stroke-width="1.6"/>
<line x1="1391.84" y1="114.19" x2="1391.84" y2="110.39" stroke="#000" stroke-width="1.6"/>
<line x1="1402.34" y1="114.19" x2="1402.34" y2="110.39" stroke="#000" stroke-width="1.6"/>
<line x1="1412.84" y1="114.19" x2="1412.84" y2="107.19" stroke="#000" stroke-width="1.6"/>
<line x1="1423.35" y1="114.19" x2="1423.35" y2="110.39" stroke="#000" stroke-width="1.6"/>
<line x1="1433.85" y1="114.19" x2="1433.85" y2="110.39" stroke="#000" stroke-width="1.6"/>
<line x1="1444.36" y1="114.19" x2="1444.36" y2="110.39" stroke="#000" stroke-width="1.6"/>
<line x1="1454.86" y1="114.19" x2="1454.86" y2="110.39" stroke="#000" stroke-width="1.6"/>
<line x1="1465.37" y1="114.19" x2="1465.37" y2="107.19" stroke="#000" stroke-width="1.6"/>
<line x1="1475.87" y1="114.19" x2="1475.87" y2="110.39" stroke="#000" stroke-width="1.6"/>
<line x1="1486.38" y1="114.19" x2="1486.38" y2="110.39" stroke="#000" stroke-width="1.6"/>
<line x1="1496.88" y1="114.19" x2="1496.88" y2="110.39" stroke="#000" stroke-width="1.6"/>
<line x1="1507.38" y1="114.19" x2="1507.38" y2="110.39" stroke="#000" stroke-width="1.6"/>
<line x1="1517.89" y1="114.19" x2="1517.89" y2="107.19" stroke="#000" stroke-width="1.6"/>
<line x1="1528.39" y1="114.19" x2="1528.39" y2="110.39" stroke="#000" stroke-width="1.6"/>
<line x1="1538.90" y1="114.19" x2="1538.90" y2="110.39" stroke="#000" stroke-width="1.6"/>
<line x1="1549.40" y1="114.19" x2="1549.40" y2="110.39" stroke="#000" stroke-width="1.6"/>
<line x1="1559.91" y1="114.19" x2="1559.91" y2="110.39" stroke="#000" stroke-width="1.6"/>
<line x1="1570.41" y1="114.19" x2="1570.41" y2="107.19" stroke="#000" stroke-width="1.6"/>
<line x1="1580.92" y1="114.19" x2="1580.92" y2="110.39" stroke="#000" stroke-width="1.6"/>
<line x1="1591.42" y1="114.19" x2="1591.42" y2="110.39" stroke="#000" stroke-width="1.6"/>
<line x1="1601.92" y1="114.19" x2="1601.92" y2="110.39" stroke="#000" stroke-width="1.6"/>
<line x1="1612.43" y1="114.19" x2="1612.43" y2="110.39" stroke="#000" stroke-width="1.6"/>
<line x1="1622.93" y1="114.19" x2="1622.93" y2="107.19" stroke="#000" stroke-width="1.6"/>
<line x1="1633.44" y1="114.19" x2="1633.44" y2="110.39" stroke="#000" stroke-width="1.6"/>
<line x1="1643.94" y1="114.19" x2="1643.94" y2="110.39" stroke="#000" stroke-width="1.6"/>
<line x1="1654.45" y1="114.19" x2="1654.45" y2="110.39" stroke="#000" stroke-width="1.6"/>
<line x1="1664.95" y1="114.19" x2="1664.95" y2="110.39" stroke="#000" stroke-width="1.6"/>
<line x1="1675.46" y1="114.19" x2="1675.46" y2="107.19" stroke="#000" stroke-width="1.6"/>
<line x1="1685.96" y1="114.19" x2="1685.96" y2="110.39" stroke="#000" stroke-width="1.6"/>
<line x1="1696.46" y1="114.19" x2="1696.46" y2="110.39" stroke="#000" stroke-width="1.6"/>
<line x1="1706.97" y1="114.19" x2="1706.97" y2="110.39" stroke="#000" stroke-width="1.6"/>
<line x1="1717.47" y1="114.19" x2="1717.47" y2="110.39" stroke="#000" stroke-width="1.6"/>
<line x1="1727.98" y1="114.19" x2="1727.98" y2="107.19" stroke="#000" stroke-width="1.6"/>
<line x1="1738.48" y1="114.19" x2="1738.48" y2="110.39" stroke="#000" stroke-width="1.6"/>
<line x1="1748.99" y1="114.19" x2="1748.99" y2="110.39" stroke="#000" stroke-width="1.6"/>
<line x1="1759.49" y1="114.19" x2="1759.49" y2="110.39" stroke="#000" stroke-width="1.6"/>
<line x1="1770.00" y1="114.19" x2="1770.00" y2="110.39" stroke="#000" stroke-width="1.6"/>
<line x1="1780.50" y1="114.19" x2="1780.50" y2="107.19" stroke="#000" stroke-width="1.6"/>
<line x1="1307.80" y1="208.77" x2="1307.80" y2="201.77" stroke="#000" stroke-width="1.6"/>
<line x1="1318.30" y1="208.77" x2="1318.30" y2="204.97" stroke="#000" stroke-width="1.6"/>
<line x1="1328.81" y1="208.77" x2="1328.81" y2="204.97" stroke="#000" stroke-width="1.6"/>
<line x1="1339.31" y1="208.77" x2="1339.31" y2="204.97" stroke="#000" stroke-width="1.6"/>
<line x1="1349.82" y1="208.77" x2="1349.82" y2="204.97" stroke="#000" stroke-width="1.6"/>
<line x1="1360.32" y1="208.77" x2="1360.32" y2="201.77" stroke="#000" stroke-width="1.6"/>
<line x1="1370.83" y1="208.77" x2="1370.83" y2="204.97" stroke="#000" stroke-width="1.6"/>
<line x1="1381.33" y1="208.77" x2="1381.33" y2="204.97" stroke="#000" stroke-width="1.6"/>
<line x1="1391.84" y1="208.77" x2="1391.84" y2="204.97" stroke="#000" stroke-width="1.6"/>
<line x1="1402.34" y1="208.77" x2="1402.34" y2="204.97" stroke="#000" stroke-width="1.6"/>
<line x1="1412.84" y1="208.77" x2="1412.84" y2="201.77" stroke="#000" stroke-width="1.6"/>
<line x1="1423.35" y1="208.77" x2="1423.35" y2="204.97" stroke="#000" stroke-width="1.6"/>
<line x1="1433.85" y1="208.77" x2="1433.85" y2="204.97" stroke="#000" stroke-width="1.6"/>
<line x1="1444.36" y1="208.77" x2="1444.36" y2="204.97" stroke="#000" stroke-width="1.6"/>
<line x1="1454.86" y1="208.77" x2="1454.86" y2="204.97" stroke="#000" stroke-width="1.6"/>
<line x1="1465.37" y1="208.77" x2="1465.37" y2="201.77" stroke="#000" stroke-width="1.6"/>
<line x1="1475.87" y1="208.77" x2="1475.87" y2="204.97" stroke="#000" stroke-width="1.6"/>
<line x1="1486.38" y1="208.77" x2="1486.38" y2="204.97" stroke="#000" stroke-width="1.6"/>
<line x1="1496.88" y1="208.77" x2="1496.88" y2="204.97" stroke="#000" stroke-width="1.6"/>
<line x1="1507.38" y1="208.77" x2="1507.38" y2="204.97" stroke="#000" stroke-width="1.6"/>
<line x1="1517.89" y1="208.77" x2="1517.89" y2="201.77" stroke="#000" stroke-width="1.6"/>
<line x1="1528.39" y1="208.77" x2="1528.39" y2="204.97" stroke="#000" stroke-width="1.6"/>
<line x1="1538.90" y1="208.77" x2="1538.90" y2="204.97" stroke="#000" stroke-width="1.6"/>
<line x1="1549.40" y1="208.77" x2="1549.40" y2="204.97" stroke="#000" stroke-width="1.6"/>
<line x1="1559.91" y1="208.77" x2="1559.91" y2="204.97" stroke="#000" stroke-width="1.6"/>
<line x1="1570.41" y1="208.77" x2="1570.41" y2="201.77" stroke="#000" stroke-width="1.6"/>
<line x1="1580.92" y1="208.77" x2="1580.92" y2="204.97" stroke="#000" stroke-width="1.6"/>
<line x1="1591.42" y1="208.77" x2="1591.42" y2="204.97" stroke="#000" stroke-width="1.6"/>
<line x1="1601.92" y1="208.77" x2="1601.92" y2="204.97" stroke="#000" stroke-width="1.6"/>
<line x1="1612.43" y1="208.77" x2="1612.43" y2="204.97" stroke="#000" stroke-width="1.6"/>
<line x1="1622.93" y1="208.77" x2="1622.93" y2="201.77" stroke="#000" stroke-width="1.6"/>
<line x1="1633.44" y1="208.77" x2="1633.44" y2="204.97" stroke="#000" stroke-width="1.6"/>
<line x1="1643.94" y1="208.77" x2="1643.94" y2="204.97" stroke="#000" stroke-width="1.6"/>
<line x1="1654.45" y1="208.77" x2="1654.45" y2="204.97" stroke="#000" stroke-width="1.6"/>
<line x1="1664.95" y1="208.77" x2="1664.95" y2="204.97" stroke="#000" stroke-width="1.6"/>
<line x1="1675.46" y1="208.77" x2="1675.46" y2="201.77" stroke="#000" stroke-width="1.6"/>
<line x1="1685.96" y1="208.77" x2="1685.96" y2="204.97" stroke="#000" stroke-width="1.6"/>
<line x1="1696.46" y1="208.77" x2="1696.46" y2="204.97" stroke="#000" stroke-width="1.6"/>
<line x1="1706.97" y1="208.77" x2="1706.97" y2="204.97" stroke="#000" stroke-width="1.6"/>
<line x1="1717.47" y1="208.77" x2="1717.47" y2="204.97" stroke="#000" stroke-width="1.6"/>
<line x1="1727.98" y1="208.77" x2="1727.98" y2="201.77" stroke="#000" stroke-width="1.6"/>
<line x1="1738.48" y1="208.77" x2="1738.48" y2="204.97" stroke="#000" stroke-width="1.6"/>
<line x1="1748.99" y1="208.77" x2="1748.99" y2="204.97" stroke="#000" stroke-width="1.6"/>
<line x1="1759.49" y1="208.77" x2="1759.49" y2="204.97" stroke="#000" stroke-width="1.6"/>
<line x1="1770.00" y1="208.77" x2="1770.00" y2="204.97" stroke="#000" stroke-width="1.6"/>
<line x1="1780.50" y1="208.77" x2="1780.50" y2="201.77" stroke="#000" stroke-width="1.6"/>
<line x1="1307.80" y1="303.36" x2="1307.80" y2="296.36" stroke="#000" stroke-width="1.6"/>
<line x1="1318.30" y1="303.36" x2="1318.30" y2="299.56" stroke="#000" stroke-width="1.6"/>
<line x1="1328.81" y1="303.36" x2="1328.81" y2="299.56" stroke="#000" stroke-width="1.6"/>
<line x1="1339.31" y1="303.36" x2="1339.31" y2="299.56" stroke="#000" stroke-width="1.6"/>
<line x1="1349.82" y1="303.36" x2="1349.82" y2="299.56" stroke="#000" stroke-width="1.6"/>
<line x1="1360.32" y1="303.36" x2="1360.32" y2="296.36" stroke="#000" stroke-width="1.6"/>
<line x1="1370.83" y1="303.36" x2="1370.83" y2="299.56" stroke="#000" stroke-width="1.6"/>
<line x1="1381.33" y1="303.36" x2="1381.33" y2="299.56" stroke="#000" stroke-width="1.6"/>
<line x1="1391.84" y1="303.36" x2="1391.84" y2="299.56" stroke="#000" stroke-width="1.6"/>
<line x1="1402.34" y1="303.36" x2="1402.34" y2="299.56" stroke="#000" stroke-width="1.6"/>
<line x1="1412.84" y1="303.36" x2="1412.84" y2="296.36" stroke="#000" stroke-width="1.6"/>
<line x1="1423.35" y1="303.36" x2="1423.35" y2="299.56" stroke="#000" stroke-width="1.6"/>
<line x1="1433.85" y1="303.36" x2="1433.85" y2="299.56" stroke="#000" stroke-width="1.6"/>
<line x1="1444.36" y1="303.36" x2="1444.36" y2="299.56" stroke="#000" stroke-width="1.6"/>
<line x1="1454.86" y1="303.36" x2="1454.86" y2="299.56" stroke="#000" stroke-width="1.6"/>
<line x1="1465.37" y1="303.36" x2="1465.37" y2="296.36" stroke="#000" stroke-width="1.6"/>
<line x1="1475.87" y1="303.36" x2="1475.87" y2="299.56" stroke="#000" stroke-width="1.6"/>
<line x1="1486.38" y1="303.36" x2="1486.38" y2="299.56" stroke="#000" stroke-width="1.6"/>
<line x1="1496.88" y1="303.36" x2="1496.88" y2="299.56" stroke="#000" stroke-width="1.6"/>
<line x1="1507.38" y1="303.36" x2="1507.38" y2="299.56" stroke="#000" stroke-width="1.6"/>
<line x1="1517.89" y1="303.36" x2="1517.89" y2="296.36" stroke="#000" stroke-width="1.6"/>
<line x1="1528.39" y1="303.36" x2="1528.39" y2="299.56" stroke="#000" stroke-width="1.6"/>
<line x1="1538.90" y1="303.36" x2="1538.90" y2="299.56" stroke="#000" stroke-width="1.6"/>
<line x1="1549.40" y1="303.36" x2="1549.40" y2="299.56" stroke="#000" stroke-width="1.6"/>
<line x1="1559.91" y1="303.36" x2="1559.91" y2="299.56" stroke="#000" stroke-width="1.6"/>
<line x1="1570.41" y1="303.36" x2="1570.41" y2="296.36" stroke="#000" stroke-width="1.6"/>
<line x1="1580.92" y1="303.36" x2="1580.92" y2="299.56" stroke="#000" stroke-width="1.6"/>
<line x1="1591.42" y1="303.36" x2="1591.42" y2="299.56" stroke="#000" stroke-width="1.6"/>
<line x1="1601.92" y1="303.36" x2="1601.92" y2="299.56" stroke="#000" stroke-width="1.6"/>
<line x1="1612.43" y1="303.36" x2="1612.43" y2="299.56" stroke="#000" stroke-width="1.6"/>
<line x1="1622.93" y1="303.36" x2="1622.93" y2="296.36" stroke="#000" stroke-width="1.6"/>
<line x1="1633.44" y1="303.36" x2="1633.44" y2="299.56" stroke="#000" stroke-width="1.6"/>
<line x1="1643.94" y1="303.36" x2="1643.94" y2="299.56" stroke="#000" stroke-width="1.6"/>
<line x1="1654.45" y1="303.36" x2="1654.45" y2="299.56" stroke="#000" stroke-width="1.6"/>
<line x1="1664.95" y1="303.36" x2="1664.95" y2="299.56" stroke="#000" stroke-width="1.6"/>
<line x1="1675.46" y1="303.36" x2="1675.46" y2="296.36" stroke="#000" stroke-width="1.6"/>
<line x1="1685.96" y1="303.36" x2="1685.96" y2="299.56" stroke="#000" stroke-width="1.6"/>
<line x1="1696.46" y1="303.36" x2="1696.46" y2="299.56" stroke="#000" stroke-width="1.6"/>
<line x1="1706.97" y1="303.36" x2="1706.97" y2="299.56" stroke="#000" stroke-width="1.6"/>
<line x1="1717.47" y1="303.36" x2="1717.47" y2="299.56" stroke="#000" stroke-width="1.6"/>
<line x1="1727.98" y1="303.36" x2="1727.98" y2="296.36" stroke="#000" stroke-width="1.6"/>
<line x1="1738.48" y1="303.36" x2="1738.48" y2="299.56" stroke="#000" stroke-width="1.6"/>
<line x1="1748.99" y1="303.36" x2="1748.99" y2="299.56" stroke="#000" stroke-width="1.6"/>
<line x1="1759.49" y1="303.36" x2="1759.49" y2="299.56" stroke="#000" stroke-width="1.6"/>
<line x1="1770.00" y1="303.36" x2="1770.00" y2="299.56" stroke="#000" stroke-width="1.6"/>
<line x1="1780.50" y1="303.36" x2="1780.50" y2="296.36" stroke="#000" stroke-width="1.6"/>
<line x1="1307.80" y1="397.95" x2="1307.80" y2="390.95" stroke="#000" stroke-width="1.6"/>
<line x1="1318.30" y1="397.95" x2="1318.30" y2="394.15" stroke="#000" stroke-width="1.6"/>
<line x1="1328.81" y1="397.95" x2="1328.81" y2="394.15" stroke="#000" stroke-width="1.6"/>
<line x1="1339.31" y1="397.95" x2="1339.31" y2="394.15" stroke="#000" stroke-width="1.6"/>
<line x1="1349.82" y1="397.95" x2="1349.82" y2="394.15" stroke="#000" stroke-width="1.6"/>
<line x1="1360.32" y1="397.95" x2="1360.32" y2="390.95" stroke="#000" stroke-width="1.6"/>
<line x1="1370.83" y1="397.95" x2="1370.83" y2="394.15" stroke="#000" stroke-width="1.6"/>
<line x1="1381.33" y1="397.95" x2="1381.33" y2="394.15" stroke="#000" stroke-width="1.6"/>
<line x1="1391.84" y1="397.95" x2="1391.84" y2="394.15" stroke="#000" stroke-width="1.6"/>
<line x1="1402.34" y1="397.95" x2="1402.34" y2="394.15" stroke="#000" stroke-width="1.6"/>
<line x1="1412.84" y1="397.95" x2="1412.84" y2="390.95" stroke="#000" stroke-width="1.6"/>
<line x1="1423.35" y1="397.95" x2="1423.35" y2="394.15" stroke="#000" stroke-width="1.6"/>
<line x1="1433.85" y1="397.95" x2="1433.85" y2="394.15" stroke="#000" stroke-width="1.6"/>
<line x1="1444.36" y1="397.95" x2="1444.36" y2="394.15" stroke="#000" stroke-width="1.6"/>
<line x1="1454.86" y1="397.95" x2="1454.86" y2="394.15" stroke="#000" stroke-width="1.6"/>
<line x1="1465.37" y1="397.95" x2="1465.37" y2="390.95" stroke="#000" stroke-width="1.6"/>
<line x1="1475.87" y1="397.95" x2="1475.87" y2="394.15" stroke="#000" stroke-width="1.6"/>
<line x1="1486.38" y1="397.95" x2="1486.38" y2="394.15" stroke="#000" stroke-width="1.6"/>
<line x1="1496.88" y1="397.95" x2="1496.88" y2="394.15" stroke="#000" stroke-width="1.6"/>
<line x1="1507.38" y1="397.95" x2="1507.38" y2="394.15" stroke="#000" stroke-width="1.6"/>
<line x1="1517.89" y1="397.95" x2="1517.89" y2="390.95" stroke="#000" stroke-width="1.6"/>
<line x1="1528.39" y1="397.95" x2="1528.39" y2="394.15" stroke="#000" stroke-width="1.6"/>
<line x1="1538.90" y1="397.95" x2="1538.90" y2="394.15" stroke="#000" stroke-width="1.6"/>
<line x1="1549.40" y1="397.95" x2="1549.40" y2="394.15" stroke="#000" stroke-width="1.6"/>
<line x1="1559.91" y1="397.95" x2="1559.91" y2="394.15" stroke="#000" stroke-width="1.6"/>
<line x1="1570.41" y1="397.95" x2="1570.41" y2="390.95" stroke="#000" stroke-width="1.6"/>
<line x1="1580.92" y1="397.95" x2="1580.92" y2="394.15" stroke="#000" stroke-width="1.6"/>
<line x1="1591.42" y1="397.95" x2="1591.42" y2="394.15" stroke="#000" stroke-width="1.6"/>
<line x1="1601.92" y1="397.95" x2="1601.92" y2="394.15" stroke="#000" stroke-width="1.6"/>
<line x1="1612.43" y1="397.95" x2="1612.43" y2="394.15" stroke="#000" stroke-width="1.6"/>
<line x1="1622.93" y1="397.95" x2="1622.93" y2="390.95" stroke="#000" stroke-width="1.6"/>
<line x1="1633.44" y1="397.95" x2="1633.44" y2="394.15" stroke="#000" stroke-width="1.6"/>
<line x1="1643.94" y1="397.95" x2="1643.94" y2="394.15" stroke="#000" stroke-width="1.6"/>
<line x1="1654.45" y1="397.95" x2="1654.45" y2="394.15" stroke="#000" stroke-width="1.6"/>
<line x1="1664.95" y1="397.95" x2="1664.95" y2="394.15" stroke="#000" stroke-width="1.6"/>
<line x1="1675.46" y1="397.95" x2="1675.46" y2="390.95" stroke="#000" stroke-width="1.6"/>
<line x1="1685.96" y1="397.95" x2="1685.96" y2="394.15" stroke="#000" stroke-width="1.6"/>
<line x1="1696.46" y1="397.95" x2="1696.46" y2="394.15" stroke="#000" stroke-width="1.6"/>
<line x1="1706.97" y1="397.95" x2="1706.97" y2="394.15" stroke="#000" stroke-width="1.6"/>
<line x1="1717.47" y1="397.95" x2="1717.47" y2="394.15" stroke="#000" stroke-width="1.6"/>
<line x1="1727.98" y1="397.95" x2="1727.98" y2="390.95" stroke="#000" stroke-width="1.6"/>
<line x1="1738.48" y1="397.95" x2="1738.48" y2="394.15" stroke="#000" stroke-width="1.6"/>
<line x1="1748.99" y1="397.95" x2="1748.99" y2="394.15" stroke="#000" stroke-width="1.6"/>
<line x1="1759.49" y1="397.95" x2="1759.49" y2="394.15" stroke="#000" stroke-width="1.6"/>
<line x1="1770.00" y1="397.95" x2="1770.00" y2="394.15" stroke="#000" stroke-width="1.6"/>
<line x1="1780.50" y1="397.95" x2="1780.50" y2="390.95" stroke="#000" stroke-width="1.6"/>
<line x1="1307.80" y1="492.54" x2="1307.80" y2="485.54" stroke="#000" stroke-width="1.6"/>
<line x1="1318.30" y1="492.54" x2="1318.30" y2="488.74" stroke="#000" stroke-width="1.6"/>
<line x1="1328.81" y1="492.54" x2="1328.81" y2="488.74" stroke="#000" stroke-width="1.6"/>
<line x1="1339.31" y1="492.54" x2="1339.31" y2="488.74" stroke="#000" stroke-width="1.6"/>
<line x1="1349.82" y1="492.54" x2="1349.82" y2="488.74" stroke="#000" stroke-width="1.6"/>
<line x1="1360.32" y1="492.54" x2="1360.32" y2="485.54" stroke="#000" stroke-width="1.6"/>
<line x1="1370.83" y1="492.54" x2="1370.83" y2="488.74" stroke="#000" stroke-width="1.6"/>
<line x1="1381.33" y1="492.54" x2="1381.33" y2="488.74" stroke="#000" stroke-width="1.6"/>
<line x1="1391.84" y1="492.54" x2="1391.84" y2="488.74" stroke="#000" stroke-width="1.6"/>
<line x1="1402.34" y1="492.54" x2="1402.34" y2="488.74" stroke="#000" stroke-width="1.6"/>
<line x1="1412.84" y1="492.54" x2="1412.84" y2="485.54" stroke="#000" stroke-width="1.6"/>
<line x1="1423.35" y1="492.54" x2="1423.35" y2="488.74" stroke="#000" stroke-width="1.6"/>
<line x1="1433.85" y1="492.54" x2="1433.85" y2="488.74" stroke="#000" stroke-width="1.6"/>
<line x1="1444.36" y1="492.54" x2="1444.36" y2="488.74" stroke="#000" stroke-width="1.6"/>
<line x1="1454.86" y1="492.54" x2="1454.86" y2="488.74" stroke="#000" stroke-width="1.6"/>
<line x1="1465.37" y1="492.54" x2="1465.37" y2="485.54" stroke="#000" stroke-width="1.6"/>
<line x1="1475.87" y1="492.54" x2="1475.87" y2="488.74" stroke="#000" stroke-width="1.6"/>
<line x1="1486.38" y1="492.54" x2="1486.38" y2="488.74" stroke="#000" stroke-width="1.6"/>
<line x1="1496.88" y1="492.54" x2="1496.88" y2="488.74" stroke="#000" stroke-width="1.6"/>
<line x1="1507.38" y1="492.54" x2="1507.38" y2="488.74" stroke="#000" stroke-width="1.6"/>
<line x1="1517.89" y1="492.54" x2="1517.89" y2="485.54" stroke="#000" stroke-width="1.6"/>
<line x1="1528.39" y1="492.54" x2="1528.39" y2="488.74" stroke="#000" stroke-width="1.6"/>
<line x1="1538.90" y1="492.54" x2="1538.90" y2="488.74" stroke="#000" stroke-width="1.6"/>
<line x1="1549.40" y1="492.54" x2="1549.40" y2="488.74" stroke="#000" stroke-width="1.6"/>
<line x1="1559.91" y1="492.54" x2="1559.91" y2="488.74" stroke="#000" stroke-width="1.6"/>
<line x1="1570.41" y1="492.54" x2="1570.41" y2="485.54" stroke="#000" stroke-width="1.6"/>
<line x1="1580.92" y1="492.54" x2="1580.92" y2="488.74" stroke="#000" stroke-width="1.6"/>
<line x1="1591.42" y1="492.54" x2="1591.42" y2="488.74" stroke="#000" stroke-width="1.6"/>
<line x1="1601.92" y1="492.54" x2="1601.92" y2="488.74" stroke="#000" stroke-width="1.6"/>
<line x1="1612.43" y1="492.54" x2="1612.43" y2="488.74" stroke="#000" stroke-width="1.6"/>
<line x1="1622.93" y1="492.54" x2="1622.93" y2="485.54" stroke="#000" stroke-width="1.6"/>
<line x1="1633.44" y1="492.54" x2="1633.44" y2="488.74" stroke="#000" stroke-width="1.6"/>
<line x1="1643.94" y1="492.54" x2="1643.94" y2="488.74" stroke="#000" stroke-width="1.6"/>
<line x1="1654.45" y1="492.54" x2="1654.45" y2="488.74" stroke="#000" stroke-width="1.6"/>
<line x1="1664.95" y1="492.54" x2="1664.95" y2="488.74" stroke="#000" stroke-width="1.6"/>
<line x1="1675.46" y1="492.54" x2="1675.46" y2="485.54" stroke="#000" stroke-width="1.6"/>
<line x1="1685.96" y1="492.54" x2="1685.96" y2="488.74" stroke="#000" stroke-width="1.6"/>
<line x1="1696.46" y1="492.54" x2="1696.46" y2="488.74" stroke="#000" stroke-width="1.6"/>
<line x1="1706.97" y1="492.54" x2="1706.97" y2="488.74" stroke="#000" stroke-width="1.6"/>
<line x1="1717.47" y1="492.54" x2="1717.47" y2="488.74" stroke="#000" stroke-width="1.6"/>
<line x1="1727.98" y1="492.54" x2="1727.98" y2="485.54" stroke="#000" stroke-width="1.6"/>
<line x1="1738.48" y1="492.54" x2="1738.48" y2="488.74" stroke="#000" stroke-width="1.6"/>
<line x1="1748.99" y1="492.54" x2="1748.99" y2="488.74" stroke="#000" stroke-width="1.6"/>
<line x1="1759.49" y1="492.54" x2="1759.49" y2="488.74" stroke="#000" stroke-width="1.6"/>
<line x1="1770.00" y1="492.54" x2="1770.00" y2="488.74" stroke="#000" stroke-width="1.6"/>
<line x1="1780.50" y1="492.54" x2="1780.50" y2="485.54" stroke="#000" stroke-width="1.6"/>
<line x1="1307.80" y1="587.12" x2="1307.80" y2="580.12" stroke="#000" stroke-width="1.6"/>
<line x1="1318.30" y1="587.12" x2="1318.30" y2="583.33" stroke="#000" stroke-width="1.6"/>
<line x1="1328.81" y1="587.12" x2="1328.81" y2="583.33" stroke="#000" stroke-width="1.6"/>
<line x1="1339.31" y1="587.12" x2="1339.31" y2="583.33" stroke="#000" stroke-width="1.6"/>
<line x1="1349.82" y1="587.12" x2="1349.82" y2="583.33" stroke="#000" stroke-width="1.6"/>
<line x1="1360.32" y1="587.12" x2="1360.32" y2="580.12" stroke="#000" stroke-width="1.6"/>
<line x1="1370.83" y1="587.12" x2="1370.83" y2="583.33" stroke="#000" stroke-width="1.6"/>
<line x1="1381.33" y1="587.12" x2="1381.33" y2="583.33" stroke="#000" stroke-width="1.6"/>
<line x1="1391.84" y1="587.12" x2="1391.84" y2="583.33" stroke="#000" stroke-width="1.6"/>
<line x1="1402.34" y1="587.12" x2="1402.34" y2="583.33" stroke="#000" stroke-width="1.6"/>
<line x1="1412.84" y1="587.12" x2="1412.84" y2="580.12" stroke="#000" stroke-width="1.6"/>
<line x1="1423.35" y1="587.12" x2="1423.35" y2="583.33" stroke="#000" stroke-width="1.6"/>
<line x1="1433.85" y1="587.12" x2="1433.85" y2="583.33" stroke="#000" stroke-width="1.6"/>
<line x1="1444.36" y1="587.12" x2="1444.36" y2="583.33" stroke="#000" stroke-width="1.6"/>
<line x1="1454.86" y1="587.12" x2="1454.86" y2="583.33" stroke="#000" stroke-width="1.6"/>
<line x1="1465.37" y1="587.12" x2="1465.37" y2="580.12" stroke="#000" stroke-width="1.6"/>
<line x1="1475.87" y1="587.12" x2="1475.87" y2="583.33" stroke="#000" stroke-width="1.6"/>
<line x1="1486.38" y1="587.12" x2="1486.38" y2="583.33" stroke="#000" stroke-width="1.6"/>
<line x1="1496.88" y1="587.12" x2="1496.88" y2="583.33" stroke="#000" stroke-width="1.6"/>
<line x1="1507.38" y1="587.12" x2="1507.38" y2="583.33" stroke="#000" stroke-width="1.6"/>
<line x1="1517.89" y1="587.12" x2="1517.89" y2="580.12" stroke="#000" stroke-width="1.6"/>
<line x1="1528.39" y1="587.12" x2="1528.39" y2="583.33" stroke="#000" stroke-width="1.6"/>
<line x1="1538.90" y1="587.12" x2="1538.90" y2="583.33" stroke="#000" stroke-width="1.6"/>
<line x1="1549.40" y1="587.12" x2="1549.40" y2="583.33" stroke="#000" stroke-width="1.6"/>
<line x1="1559.91" y1="587.12" x2="1559.91" y2="583.33" stroke="#000" stroke-width="1.6"/>
<line x1="1570.41" y1="587.12" x2="1570.41" y2="580.12" stroke="#000" stroke-width="1.6"/>
<line x1="1580.92" y1="587.12" x2="1580.92" y2="583.33" stroke="#000" stroke-width="1.6"/>
<line x1="1591.42" y1="587.12" x2="1591.42" y2="583.33" stroke="#000" stroke-width="1.6"/>
<line x1="1601.92" y1="587.12" x2="1601.92" y2="583.33" stroke="#000" stroke-width="1.6"/>
<line x1="1612.43" y1="587.12" x2="1612.43" y2="583.33" stroke="#000" stroke-width="1.6"/>
<line x1="1622.93" y1="587.12" x2="1622.93" y2="580.12" stroke="#000" stroke-width="1.6"/>
<line x1="1633.44" y1="587.12" x2="1633.44" y2="583.33" stroke="#000" stroke-width="1.6"/>
<line x1="1643.94" y1="587.12" x2="1643.94" y2="583.33" stroke="#000" stroke-width="1.6"/>
<line x1="1654.45" y1="587.12" x2="1654.45" y2="583.33" stroke="#000" stroke-width="1.6"/>
<line x1="1664.95" y1="587.12" x2="1664.95" y2="583.33" stroke="#000" stroke-width="1.6"/>
<line x1="1675.46" y1="587.12" x2="1675.46" y2="580.12" stroke="#000" stroke-width="1.6"/>
<line x1="1685.96" y1="587.12" x2="1685.96" y2="583.33" stroke="#000" stroke-width="1.6"/>
<line x1="1696.46" y1="587.12" x2="1696.46" y2="583.33" stroke="#000" stroke-width="1.6"/>
<line x1="1706.97" y1="587.12" x2="1706.97" y2="583.33" stroke="#000" stroke-width="1.6"/>
<line x1="1717.47" y1="587.12" x2="1717.47" y2="583.33" stroke="#000" stroke-width="1.6"/>
<line x1="1727.98" y1="587.12" x2="1727.98" y2="580.12" stroke="#000" stroke-width="1.6"/>
<line x1="1738.48" y1="587.12" x2="1738.48" y2="583.33" stroke="#000" stroke-width="1.6"/>
<line x1="1748.99" y1="587.12" x2="1748.99" y2="583.33" stroke="#000" stroke-width="1.6"/>
<line x1="1759.49" y1="587.12" x2="1759.49" y2="583.33" stroke="#000" stroke-width="1.6"/>
<line x1="1770.00" y1="587.12" x2="1770.00" y2="583.33" stroke="#000" stroke-width="1.6"/>
<line x1="1780.50" y1="587.12" x2="1780.50" y2="580.12" stroke="#000" stroke-width="1.6"/>
<line x1="1307.80" y1="681.71" x2="1307.80" y2="674.71" stroke="#000" stroke-width="1.6"/>
<line x1="1318.30" y1="681.71" x2="1318.30" y2="677.91" stroke="#000" stroke-width="1.6"/>
<line x1="1328.81" y1="681.71" x2="1328.81" y2="677.91" stroke="#000" stroke-width="1.6"/>
<line x1="1339.31" y1="681.71" x2="1339.31" y2="677.91" stroke="#000" stroke-width="1.6"/>
<line x1="1349.82" y1="681.71" x2="1349.82" y2="677.91" stroke="#000" stroke-width="1.6"/>
<line x1="1360.32" y1="681.71" x2="1360.32" y2="674.71" stroke="#000" stroke-width="1.6"/>
<line x1="1370.83" y1="681.71" x2="1370.83" y2="677.91" stroke="#000" stroke-width="1.6"/>
<line x1="1381.33" y1="681.71" x2="1381.33" y2="677.91" stroke="#000" stroke-width="1.6"/>
<line x1="1391.84" y1="681.71" x2="1391.84" y2="677.91" stroke="#000" stroke-width="1.6"/>
<line x1="1402.34" y1="681.71" x2="1402.34" y2="677.91" stroke="#000" stroke-width="1.6"/>
<line x1="1412.84" y1="681.71" x2="1412.84" y2="674.71" stroke="#000" stroke-width="1.6"/>
<line x1="1423.35" y1="681.71" x2="1423.35" y2="677.91" stroke="#000" stroke-width="1.6"/>
<line x1="1433.85" y1="681.71" x2="1433.85" y2="677.91" stroke="#000" stroke-width="1.6"/>
<line x1="1444.36" y1="681.71" x2="1444.36" y2="677.91" stroke="#000" stroke-width="1.6"/>
<line x1="1454.86" y1="681.71" x2="1454.86" y2="677.91" stroke="#000" stroke-width="1.6"/>
<line x1="1465.37" y1="681.71" x2="1465.37" y2="674.71" stroke="#000" stroke-width="1.6"/>
<line x1="1475.87" y1="681.71" x2="1475.87" y2="677.91" stroke="#000" stroke-width="1.6"/>
<line x1="1486.38" y1="681.71" x2="1486.38" y2="677.91" stroke="#000" stroke-width="1.6"/>
<line x1="1496.88" y1="681.71" x2="1496.88" y2="677.91" stroke="#000" stroke-width="1.6"/>
<line x1="1507.38" y1="681.71" x2="1507.38" y2="677.91" stroke="#000" stroke-width="1.6"/>
<line x1="1517.89" y1="681.71" x2="1517.89" y2="674.71" stroke="#000" stroke-width="1.6"/>
<line x1="1528.39" y1="681.71" x2="1528.39" y2="677.91" stroke="#000" stroke-width="1.6"/>
<line x1="1538.90" y1="681.71" x2="1538.90" y2="677.91" stroke="#000" stroke-width="1.6"/>
<line x1="1549.40" y1="681.71" x2="1549.40" y2="677.91" stroke="#000" stroke-width="1.6"/>
<line x1="1559.91" y1="681.71" x2="1559.91" y2="677.91" stroke="#000" stroke-width="1.6"/>
<line x1="1570.41" y1="681.71" x2="1570.41" y2="674.71" stroke="#000" stroke-width="1.6"/>
<line x1="1580.92" y1="681.71" x2="1580.92" y2="677.91" stroke="#000" stroke-width="1.6"/>
<line x1="1591.42" y1="681.71" x2="1591.42" y2="677.91" stroke="#000" stroke-width="1.6"/>
<line x1="1601.92" y1="681.71" x2="1601.92" y2="677.91" stroke="#000" stroke-width="1.6"/>
<line x1="1612.43" y1="681.71" x2="1612.43" y2="677.91" stroke="#000" stroke-width="1.6"/>
<line x1="1622.93" y1="681.71" x2="1622.93" y2="674.71" stroke="#000" stroke-width="1.6"/>
<line x1="1633.44" y1="681.71" x2="1633.44" y2="677.91" stroke="#000" stroke-width="1.6"/>
<line x1="1643.94" y1="681.71" x2="1643.94" y2="677.91" stroke="#000" stroke-width="1.6"/>
<line x1="1654.45" y1="681.71" x2="1654.45" y2="677.91" stroke="#000" stroke-width="1.6"/>
<line x1="1664.95" y1="681.71" x2="1664.95" y2="677.91" stroke="#000" stroke-width="1.6"/>
<line x1="1675.46" y1="681.71" x2="1675.46" y2="674.71" stroke="#000" stroke-width="1.6"/>
<line x1="1685.96" y1="681.71" x2="1685.96" y2="677.91" stroke="#000" stroke-width="1.6"/>
<line x1="1696.46" y1="681.71" x2="1696.46" y2="677.91" stroke="#000" stroke-width="1.6"/>
<line x1="1706.97" y1="681.71" x2="1706.97" y2="677.91" stroke="#000" stroke-width="1.6"/>
<line x1="1717.47" y1="681.71" x2="1717.47" y2="677.91" stroke="#000" stroke-width="1.6"/>
<line x1="1727.98" y1="681.71" x2="1727.98" y2="674.71" stroke="#000" stroke-width="1.6"/>
<line x1="1738.48" y1="681.71" x2="1738.48" y2="677.91" stroke="#000" stroke-width="1.6"/>
<line x1="1748.99" y1="681.71" x2="1748.99" y2="677.91" stroke="#000" stroke-width="1.6"/>
<line x1="1759.49" y1="681.71" x2="1759.49" y2="677.91" stroke="#000" stroke-width="1.6"/>
<line x1="1770.00" y1="681.71" x2="1770.00" y2="677.91" stroke="#000" stroke-width="1.6"/>
<line x1="1780.50" y1="681.71" x2="1780.50" y2="674.71" stroke="#000" stroke-width="1.6"/>
<line x1="1307.80" y1="776.30" x2="1307.80" y2="769.30" stroke="#000" stroke-width="1.6"/>
<line x1="1318.30" y1="776.30" x2="1318.30" y2="772.50" stroke="#000" stroke-width="1.6"/>
<line x1="1328.81" y1="776.30" x2="1328.81" y2="772.50" stroke="#000" stroke-width="1.6"/>
<line x1="1339.31" y1="776.30" x2="1339.31" y2="772.50" stroke="#000" stroke-width="1.6"/>
<line x1="1349.82" y1="776.30" x2="1349.82" y2="772.50" stroke="#000" stroke-width="1.6"/>
<line x1="1360.32" y1="776.30" x2="1360.32" y2="769.30" stroke="#000" stroke-width="1.6"/>
<line x1="1370.83" y1="776.30" x2="1370.83" y2="772.50" stroke="#000" stroke-width="1.6"/>
<line x1="1381.33" y1="776.30" x2="1381.33" y2="772.50" stroke="#000" stroke-width="1.6"/>
<line x1="1391.84" y1="776.30" x2="1391.84" y2="772.50" stroke="#000" stroke-width="1.6"/>
<line x1="1402.34" y1="776.30" x2="1402.34" y2="772.50" stroke="#000" stroke-width="1.6"/>
<line x1="1412.84" y1="776.30" x2="1412.84" y2="769.30" stroke="#000" stroke-width="1.6"/>
<line x1="1423.35" y1="776.30" x2="1423.35" y2="772.50" stroke="#000" stroke-width="1.6"/>
<line x1="1433.85" y1="776.30" x2="1433.85" y2="772.50" stroke="#000" stroke-width="1.6"/>
<line x1="1444.36" y1="776.30" x2="1444.36" y2="772.50" stroke="#000" stroke-width="1.6"/>
<line x1="1454.86" y1="776.30" x2="1454.86" y2="772.50" stroke="#000" stroke-width="1.6"/>
<line x1="1465.37" y1="776.30" x2="1465.37" y2="769.30" stroke="#000" stroke-width="1.6"/>
<line x1="1475.87" y1="776.30" x2="1475.87" y2="772.50" stroke="#000" stroke-width="1.6"/>
<line x1="1486.38" y1="776.30" x2="1486.38" y2="772.50" stroke="#000" stroke-width="1.6"/>
<line x1="1496.88" y1="776.30" x2="1496.88" y2="772.50" stroke="#000" stroke-width="1.6"/>
<line x1="1507.38" y1="776.30" x2="1507.38" y2="772.50" stroke="#000" stroke-width="1.6"/>
<line x1="1517.89" y1="776.30" x2="1517.89" y2="769.30" stroke="#000" stroke-width="1.6"/>
<line x1="1528.39" y1="776.30" x2="1528.39" y2="772.50" stroke="#000" stroke-width="1.6"/>
<line x1="1538.90" y1="776.30" x2="1538.90" y2="772.50" stroke="#000" stroke-width="1.6"/>
<line x1="1549.40" y1="776.30" x2="1549.40" y2="772.50" stroke="#000" stroke-width="1.6"/>
<line x1="1559.91" y1="776.30" x2="1559.91" y2="772.50" stroke="#000" stroke-width="1.6"/>
<line x1="1570.41" y1="776.30" x2="1570.41" y2="769.30" stroke="#000" stroke-width="1.6"/>
<line x1="1580.92" y1="776.30" x2="1580.92" y2="772.50" stroke="#000" stroke-width="1.6"/>
<line x1="1591.42" y1="776.30" x2="1591.42" y2="772.50" stroke="#000" stroke-width="1.6"/>
<line x1="1601.92" y1="776.30" x2="1601.92" y2="772.50" stroke="#000" stroke-width="1.6"/>
<line x1="1612.43" y1="776.30" x2="1612.43" y2="772.50" stroke="#000" stroke-width="1.6"/>
<line x1="1622.93" y1="776.30" x2="1622.93" y2="769.30" stroke="#000" stroke-width="1.6"/>
<line x1="1633.44" y1="776.30" x2="1633.44" y2="772.50" stroke="#000" stroke-width="1.6"/>
<line x1="1643.94" y1="776.30" x2="1643.94" y2="772.50" stroke="#000" stroke-width="1.6"/>
<line x1="1654.45" y1="776.30" x2="1654.45" y2="772.50" stroke="#000" stroke-width="1.6"/>
<line x1="1664.95" y1="776.30" x2="1664.95" y2="772.50" stroke="#000" stroke-width="1.6"/>
<line x1="1675.46" y1="776.30" x2="1675.46" y2="769.30" stroke="#000" stroke-width="1.6"/>
<line x1="1685.96" y1="776.30" x2="1685.96" y2="772.50" stroke="#000" stroke-width="1.6"/>
<line x1="1696.46" y1="776.30" x2="1696.46" y2="772.50" stroke="#000" stroke-width="1.6"/>
<line x1="1706.97" y1="776.30" x2="1706.97" y2="772.50" stroke="#000" stroke-width="1.6"/>
<line x1="1717.47" y1="776.30" x2="1717.47" y2="772.50" stroke="#000" stroke-width="1.6"/>
<line x1="1727.98" y1="776.30" x2="1727.98" y2="769.30" stroke="#000" stroke-width="1.6"/>
<line x1="1738.48" y1="776.30" x2="1738.48" y2="772.50" stroke="#000" stroke-width="1.6"/>
<line x1="1748.99" y1="776.30" x2="1748.99" y2="772.50" stroke="#000" stroke-width="1.6"/>
<line x1="1759.49" y1="776.30" x2="1759.49" y2="772.50" stroke="#000" stroke-width="1.6"/>
<line x1="1770.00" y1="776.30" x2="1770.00" y2="772.50" stroke="#000" stroke-width="1.6"/>
<line x1="1780.50" y1="776.30" x2="1780.50" y2="769.30" stroke="#000" stroke-width="1.6"/>
<line x1="1306.80" y1="19.60" x2="1781.50" y2="19.60" stroke="#000" stroke-width="2.4"/>
<line x1="1306.80" y1="114.19" x2="1781.50" y2="114.19" stroke="#000" stroke-width="3.2"/>
<line x1="1306.80" y1="208.77" x2="1781.50" y2="208.77" stroke="#000" stroke-width="3.2"/>
<line x1="1306.80" y1="303.36" x2="1781.50" y2="303.36" stroke="#000" stroke-width="3.2"/>
<line x1="1306.80" y1="397.95" x2="1781.50" y2="397.95" stroke="#000" stroke-width="3.2"/>
<line x1="1306.80" y1="492.54" x2="1781.50" y2="492.54" stroke="#000" stroke-width="3.2"/>
<line x1="1306.80" y1="587.12" x2="1781.50" y2="587.12" stroke="#000" stroke-width="3.2"/>
<line x1="1306.80" y1="681.71" x2="1781.50" y2="681.71" stroke="#000" stroke-width="3.2"/>
<line x1="1306.80" y1="776.30" x2="1781.50" y2="776.30" stroke="#000" stroke-width="2.4"/>
<line x1="1307.80" y1="19.60" x2="1307.80" y2="776.30" stroke="#000" stroke-width="2.4"/>
<line x1="1780.50" y1="19.60" x2="1780.50" y2="776.30" stroke="#000" stroke-width="2.4"/>
<text x="1287.91" y="29.78" font-family='"Liberation Sans", Arial, sans-serif' font-size="29.50" fill="#000" >4</text>
<text x="1288.50" y="77.62" font-family='"Liberation Sans", Arial, sans-serif' font-size="29.50" fill="#000" >2</text>
<text x="1287.91" y="124.36" font-family='"Liberation Sans", Arial, sans-serif' font-size="29.50" fill="#000" >4</text>
<text x="1288.50" y="172.21" font-family='"Liberation Sans", Arial, sans-serif' font-size="29.50" fill="#000" >2</text>
<text x="1287.91" y="218.95" font-family='"Liberation Sans", Arial, sans-serif' font-size="29.50" fill="#000" >4</text>
<text x="1288.50" y="266.79" font-family='"Liberation Sans", Arial, sans-serif' font-size="29.50" fill="#000" >2</text>
<text x="1287.91" y="313.54" font-family='"Liberation Sans", Arial, sans-serif' font-size="29.50" fill="#000" >4</text>
<text x="1288.50" y="361.38" font-family='"Liberation Sans", Arial, sans-serif' font-size="29.50" fill="#000" >2</text>
<text x="1287.91" y="408.13" font-family='"Liberation Sans", Arial, sans-serif' font-size="29.50" fill="#000" >4</text>
<text x="1288.50" y="455.97" font-family='"Liberation Sans", Arial, sans-serif' font-size="29.50" fill="#000" >2</text>
<text x="1287.91" y="502.71" font-family='"Liberation Sans", Arial, sans-serif' font-size="29.50" fill="#000" >4</text>
<text x="1288.50" y="550.56" font-family='"Liberation Sans", Arial, sans-serif' font-size="29.50" fill="#000" >2</text>
<text x="1287.91" y="597.30" font-family='"Liberation Sans", Arial, sans-serif' font-size="29.50" fill="#000" >4</text>
<text x="1288.50" y="645.14" font-family='"Liberation Sans", Arial, sans-serif' font-size="29.50" fill="#000" >2</text>
<text x="1287.91" y="691.89" font-family='"Liberation Sans", Arial, sans-serif' font-size="29.50" fill="#000" >4</text>
<text x="1288.50" y="739.73" font-family='"Liberation Sans", Arial, sans-serif' font-size="29.50" fill="#000" >2</text>
<text x="1288.21" y="782.48" font-family='"Liberation Sans", Arial, sans-serif' font-size="29.50" fill="#000" >0</text>
<text x="1287.21" y="808.10" font-family='"Liberation Sans", Arial, sans-serif' font-size="29.00" fill="#000" >1.3</text>
<text x="1339.51" y="807.81" font-family='"Liberation Sans", Arial, sans-serif' font-size="29.00" fill="#000" >1.4</text>
<text x="1392.18" y="807.81" font-family='"Liberation Sans", Arial, sans-serif' font-size="29.00" fill="#000" >1.5</text>
<text x="1444.78" y="808.10" font-family='"Liberation Sans", Arial, sans-serif' font-size="29.00" fill="#000" >1.6</text>
<text x="1497.37" y="807.81" font-family='"Liberation Sans", Arial, sans-serif' font-size="29.00" fill="#000" >1.7</text>
<text x="1549.75" y="808.10" font-family='"Liberation Sans", Arial, sans-serif' font-size="29.00" fill="#000" >1.8</text>
<text x="1602.34" y="808.10" font-family='"Liberation Sans", Arial, sans-serif' font-size="29.00" fill="#000" >1.9</text>
<text x="1655.16" y="808.10" font-family='"Liberation Sans", Arial, sans-serif' font-size="29.00" fill="#000" >2.0</text>
<text x="1707.82" y="808.10" font-family='"Liberation Sans", Arial, sans-serif' font-size="29.00" fill="#000" >2.1</text>
<text x="1760.35" y="808.10" font-family='"Liberation Sans", Arial, sans-serif' font-size="29.00" fill="#000" >2.2</text>
<text x="1457.58" y="838.60" font-family='"Liberation Sans", Arial, sans-serif' font-size="29.00" fill="#000" >Energy (eV)</text>
<text x="1244.56" y="28.71" font-family='"Liberation Sans", Arial, sans-serif' font-size="39.00" fill="#000" font-weight="bold" >b</text>
<g transform="translate(1268.00,384.00) rotate(-90)"><text x="-139.17" y="0" font-family='"Liberation Sans", Arial, sans-serif' font-size="32.00" fill="#000"><tspan>PL counts (x10</tspan><tspan font-size="21.12" dy="-12.48">4</tspan><tspan dy="12.48">&#8203;</tspan><tspan> s</tspan><tspan font-size="21.12" dy="-12.48">-1</tspan><tspan dy="12.48">&#8203;</tspan><tspan>)</tspan></text></g>
<filter id="blr" x="-5%" y="-5%" width="110%" height="110%"><feGaussianBlur stdDeviation="0.8"/></filter>
<clipPath id="ci1"><rect x="1314.20" y="22.20" width="137.50" height="86.40"/></clipPath>
<rect x="1314.20" y="22.20" width="137.50" height="86.40" fill="#16194b"/>
<g clip-path="url(#ci1)"><g filter="url(#blr)">
<path d="M1328.00,22.00 L1404.00,22.00 L1398.00,40.00 L1380.00,78.00 L1372.00,108.00 L1358.00,108.00 L1340.00,70.00 Z" fill="#1a1f5c"/>
<path d="M1386.00,22.00 L1404.00,22.00 L1398.00,34.00 L1392.00,28.00 Z" fill="#1f2670"/>
</g></g>
<clipPath id="ci2"><rect x="1321.20" y="118.90" width="114.90" height="77.70"/></clipPath>
<rect x="1321.20" y="118.90" width="114.90" height="77.70" fill="#191d55"/>
<g clip-path="url(#ci2)"><g filter="url(#blr)">
<path d="M1321.20,144.00 L1346.90,141.50 L1373.50,136.00 L1389.50,129.00 L1400.00,124.00 L1412.00,123.00 L1424.00,126.00 L1431.00,137.50 L1422.00,157.00 L1400.10,161.00 L1357.60,164.10 L1321.20,166.30 Z" fill="#1e3b8e"/>
<path d="M1408.00,118.90 L1436.10,118.90 L1436.10,135.00 L1426.00,127.00 L1412.00,123.00 L1402.00,123.50 Z" fill="#1b2266"/>
<path d="M1321.20,137.50 L1336.30,136.50 L1357.60,134.30 L1378.80,131.10 L1395.90,122.60 L1404.40,118.90 L1412.00,118.90 L1405.40,122.60 L1389.50,130.10 L1373.50,137.00 L1346.90,142.90 L1321.20,146.00 Z" fill="#3d86d6"/>
<path d="M1321.20,118.90 L1404.40,118.90 L1395.90,122.60 L1378.80,131.10 L1357.60,134.30 L1336.30,136.50 L1321.20,137.50 Z" fill="#86c8f6"/>
<path d="M1413.90,131.10 L1429.90,137.50 L1421.40,154.60 L1415.00,147.10 Z" fill="#3565c4"/>
</g></g>
<clipPath id="ci3"><rect x="1551.10" y="314.50" width="211.90" height="171.30"/></clipPath>
<rect x="1551.10" y="314.50" width="211.90" height="171.30" fill="#141843"/>
<g clip-path="url(#ci3)"><g filter="url(#blr)">
<path d="M1551.09,314.52 L1560.22,314.52 L1566.74,328.65 L1588.48,340.61 L1608.04,362.35 L1679.78,344.96 L1740.65,340.61 L1736.30,353.65 L1742.83,360.17 L1731.96,371.04 L1740.65,388.43 L1734.13,394.96 L1750.43,410.17 L1751.52,460.17 L1756.96,485.83 L1595.00,485.83 L1571.09,449.30 L1553.70,416.70 L1551.09,410.17 Z" fill="#2553b0"/>
<path d="M1608.04,362.35 L1679.78,344.96 L1740.65,340.61 L1736.30,353.65 L1742.83,360.17 L1731.96,371.04 L1740.65,388.43 L1734.13,394.96 L1750.43,410.17 L1751.52,425.39 L1697.17,405.83 L1642.83,386.26 L1588.48,368.87 L1584.13,360.17 Z" fill="#1e4199"/>
<path d="M1551.09,379.74 L1588.48,392.78 L1642.83,410.17 L1697.17,431.91 L1751.52,458.00 L1756.96,485.83 L1718.91,485.83 L1675.43,458.00 L1621.09,436.26 L1566.74,416.70 L1551.09,412.35 Z" fill="#2a62c2"/>
<path d="M1588.48,316.70 L1597.17,316.70 L1593.91,324.30 L1589.57,324.30 Z" fill="#5aa0e6"/>
<path d="M1714.57,327.57 L1723.26,325.39 L1760.22,336.26 L1761.30,340.61 L1740.65,338.43 L1718.91,331.91 Z" fill="#5e9ee0"/>
</g></g>
<path d="M1582.39,350.39 C1580.51,352.75 1574.24,359.27 1571.09,364.52 C1567.93,369.78 1565.65,376.12 1563.48,381.91 C1561.30,387.71 1559.31,394.23 1558.04,399.30 C1556.78,404.38 1556.23,410.17 1555.87,412.35" fill="none" stroke="#182558" stroke-width="1.5" opacity="0.8"/>
<clipPath id="ci4"><rect x="1549.20" y="530.00" width="218.00" height="224.20"/></clipPath>
<rect x="1549.20" y="530.00" width="218.00" height="224.20" fill="#131741"/>
<g clip-path="url(#ci4)"><g filter="url(#blr)">
<path d="M1608.89,550.00 L1633.89,543.06 L1661.67,558.33 L1728.33,600.00 L1764.44,552.78 L1767.22,561.11 L1758.89,636.11 L1761.67,675.00 L1733.89,680.56 L1645.00,705.56 L1628.33,713.89 L1608.89,733.33 L1586.67,736.11 L1561.67,725.00 L1557.50,697.22 L1561.67,663.89 L1572.78,647.22 L1572.78,605.56 L1581.11,608.33 L1589.44,580.56 L1603.33,555.56 Z" fill="#2f77c7"/>
<path d="M1608.89,550.00 L1633.89,543.06 L1661.67,558.33 L1700.56,583.33 L1656.11,608.33 L1614.44,630.56 L1583.89,633.33 L1589.44,580.56 L1603.33,555.56 Z" fill="#3683d0"/>
<path d="M1642.22,704.17 L1658.89,686.11 L1695.00,678.33 L1728.33,670.00 L1739.44,679.17 L1700.56,691.67 L1661.67,702.78 Z" fill="#92d0ef"/>
<path d="M1728.33,670.00 L1761.67,675.00 L1760.28,679.17 L1739.44,680.56 Z" fill="#7cc0ee"/>
<path d="M1600.00,537.50 L1608.89,537.50 L1607.50,558.33 L1599.17,558.33 Z" fill="#3b8ce2"/>
<path d="M1572.78,605.56 L1581.11,608.33 L1578.33,641.67 L1571.39,641.67 Z" fill="#3a88dc"/>
</g></g>
<rect x="1386.70" y="88.60" width="45.50" height="5.00" fill="#fff"/>
<text x="1387.08" y="83.20" font-family='"Liberation Serif", "Times New Roman", serif' font-size="21.30" fill="#fff" >10 μm</text>
<rect x="1336.80" y="186.40" width="83.50" height="4.40" fill="#fff"/>
<text x="1351.83" y="181.10" font-family='"Liberation Serif", "Times New Roman", serif' font-size="21.50" fill="#fff" >20 μm</text>
<rect x="1611.30" y="342.30" width="58.70" height="3.10" fill="#fff"/>
<text x="1611.43" y="336.30" font-family='"Liberation Serif", "Times New Roman", serif' font-size="21.50" fill="#fff" >20 μm</text>
<rect x="1635.30" y="744.60" width="101.40" height="3.40" fill="#fff"/>
<text x="1655.13" y="739.70" font-family='"Liberation Serif", "Times New Roman", serif' font-size="21.50" fill="#fff" >20 μm</text>
<line x1="1526.60" y1="42.10" x2="1381.68" y2="50.80" stroke="#000" stroke-width="1.60"/>
<path d="M1373.30,51.30 L1385.01,46.09 L1381.68,50.80 L1385.55,55.07 Z" fill="#000"/>
<line x1="1442.70" y1="142.30" x2="1400.38" y2="149.41" stroke="#f21414" stroke-width="1.60"/>
<path d="M1392.10,150.80 L1403.19,144.37 L1400.38,149.41 L1404.68,153.25 Z" fill="#f21414"/>
<line x1="1735.30" y1="258.60" x2="1715.19" y2="356.27" stroke="#22e022" stroke-width="1.60"/>
<path d="M1713.50,364.50 L1711.51,351.84 L1715.19,356.27 L1720.33,353.65 Z" fill="#22e022"/>
<line x1="1537.00" y1="337.20" x2="1579.52" y2="368.25" stroke="#1c1ce6" stroke-width="1.60"/>
<path d="M1586.30,373.20 L1573.96,369.76 L1579.52,368.25 L1579.26,362.49 Z" fill="#1c1ce6"/>
<line x1="1531.50" y1="418.60" x2="1580.40" y2="420.22" stroke="#8a22f0" stroke-width="1.60"/>
<path d="M1588.80,420.50 L1576.66,424.60 L1580.40,420.22 L1576.96,415.60 Z" fill="#8a22f0"/>
<line x1="1531.50" y1="520.40" x2="1625.41" y2="580.00" stroke="#f21ef2" stroke-width="1.60"/>
<path d="M1632.50,584.50 L1619.96,581.87 L1625.41,580.00 L1624.78,574.27 Z" fill="#f21ef2"/>
<line x1="1524.70" y1="614.00" x2="1593.11" y2="648.70" stroke="#ff8a14" stroke-width="1.60"/>
<path d="M1600.60,652.50 L1587.86,651.08 L1593.11,648.70 L1591.93,643.06 Z" fill="#ff8a14"/>
<line x1="1526.10" y1="707.70" x2="1578.11" y2="709.51" stroke="#8c8c14" stroke-width="1.60"/>
<path d="M1586.50,709.80 L1574.35,713.88 L1578.11,709.51 L1574.66,704.89 Z" fill="#8c8c14"/>
<text x="1530.91" y="47.00" font-family='"Liberation Serif", "Times New Roman", serif' font-size="27.70" fill="#000" >1 ML</text>
<text x="1449.95" y="141.80" font-family='"Liberation Serif", "Times New Roman", serif' font-size="27.70" fill="#f21414" >2 ML</text>
<text x="1707.21" y="245.52" font-family='"Liberation Serif", "Times New Roman", serif' font-size="27.70" fill="#22e022" >3 ML</text>
<text x="1472.45" y="341.30" font-family='"Liberation Serif", "Times New Roman", serif' font-size="27.70" fill="#1c1ce6" >4 ML</text>
<text x="1469.94" y="423.72" font-family='"Liberation Serif", "Times New Roman", serif' font-size="27.70" fill="#8a22f0" >5 ML</text>
<text x="1463.55" y="525.02" font-family='"Liberation Serif", "Times New Roman", serif' font-size="27.70" fill="#f21ef2" >6 ML</text>
<text x="1463.00" y="625.00" font-family='"Liberation Serif", "Times New Roman", serif' font-size="27.70" fill="#ff8a14" >7 ML</text>
<text x="1463.69" y="719.72" font-family='"Liberation Serif", "Times New Roman", serif' font-size="27.70" fill="#8c8c14" >8 ML</text>
<text x="1568.79" y="197.28" font-family='"Liberation Serif", "Times New Roman", serif' font-size="21.20" fill="#000" >x3.6 10</text>
<text x="1631.28" y="187.80" font-family='"Liberation Serif", "Times New Roman", serif' font-size="12.50" fill="#000" >2</text>
<text x="1470.09" y="289.58" font-family='"Liberation Serif", "Times New Roman", serif' font-size="21.20" fill="#000" >x3.6 10</text>
<text x="1532.51" y="279.97" font-family='"Liberation Serif", "Times New Roman", serif' font-size="12.50" fill="#000" >3</text>
<text x="1455.09" y="387.28" font-family='"Liberation Serif", "Times New Roman", serif' font-size="21.20" fill="#000" >x3.6 10</text>
<text x="1517.51" y="377.68" font-family='"Liberation Serif", "Times New Roman", serif' font-size="12.50" fill="#000" >3</text>
<text x="1422.39" y="483.68" font-family='"Liberation Serif", "Times New Roman", serif' font-size="21.20" fill="#000" >x5.4 10</text>
<text x="1484.81" y="474.07" font-family='"Liberation Serif", "Times New Roman", serif' font-size="12.50" fill="#000" >3</text>
<text x="1422.39" y="577.39" font-family='"Liberation Serif", "Times New Roman", serif' font-size="21.20" fill="#000" >x1 10</text>
<text x="1469.29" y="567.80" font-family='"Liberation Serif", "Times New Roman", serif' font-size="12.50" fill="#000" >4</text>
<text x="1422.39" y="672.28" font-family='"Liberation Serif", "Times New Roman", serif' font-size="21.20" fill="#000" >x1.2 10</text>
<text x="1485.19" y="662.80" font-family='"Liberation Serif", "Times New Roman", serif' font-size="12.50" fill="#000" >4</text>
<text x="1422.39" y="767.28" font-family='"Liberation Serif", "Times New Roman", serif' font-size="21.20" fill="#000" >x1.2 10</text>
<text x="1485.19" y="757.80" font-family='"Liberation Serif", "Times New Roman", serif' font-size="12.50" fill="#000" >4</text>
<text x="1663.34" y="66.00" font-family='"Liberation Sans", Arial, sans-serif' font-size="32.50" fill="#bc3a3d" >A</text>
<text x="1663.34" y="179.90" font-family='"Liberation Sans", Arial, sans-serif' font-size="32.50" fill="#bc3a3d" >A</text>
<text x="1663.34" y="283.10" font-family='"Liberation Sans", Arial, sans-serif' font-size="32.50" fill="#bc3a3d" >A</text>
<rect x="1493.40" y="147.20" width="3.30" height="23.20" fill="#00eeee"/>
<rect x="1420.70" y="225.90" width="3.30" height="23.10" fill="#00eeee"/>
<rect x="1375.70" y="322.20" width="3.80" height="23.20" fill="#00eeee"/>
<rect x="1355.80" y="424.00" width="3.10" height="23.20" fill="#00eeee"/>
<rect x="1343.60" y="509.00" width="3.30" height="22.30" fill="#00eeee"/>
<rect x="1338.10" y="605.90" width="3.00" height="23.10" fill="#00eeee"/>
<rect x="1334.90" y="705.00" width="3.00" height="23.10" fill="#00eeee"/>
</svg></body></html>
